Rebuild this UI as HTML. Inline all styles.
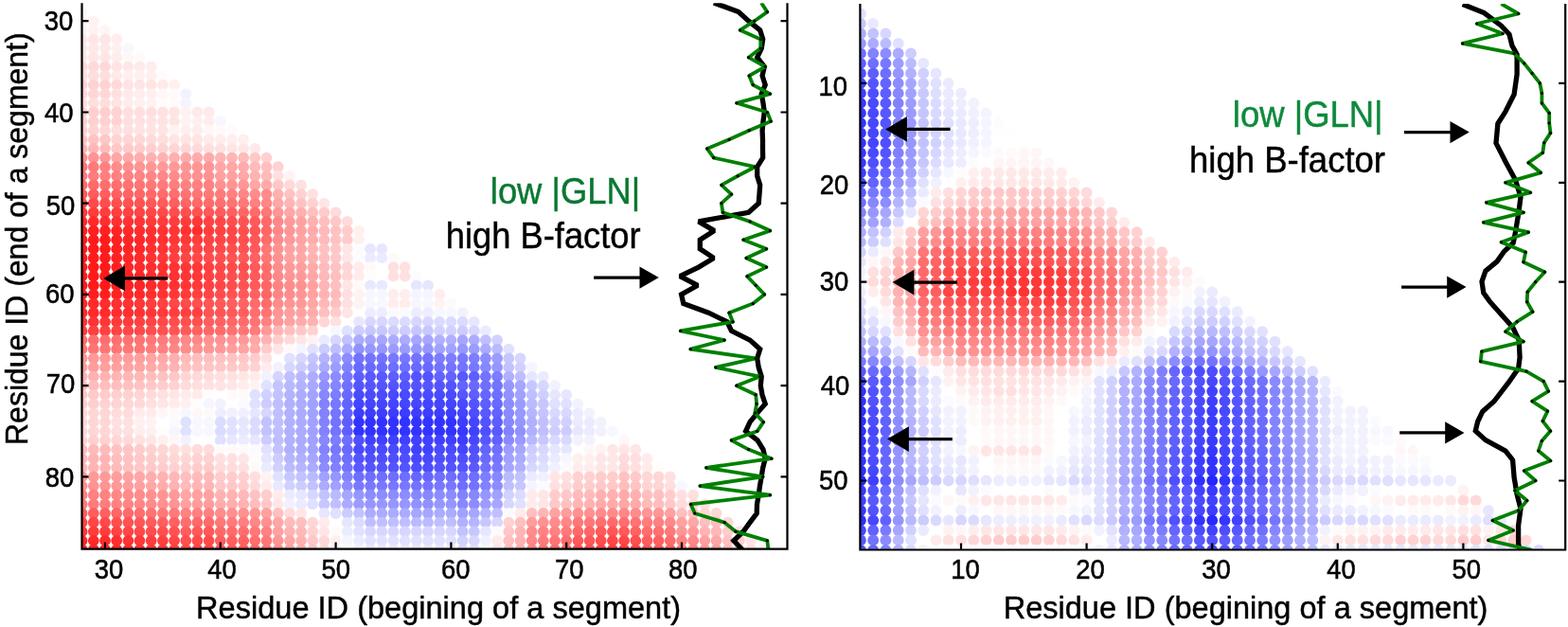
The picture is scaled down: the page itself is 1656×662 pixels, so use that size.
<!DOCTYPE html>
<html><head><meta charset="utf-8"><title>GLN vs B-factor</title>
<style>
html,body{margin:0;padding:0;background:#fff;overflow:hidden;}
svg{display:block;}
.tk{font-family:"Liberation Sans",Arial,sans-serif;font-size:29px;fill:#000;stroke:#000;stroke-width:0.55px;}
.al{font-family:"Liberation Sans",Arial,sans-serif;font-size:33px;fill:#000;stroke:#000;stroke-width:0.45px;}
.an{font-family:"Liberation Sans",Arial,sans-serif;font-size:38px;stroke-width:0.45px;}
</style></head><body>
<svg width="1656" height="662" viewBox="0 0 1656 662">
<defs><clipPath id="c1"><rect x="86.5" y="3.3" width="745.0" height="576.3"/></clipPath>
<clipPath id="c2"><rect x="908.4" y="4.1" width="744.8" height="576.4"/></clipPath></defs>
<rect width="1656" height="662" fill="#fff"/>
<g clip-path="url(#c1)"><circle cx="86.6" cy="12.6" r="5.90" fill="#f7f7ff"/>
<circle cx="86.6" cy="22.2" r="5.90" fill="#fff7f7"/>
<circle cx="98.8" cy="22.2" r="5.90" fill="#fff2f2"/>
<circle cx="86.6" cy="31.8" r="5.90" fill="#fff2f2"/>
<circle cx="98.8" cy="31.8" r="5.90" fill="#fff2f2"/>
<circle cx="111.0" cy="31.8" r="5.90" fill="#fff5f5"/>
<circle cx="86.6" cy="41.5" r="5.90" fill="#ffe6e6"/>
<circle cx="98.8" cy="41.5" r="5.90" fill="#ffe6e6"/>
<circle cx="111.0" cy="41.5" r="5.90" fill="#ffe6e6"/>
<circle cx="123.2" cy="41.5" r="5.90" fill="#ffeded"/>
<circle cx="86.6" cy="51.1" r="5.90" fill="#ffe8e8"/>
<circle cx="98.8" cy="51.1" r="5.90" fill="#ffe8e8"/>
<circle cx="111.0" cy="51.1" r="5.90" fill="#ffe8e8"/>
<circle cx="123.2" cy="51.1" r="5.90" fill="#fff0f0"/>
<circle cx="135.4" cy="51.1" r="5.90" fill="#f7f7ff"/>
<circle cx="86.6" cy="60.7" r="5.90" fill="#ffe6e6"/>
<circle cx="98.8" cy="60.7" r="5.90" fill="#ffe6e6"/>
<circle cx="111.0" cy="60.7" r="5.90" fill="#ffe6e6"/>
<circle cx="123.2" cy="60.7" r="5.90" fill="#ffeded"/>
<circle cx="135.4" cy="60.7" r="5.90" fill="#fff7f7"/>
<circle cx="147.5" cy="60.7" r="5.90" fill="#fffafa"/>
<circle cx="86.6" cy="70.3" r="5.90" fill="#ffd9d9"/>
<circle cx="98.8" cy="70.3" r="5.90" fill="#ffd9d9"/>
<circle cx="111.0" cy="70.3" r="5.90" fill="#ffd9d9"/>
<circle cx="123.2" cy="70.3" r="5.90" fill="#ffe4e4"/>
<circle cx="135.4" cy="70.3" r="5.90" fill="#ffe7e7"/>
<circle cx="147.5" cy="70.3" r="5.90" fill="#ffe9e9"/>
<circle cx="159.7" cy="70.3" r="5.90" fill="#ffeded"/>
<circle cx="86.6" cy="80.0" r="5.90" fill="#ffdede"/>
<circle cx="98.8" cy="80.0" r="5.90" fill="#ffdede"/>
<circle cx="111.0" cy="80.0" r="5.90" fill="#ffdede"/>
<circle cx="123.2" cy="80.0" r="5.90" fill="#ffe9e9"/>
<circle cx="135.4" cy="80.0" r="5.90" fill="#ffefef"/>
<circle cx="147.5" cy="80.0" r="5.90" fill="#ffefef"/>
<circle cx="159.7" cy="80.0" r="5.90" fill="#ffefef"/>
<circle cx="171.9" cy="80.0" r="5.90" fill="#fffbfb"/>
<circle cx="86.6" cy="89.6" r="5.90" fill="#ffd3d3"/>
<circle cx="98.8" cy="89.6" r="5.90" fill="#ffd3d3"/>
<circle cx="111.0" cy="89.6" r="5.90" fill="#ffd3d3"/>
<circle cx="123.2" cy="89.6" r="5.90" fill="#ffd9d9"/>
<circle cx="135.4" cy="89.6" r="5.90" fill="#ffe4e4"/>
<circle cx="147.5" cy="89.6" r="5.90" fill="#ffe4e4"/>
<circle cx="159.7" cy="89.6" r="5.90" fill="#ffe4e4"/>
<circle cx="171.9" cy="89.6" r="5.90" fill="#ffe9e9"/>
<circle cx="184.1" cy="89.6" r="5.90" fill="#ffefef"/>
<circle cx="86.6" cy="99.2" r="5.90" fill="#ffd7d7"/>
<circle cx="98.8" cy="99.2" r="5.90" fill="#ffd7d7"/>
<circle cx="111.0" cy="99.2" r="5.90" fill="#ffd7d7"/>
<circle cx="123.2" cy="99.2" r="5.90" fill="#ffe0e0"/>
<circle cx="135.4" cy="99.2" r="5.90" fill="#ffe9e9"/>
<circle cx="147.5" cy="99.2" r="5.90" fill="#ffecec"/>
<circle cx="159.7" cy="99.2" r="5.90" fill="#ffefef"/>
<circle cx="171.9" cy="99.2" r="5.90" fill="#fff8f8"/>
<circle cx="184.1" cy="99.2" r="5.90" fill="#fffbfb"/>
<circle cx="196.3" cy="99.2" r="5.90" fill="#f2f2ff"/>
<circle cx="86.6" cy="108.8" r="5.90" fill="#ffdede"/>
<circle cx="98.8" cy="108.8" r="5.90" fill="#ffdede"/>
<circle cx="111.0" cy="108.8" r="5.90" fill="#ffdede"/>
<circle cx="123.2" cy="108.8" r="5.90" fill="#ffe4e4"/>
<circle cx="135.4" cy="108.8" r="5.90" fill="#ffeded"/>
<circle cx="147.5" cy="108.8" r="5.90" fill="#ffefef"/>
<circle cx="159.7" cy="108.8" r="5.90" fill="#fff2f2"/>
<circle cx="171.9" cy="108.8" r="5.90" fill="#fffbfb"/>
<circle cx="184.1" cy="108.8" r="5.90" fill="#fffbfb"/>
<circle cx="196.3" cy="108.8" r="5.90" fill="#f5f5ff"/>
<circle cx="86.6" cy="118.5" r="5.90" fill="#ffcece"/>
<circle cx="98.8" cy="118.5" r="5.90" fill="#ffcece"/>
<circle cx="111.0" cy="118.5" r="5.90" fill="#ffcece"/>
<circle cx="123.2" cy="118.5" r="5.90" fill="#ffd3d3"/>
<circle cx="135.4" cy="118.5" r="5.90" fill="#ffdede"/>
<circle cx="147.5" cy="118.5" r="5.90" fill="#ffdede"/>
<circle cx="159.7" cy="118.5" r="5.90" fill="#ffdede"/>
<circle cx="171.9" cy="118.5" r="5.90" fill="#ffe1e1"/>
<circle cx="184.1" cy="118.5" r="5.90" fill="#ffe4e4"/>
<circle cx="196.3" cy="118.5" r="5.90" fill="#fff2f2"/>
<circle cx="208.4" cy="118.5" r="5.90" fill="#ffe9e9"/>
<circle cx="220.6" cy="118.5" r="5.90" fill="#ffe9e9"/>
<circle cx="86.6" cy="128.1" r="5.90" fill="#ffcece"/>
<circle cx="98.8" cy="128.1" r="5.90" fill="#ffd0d0"/>
<circle cx="111.0" cy="128.1" r="5.90" fill="#ffd1d1"/>
<circle cx="123.2" cy="128.1" r="5.90" fill="#ffd3d3"/>
<circle cx="135.4" cy="128.1" r="5.90" fill="#ffdede"/>
<circle cx="147.5" cy="128.1" r="5.90" fill="#ffe0e0"/>
<circle cx="159.7" cy="128.1" r="5.90" fill="#ffe2e2"/>
<circle cx="171.9" cy="128.1" r="5.90" fill="#ffe3e3"/>
<circle cx="184.1" cy="128.1" r="5.90" fill="#ffe4e4"/>
<circle cx="196.3" cy="128.1" r="5.90" fill="#fff2f2"/>
<circle cx="208.4" cy="128.1" r="5.90" fill="#ffefef"/>
<circle cx="220.6" cy="128.1" r="5.90" fill="#ffeded"/>
<circle cx="232.8" cy="128.1" r="5.90" fill="#f7f7ff"/>
<circle cx="86.6" cy="137.7" r="5.90" fill="#ffcece"/>
<circle cx="98.8" cy="137.7" r="5.90" fill="#ffd3d3"/>
<circle cx="111.0" cy="137.7" r="5.90" fill="#ffd7d7"/>
<circle cx="123.2" cy="137.7" r="5.90" fill="#ffdede"/>
<circle cx="135.4" cy="137.7" r="5.90" fill="#ffe0e0"/>
<circle cx="147.5" cy="137.7" r="5.90" fill="#ffe2e2"/>
<circle cx="159.7" cy="137.7" r="5.90" fill="#ffe3e3"/>
<circle cx="171.9" cy="137.7" r="5.90" fill="#ffe4e4"/>
<circle cx="184.1" cy="137.7" r="5.90" fill="#fff2f2"/>
<circle cx="196.3" cy="137.7" r="5.90" fill="#ffefef"/>
<circle cx="208.4" cy="137.7" r="5.90" fill="#ffeded"/>
<circle cx="220.6" cy="137.7" r="5.90" fill="#fff8f8"/>
<circle cx="232.8" cy="137.7" r="5.90" fill="#fff9f9"/>
<circle cx="245.0" cy="137.7" r="5.90" fill="#fffbfb"/>
<circle cx="86.6" cy="147.3" r="5.90" fill="#ffc1c1"/>
<circle cx="98.8" cy="147.3" r="5.90" fill="#ffc4c4"/>
<circle cx="111.0" cy="147.3" r="5.90" fill="#ffc8c8"/>
<circle cx="123.2" cy="147.3" r="5.90" fill="#ffd3d3"/>
<circle cx="135.4" cy="147.3" r="5.90" fill="#ffd5d5"/>
<circle cx="147.5" cy="147.3" r="5.90" fill="#ffd7d7"/>
<circle cx="159.7" cy="147.3" r="5.90" fill="#ffdada"/>
<circle cx="171.9" cy="147.3" r="5.90" fill="#ffdede"/>
<circle cx="184.1" cy="147.3" r="5.90" fill="#ffe4e4"/>
<circle cx="196.3" cy="147.3" r="5.90" fill="#ffe4e4"/>
<circle cx="208.4" cy="147.3" r="5.90" fill="#ffe4e4"/>
<circle cx="220.6" cy="147.3" r="5.90" fill="#ffe9e9"/>
<circle cx="232.8" cy="147.3" r="5.90" fill="#ffeded"/>
<circle cx="245.0" cy="147.3" r="5.90" fill="#ffeeee"/>
<circle cx="257.2" cy="147.3" r="5.90" fill="#ffefef"/>
<circle cx="86.6" cy="156.9" r="5.90" fill="#ffb1b1"/>
<circle cx="98.8" cy="156.9" r="5.90" fill="#ffb6b6"/>
<circle cx="111.0" cy="156.9" r="5.90" fill="#ffbcbc"/>
<circle cx="123.2" cy="156.9" r="5.90" fill="#ffc8c8"/>
<circle cx="135.4" cy="156.9" r="5.90" fill="#ffcaca"/>
<circle cx="147.5" cy="156.9" r="5.90" fill="#ffcccc"/>
<circle cx="159.7" cy="156.9" r="5.90" fill="#ffcfcf"/>
<circle cx="171.9" cy="156.9" r="5.90" fill="#ffd3d3"/>
<circle cx="184.1" cy="156.9" r="5.90" fill="#ffd5d5"/>
<circle cx="196.3" cy="156.9" r="5.90" fill="#ffd7d7"/>
<circle cx="208.4" cy="156.9" r="5.90" fill="#ffdada"/>
<circle cx="220.6" cy="156.9" r="5.90" fill="#ffdede"/>
<circle cx="232.8" cy="156.9" r="5.90" fill="#ffe1e1"/>
<circle cx="245.0" cy="156.9" r="5.90" fill="#ffe4e4"/>
<circle cx="257.2" cy="156.9" r="5.90" fill="#ffe7e7"/>
<circle cx="269.3" cy="156.9" r="5.90" fill="#ffe9e9"/>
<circle cx="86.6" cy="166.6" r="5.90" fill="#ff8c8c"/>
<circle cx="98.8" cy="166.6" r="5.90" fill="#ff9393"/>
<circle cx="111.0" cy="166.6" r="5.90" fill="#ff9999"/>
<circle cx="123.2" cy="166.6" r="5.90" fill="#ffa6a6"/>
<circle cx="135.4" cy="166.6" r="5.90" fill="#ffaaaa"/>
<circle cx="147.5" cy="166.6" r="5.90" fill="#ffadad"/>
<circle cx="159.7" cy="166.6" r="5.90" fill="#ffb0b0"/>
<circle cx="171.9" cy="166.6" r="5.90" fill="#ffb2b2"/>
<circle cx="184.1" cy="166.6" r="5.90" fill="#ffafaf"/>
<circle cx="196.3" cy="166.6" r="5.90" fill="#ffabab"/>
<circle cx="208.4" cy="166.6" r="5.90" fill="#ffabab"/>
<circle cx="220.6" cy="166.6" r="5.90" fill="#ffabab"/>
<circle cx="232.8" cy="166.6" r="5.90" fill="#ffb5b5"/>
<circle cx="245.0" cy="166.6" r="5.90" fill="#ffb5b5"/>
<circle cx="257.2" cy="166.6" r="5.90" fill="#ffbaba"/>
<circle cx="269.3" cy="166.6" r="5.90" fill="#ffc7c7"/>
<circle cx="281.5" cy="166.6" r="5.90" fill="#ffd1d1"/>
<circle cx="86.6" cy="176.2" r="5.90" fill="#ff7373"/>
<circle cx="98.8" cy="176.2" r="5.90" fill="#ff7979"/>
<circle cx="111.0" cy="176.2" r="5.90" fill="#ff8080"/>
<circle cx="123.2" cy="176.2" r="5.90" fill="#ff8c8c"/>
<circle cx="135.4" cy="176.2" r="5.90" fill="#ff9090"/>
<circle cx="147.5" cy="176.2" r="5.90" fill="#ff9494"/>
<circle cx="159.7" cy="176.2" r="5.90" fill="#ff9696"/>
<circle cx="171.9" cy="176.2" r="5.90" fill="#ff9999"/>
<circle cx="184.1" cy="176.2" r="5.90" fill="#ff9898"/>
<circle cx="196.3" cy="176.2" r="5.90" fill="#ff9696"/>
<circle cx="208.4" cy="176.2" r="5.90" fill="#ff9696"/>
<circle cx="220.6" cy="176.2" r="5.90" fill="#ff9696"/>
<circle cx="232.8" cy="176.2" r="5.90" fill="#ffa6a6"/>
<circle cx="245.0" cy="176.2" r="5.90" fill="#ffa6a6"/>
<circle cx="257.2" cy="176.2" r="5.90" fill="#ffabab"/>
<circle cx="269.3" cy="176.2" r="5.90" fill="#ffbaba"/>
<circle cx="281.5" cy="176.2" r="5.90" fill="#ffbfbf"/>
<circle cx="293.7" cy="176.2" r="5.90" fill="#ffd1d1"/>
<circle cx="86.6" cy="185.8" r="5.90" fill="#ff7a7a"/>
<circle cx="98.8" cy="185.8" r="5.90" fill="#ff7d7d"/>
<circle cx="111.0" cy="185.8" r="5.90" fill="#ff8080"/>
<circle cx="123.2" cy="185.8" r="5.90" fill="#ff8181"/>
<circle cx="135.4" cy="185.8" r="5.90" fill="#ff8383"/>
<circle cx="147.5" cy="185.8" r="5.90" fill="#ff8585"/>
<circle cx="159.7" cy="185.8" r="5.90" fill="#ff8686"/>
<circle cx="171.9" cy="185.8" r="5.90" fill="#ff8888"/>
<circle cx="184.1" cy="185.8" r="5.90" fill="#ff8a8a"/>
<circle cx="196.3" cy="185.8" r="5.90" fill="#ff9191"/>
<circle cx="208.4" cy="185.8" r="5.90" fill="#ff9191"/>
<circle cx="220.6" cy="185.8" r="5.90" fill="#ff9191"/>
<circle cx="232.8" cy="185.8" r="5.90" fill="#ffa1a1"/>
<circle cx="245.0" cy="185.8" r="5.90" fill="#ffa1a1"/>
<circle cx="257.2" cy="185.8" r="5.90" fill="#ffa6a6"/>
<circle cx="269.3" cy="185.8" r="5.90" fill="#ffb2b2"/>
<circle cx="281.5" cy="185.8" r="5.90" fill="#ffbaba"/>
<circle cx="293.7" cy="185.8" r="5.90" fill="#ffe0e0"/>
<circle cx="305.9" cy="185.8" r="5.90" fill="#fff2f2"/>
<circle cx="86.6" cy="195.4" r="5.90" fill="#ff6969"/>
<circle cx="98.8" cy="195.4" r="5.90" fill="#ff6b6b"/>
<circle cx="111.0" cy="195.4" r="5.90" fill="#ff6e6e"/>
<circle cx="123.2" cy="195.4" r="5.90" fill="#ff7070"/>
<circle cx="135.4" cy="195.4" r="5.90" fill="#ff7373"/>
<circle cx="147.5" cy="195.4" r="5.90" fill="#ff7575"/>
<circle cx="159.7" cy="195.4" r="5.90" fill="#ff7878"/>
<circle cx="171.9" cy="195.4" r="5.90" fill="#ff7a7a"/>
<circle cx="184.1" cy="195.4" r="5.90" fill="#ff7d7d"/>
<circle cx="196.3" cy="195.4" r="5.90" fill="#ff8282"/>
<circle cx="208.4" cy="195.4" r="5.90" fill="#ff8080"/>
<circle cx="220.6" cy="195.4" r="5.90" fill="#ff8080"/>
<circle cx="232.8" cy="195.4" r="5.90" fill="#ff9191"/>
<circle cx="245.0" cy="195.4" r="5.90" fill="#ff9494"/>
<circle cx="257.2" cy="195.4" r="5.90" fill="#ff9696"/>
<circle cx="269.3" cy="195.4" r="5.90" fill="#ffa6a6"/>
<circle cx="281.5" cy="195.4" r="5.90" fill="#ffabab"/>
<circle cx="293.7" cy="195.4" r="5.90" fill="#ffc7c7"/>
<circle cx="305.9" cy="195.4" r="5.90" fill="#ffd9d9"/>
<circle cx="318.1" cy="195.4" r="5.90" fill="#ffe0e0"/>
<circle cx="86.6" cy="205.1" r="5.90" fill="#ff5959"/>
<circle cx="98.8" cy="205.1" r="5.90" fill="#ff5c5c"/>
<circle cx="111.0" cy="205.1" r="5.90" fill="#ff5e5e"/>
<circle cx="123.2" cy="205.1" r="5.90" fill="#ff6161"/>
<circle cx="135.4" cy="205.1" r="5.90" fill="#ff6363"/>
<circle cx="147.5" cy="205.1" r="5.90" fill="#ff6666"/>
<circle cx="159.7" cy="205.1" r="5.90" fill="#ff6969"/>
<circle cx="171.9" cy="205.1" r="5.90" fill="#ff6b6b"/>
<circle cx="184.1" cy="205.1" r="5.90" fill="#ff6e6e"/>
<circle cx="196.3" cy="205.1" r="5.90" fill="#ff7373"/>
<circle cx="208.4" cy="205.1" r="5.90" fill="#ff7575"/>
<circle cx="220.6" cy="205.1" r="5.90" fill="#ff7878"/>
<circle cx="232.8" cy="205.1" r="5.90" fill="#ff7c7c"/>
<circle cx="245.0" cy="205.1" r="5.90" fill="#ff8080"/>
<circle cx="257.2" cy="205.1" r="5.90" fill="#ff8686"/>
<circle cx="269.3" cy="205.1" r="5.90" fill="#ff8c8c"/>
<circle cx="281.5" cy="205.1" r="5.90" fill="#ff8c8c"/>
<circle cx="293.7" cy="205.1" r="5.90" fill="#ffb0b0"/>
<circle cx="305.9" cy="205.1" r="5.90" fill="#ffc2c2"/>
<circle cx="318.1" cy="205.1" r="5.90" fill="#ffd1d1"/>
<circle cx="330.2" cy="205.1" r="5.90" fill="#ffe0e0"/>
<circle cx="86.6" cy="214.7" r="5.90" fill="#ff4747"/>
<circle cx="98.8" cy="214.7" r="5.90" fill="#ff4a4a"/>
<circle cx="111.0" cy="214.7" r="5.90" fill="#ff4d4d"/>
<circle cx="123.2" cy="214.7" r="5.90" fill="#ff4f4f"/>
<circle cx="135.4" cy="214.7" r="5.90" fill="#ff5252"/>
<circle cx="147.5" cy="214.7" r="5.90" fill="#ff5454"/>
<circle cx="159.7" cy="214.7" r="5.90" fill="#ff5858"/>
<circle cx="171.9" cy="214.7" r="5.90" fill="#ff5b5b"/>
<circle cx="184.1" cy="214.7" r="5.90" fill="#ff5e5e"/>
<circle cx="196.3" cy="214.7" r="5.90" fill="#ff6666"/>
<circle cx="208.4" cy="214.7" r="5.90" fill="#ff6969"/>
<circle cx="220.6" cy="214.7" r="5.90" fill="#ff6b6b"/>
<circle cx="232.8" cy="214.7" r="5.90" fill="#ff6f6f"/>
<circle cx="245.0" cy="214.7" r="5.90" fill="#ff7373"/>
<circle cx="257.2" cy="214.7" r="5.90" fill="#ff7979"/>
<circle cx="269.3" cy="214.7" r="5.90" fill="#ff8080"/>
<circle cx="281.5" cy="214.7" r="5.90" fill="#ff8787"/>
<circle cx="293.7" cy="214.7" r="5.90" fill="#ffa6a6"/>
<circle cx="305.9" cy="214.7" r="5.90" fill="#ffb5b5"/>
<circle cx="318.1" cy="214.7" r="5.90" fill="#ffc2c2"/>
<circle cx="330.2" cy="214.7" r="5.90" fill="#ffd1d1"/>
<circle cx="342.4" cy="214.7" r="5.90" fill="#ffe6e6"/>
<circle cx="86.6" cy="224.3" r="5.90" fill="#ff3838"/>
<circle cx="98.8" cy="224.3" r="5.90" fill="#ff3b3b"/>
<circle cx="111.0" cy="224.3" r="5.90" fill="#ff3d3d"/>
<circle cx="123.2" cy="224.3" r="5.90" fill="#ff4040"/>
<circle cx="135.4" cy="224.3" r="5.90" fill="#ff4242"/>
<circle cx="147.5" cy="224.3" r="5.90" fill="#ff4545"/>
<circle cx="159.7" cy="224.3" r="5.90" fill="#ff4747"/>
<circle cx="171.9" cy="224.3" r="5.90" fill="#ff4a4a"/>
<circle cx="184.1" cy="224.3" r="5.90" fill="#ff4d4d"/>
<circle cx="196.3" cy="224.3" r="5.90" fill="#ff4f4f"/>
<circle cx="208.4" cy="224.3" r="5.90" fill="#ff5353"/>
<circle cx="220.6" cy="224.3" r="5.90" fill="#ff5757"/>
<circle cx="232.8" cy="224.3" r="5.90" fill="#ff5c5c"/>
<circle cx="245.0" cy="224.3" r="5.90" fill="#ff6161"/>
<circle cx="257.2" cy="224.3" r="5.90" fill="#ff6666"/>
<circle cx="269.3" cy="224.3" r="5.90" fill="#ff6b6b"/>
<circle cx="281.5" cy="224.3" r="5.90" fill="#ff7878"/>
<circle cx="293.7" cy="224.3" r="5.90" fill="#ff9696"/>
<circle cx="305.9" cy="224.3" r="5.90" fill="#ffa6a6"/>
<circle cx="318.1" cy="224.3" r="5.90" fill="#ffb0b0"/>
<circle cx="330.2" cy="224.3" r="5.90" fill="#ffbfbf"/>
<circle cx="342.4" cy="224.3" r="5.90" fill="#ffcccc"/>
<circle cx="354.6" cy="224.3" r="5.90" fill="#ffdbdb"/>
<circle cx="86.6" cy="233.9" r="5.90" fill="#ff2929"/>
<circle cx="98.8" cy="233.9" r="5.90" fill="#ff2b2b"/>
<circle cx="111.0" cy="233.9" r="5.90" fill="#ff2e2e"/>
<circle cx="123.2" cy="233.9" r="5.90" fill="#ff3030"/>
<circle cx="135.4" cy="233.9" r="5.90" fill="#ff3333"/>
<circle cx="147.5" cy="233.9" r="5.90" fill="#ff3636"/>
<circle cx="159.7" cy="233.9" r="5.90" fill="#ff3838"/>
<circle cx="171.9" cy="233.9" r="5.90" fill="#ff3b3b"/>
<circle cx="184.1" cy="233.9" r="5.90" fill="#ff3d3d"/>
<circle cx="196.3" cy="233.9" r="5.90" fill="#ff3d3d"/>
<circle cx="208.4" cy="233.9" r="5.90" fill="#ff3838"/>
<circle cx="220.6" cy="233.9" r="5.90" fill="#ff4242"/>
<circle cx="232.8" cy="233.9" r="5.90" fill="#ff4747"/>
<circle cx="245.0" cy="233.9" r="5.90" fill="#ff4d4d"/>
<circle cx="257.2" cy="233.9" r="5.90" fill="#ff5353"/>
<circle cx="269.3" cy="233.9" r="5.90" fill="#ff5959"/>
<circle cx="281.5" cy="233.9" r="5.90" fill="#ff6969"/>
<circle cx="293.7" cy="233.9" r="5.90" fill="#ff8787"/>
<circle cx="305.9" cy="233.9" r="5.90" fill="#ff9999"/>
<circle cx="318.1" cy="233.9" r="5.90" fill="#ffa1a1"/>
<circle cx="330.2" cy="233.9" r="5.90" fill="#ffb0b0"/>
<circle cx="342.4" cy="233.9" r="5.90" fill="#ffbfbf"/>
<circle cx="354.6" cy="233.9" r="5.90" fill="#ffc7c7"/>
<circle cx="366.8" cy="233.9" r="5.90" fill="#ffdbdb"/>
<circle cx="86.6" cy="243.6" r="5.90" fill="#ff1f1f"/>
<circle cx="98.8" cy="243.6" r="5.90" fill="#ff2020"/>
<circle cx="111.0" cy="243.6" r="5.90" fill="#ff2121"/>
<circle cx="123.2" cy="243.6" r="5.90" fill="#ff2525"/>
<circle cx="135.4" cy="243.6" r="5.90" fill="#ff2a2a"/>
<circle cx="147.5" cy="243.6" r="5.90" fill="#ff2e2e"/>
<circle cx="159.7" cy="243.6" r="5.90" fill="#ff3030"/>
<circle cx="171.9" cy="243.6" r="5.90" fill="#ff3333"/>
<circle cx="184.1" cy="243.6" r="5.90" fill="#ff3636"/>
<circle cx="196.3" cy="243.6" r="5.90" fill="#ff3333"/>
<circle cx="208.4" cy="243.6" r="5.90" fill="#ff2e2e"/>
<circle cx="220.6" cy="243.6" r="5.90" fill="#ff3d3d"/>
<circle cx="232.8" cy="243.6" r="5.90" fill="#ff4242"/>
<circle cx="245.0" cy="243.6" r="5.90" fill="#ff4747"/>
<circle cx="257.2" cy="243.6" r="5.90" fill="#ff4e4e"/>
<circle cx="269.3" cy="243.6" r="5.90" fill="#ff5454"/>
<circle cx="281.5" cy="243.6" r="5.90" fill="#ff6666"/>
<circle cx="293.7" cy="243.6" r="5.90" fill="#ff8787"/>
<circle cx="305.9" cy="243.6" r="5.90" fill="#ff9696"/>
<circle cx="318.1" cy="243.6" r="5.90" fill="#ffa1a1"/>
<circle cx="330.2" cy="243.6" r="5.90" fill="#ffabab"/>
<circle cx="342.4" cy="243.6" r="5.90" fill="#ffbaba"/>
<circle cx="354.6" cy="243.6" r="5.90" fill="#ffc2c2"/>
<circle cx="366.8" cy="243.6" r="5.90" fill="#ffcccc"/>
<circle cx="379.0" cy="243.6" r="5.90" fill="#fff0f0"/>
<circle cx="86.6" cy="253.2" r="5.90" fill="#ff1919"/>
<circle cx="98.8" cy="253.2" r="5.90" fill="#ff1b1b"/>
<circle cx="111.0" cy="253.2" r="5.90" fill="#ff1c1c"/>
<circle cx="123.2" cy="253.2" r="5.90" fill="#ff2020"/>
<circle cx="135.4" cy="253.2" r="5.90" fill="#ff2525"/>
<circle cx="147.5" cy="253.2" r="5.90" fill="#ff2929"/>
<circle cx="159.7" cy="253.2" r="5.90" fill="#ff2d2d"/>
<circle cx="171.9" cy="253.2" r="5.90" fill="#ff3131"/>
<circle cx="184.1" cy="253.2" r="5.90" fill="#ff3636"/>
<circle cx="196.3" cy="253.2" r="5.90" fill="#ff3838"/>
<circle cx="208.4" cy="253.2" r="5.90" fill="#ff3d3d"/>
<circle cx="220.6" cy="253.2" r="5.90" fill="#ff4242"/>
<circle cx="232.8" cy="253.2" r="5.90" fill="#ff4545"/>
<circle cx="245.0" cy="253.2" r="5.90" fill="#ff4747"/>
<circle cx="257.2" cy="253.2" r="5.90" fill="#ff4f4f"/>
<circle cx="269.3" cy="253.2" r="5.90" fill="#ff5757"/>
<circle cx="281.5" cy="253.2" r="5.90" fill="#ff6b6b"/>
<circle cx="293.7" cy="253.2" r="5.90" fill="#ff8c8c"/>
<circle cx="305.9" cy="253.2" r="5.90" fill="#ff9999"/>
<circle cx="318.1" cy="253.2" r="5.90" fill="#ffa3a3"/>
<circle cx="330.2" cy="253.2" r="5.90" fill="#ffadad"/>
<circle cx="342.4" cy="253.2" r="5.90" fill="#ffbaba"/>
<circle cx="354.6" cy="253.2" r="5.90" fill="#ffc2c2"/>
<circle cx="366.8" cy="253.2" r="5.90" fill="#ffcccc"/>
<circle cx="379.0" cy="253.2" r="5.90" fill="#fff0f0"/>
<circle cx="86.6" cy="262.8" r="5.90" fill="#ff1919"/>
<circle cx="98.8" cy="262.8" r="5.90" fill="#ff1b1b"/>
<circle cx="111.0" cy="262.8" r="5.90" fill="#ff1c1c"/>
<circle cx="123.2" cy="262.8" r="5.90" fill="#ff2020"/>
<circle cx="135.4" cy="262.8" r="5.90" fill="#ff2525"/>
<circle cx="147.5" cy="262.8" r="5.90" fill="#ff2929"/>
<circle cx="159.7" cy="262.8" r="5.90" fill="#ff2f2f"/>
<circle cx="171.9" cy="262.8" r="5.90" fill="#ff3535"/>
<circle cx="184.1" cy="262.8" r="5.90" fill="#ff3b3b"/>
<circle cx="196.3" cy="262.8" r="5.90" fill="#ff4040"/>
<circle cx="208.4" cy="262.8" r="5.90" fill="#ff4444"/>
<circle cx="220.6" cy="262.8" r="5.90" fill="#ff4747"/>
<circle cx="232.8" cy="262.8" r="5.90" fill="#ff4a4a"/>
<circle cx="245.0" cy="262.8" r="5.90" fill="#ff4d4d"/>
<circle cx="257.2" cy="262.8" r="5.90" fill="#ff5353"/>
<circle cx="269.3" cy="262.8" r="5.90" fill="#ff5959"/>
<circle cx="281.5" cy="262.8" r="5.90" fill="#ff7878"/>
<circle cx="293.7" cy="262.8" r="5.90" fill="#ff9191"/>
<circle cx="305.9" cy="262.8" r="5.90" fill="#ffa1a1"/>
<circle cx="318.1" cy="262.8" r="5.90" fill="#ffa6a6"/>
<circle cx="330.2" cy="262.8" r="5.90" fill="#ffb5b5"/>
<circle cx="342.4" cy="262.8" r="5.90" fill="#ffc2c2"/>
<circle cx="354.6" cy="262.8" r="5.90" fill="#ffc7c7"/>
<circle cx="366.8" cy="262.8" r="5.90" fill="#ffe6e6"/>
<circle cx="379.0" cy="262.8" r="5.90" fill="#fcfcff"/>
<circle cx="391.1" cy="262.8" r="5.90" fill="#e6e6ff"/>
<circle cx="403.3" cy="262.8" r="5.90" fill="#e6e6ff"/>
<circle cx="86.6" cy="272.4" r="5.90" fill="#ff1919"/>
<circle cx="98.8" cy="272.4" r="5.90" fill="#ff1b1b"/>
<circle cx="111.0" cy="272.4" r="5.90" fill="#ff1c1c"/>
<circle cx="123.2" cy="272.4" r="5.90" fill="#ff2121"/>
<circle cx="135.4" cy="272.4" r="5.90" fill="#ff2626"/>
<circle cx="147.5" cy="272.4" r="5.90" fill="#ff2b2b"/>
<circle cx="159.7" cy="272.4" r="5.90" fill="#ff3232"/>
<circle cx="171.9" cy="272.4" r="5.90" fill="#ff3939"/>
<circle cx="184.1" cy="272.4" r="5.90" fill="#ff4040"/>
<circle cx="196.3" cy="272.4" r="5.90" fill="#ff4545"/>
<circle cx="208.4" cy="272.4" r="5.90" fill="#ff4949"/>
<circle cx="220.6" cy="272.4" r="5.90" fill="#ff4d4d"/>
<circle cx="232.8" cy="272.4" r="5.90" fill="#ff4f4f"/>
<circle cx="245.0" cy="272.4" r="5.90" fill="#ff5252"/>
<circle cx="257.2" cy="272.4" r="5.90" fill="#ff5959"/>
<circle cx="269.3" cy="272.4" r="5.90" fill="#ff6161"/>
<circle cx="281.5" cy="272.4" r="5.90" fill="#ff7878"/>
<circle cx="293.7" cy="272.4" r="5.90" fill="#ff9191"/>
<circle cx="305.9" cy="272.4" r="5.90" fill="#ffa1a1"/>
<circle cx="318.1" cy="272.4" r="5.90" fill="#ffa6a6"/>
<circle cx="330.2" cy="272.4" r="5.90" fill="#ffb2b2"/>
<circle cx="342.4" cy="272.4" r="5.90" fill="#ffbfbf"/>
<circle cx="354.6" cy="272.4" r="5.90" fill="#ffc7c7"/>
<circle cx="366.8" cy="272.4" r="5.90" fill="#ffe6e6"/>
<circle cx="379.0" cy="272.4" r="5.90" fill="#fcfcff"/>
<circle cx="391.1" cy="272.4" r="5.90" fill="#ebebff"/>
<circle cx="403.3" cy="272.4" r="5.90" fill="#ebebff"/>
<circle cx="415.5" cy="272.4" r="5.90" fill="#fffafa"/>
<circle cx="86.6" cy="282.1" r="5.90" fill="#ff1919"/>
<circle cx="98.8" cy="282.1" r="5.90" fill="#ff1919"/>
<circle cx="111.0" cy="282.1" r="5.90" fill="#ff1919"/>
<circle cx="123.2" cy="282.1" r="5.90" fill="#ff2020"/>
<circle cx="135.4" cy="282.1" r="5.90" fill="#ff2626"/>
<circle cx="147.5" cy="282.1" r="5.90" fill="#ff2a2a"/>
<circle cx="159.7" cy="282.1" r="5.90" fill="#ff2e2e"/>
<circle cx="171.9" cy="282.1" r="5.90" fill="#ff3030"/>
<circle cx="184.1" cy="282.1" r="5.90" fill="#ff3333"/>
<circle cx="196.3" cy="282.1" r="5.90" fill="#ff3636"/>
<circle cx="208.4" cy="282.1" r="5.90" fill="#ff3838"/>
<circle cx="220.6" cy="282.1" r="5.90" fill="#ff4040"/>
<circle cx="232.8" cy="282.1" r="5.90" fill="#ff4747"/>
<circle cx="245.0" cy="282.1" r="5.90" fill="#ff4a4a"/>
<circle cx="257.2" cy="282.1" r="5.90" fill="#ff4d4d"/>
<circle cx="269.3" cy="282.1" r="5.90" fill="#ff5959"/>
<circle cx="281.5" cy="282.1" r="5.90" fill="#ff6e6e"/>
<circle cx="293.7" cy="282.1" r="5.90" fill="#ff8c8c"/>
<circle cx="305.9" cy="282.1" r="5.90" fill="#ff9999"/>
<circle cx="318.1" cy="282.1" r="5.90" fill="#ff9e9e"/>
<circle cx="330.2" cy="282.1" r="5.90" fill="#ffabab"/>
<circle cx="342.4" cy="282.1" r="5.90" fill="#ffbaba"/>
<circle cx="354.6" cy="282.1" r="5.90" fill="#ffc2c2"/>
<circle cx="366.8" cy="282.1" r="5.90" fill="#ffd6d6"/>
<circle cx="379.0" cy="282.1" r="5.90" fill="#ffebeb"/>
<circle cx="391.1" cy="282.1" r="5.90" fill="#fffafa"/>
<circle cx="415.5" cy="282.1" r="5.90" fill="#ffe0e0"/>
<circle cx="427.7" cy="282.1" r="5.90" fill="#ffe0e0"/>
<circle cx="86.6" cy="291.7" r="5.90" fill="#ff1919"/>
<circle cx="98.8" cy="291.7" r="5.90" fill="#ff1919"/>
<circle cx="111.0" cy="291.7" r="5.90" fill="#ff1919"/>
<circle cx="123.2" cy="291.7" r="5.90" fill="#ff1d1d"/>
<circle cx="135.4" cy="291.7" r="5.90" fill="#ff2121"/>
<circle cx="147.5" cy="291.7" r="5.90" fill="#ff2525"/>
<circle cx="159.7" cy="291.7" r="5.90" fill="#ff2a2a"/>
<circle cx="171.9" cy="291.7" r="5.90" fill="#ff2e2e"/>
<circle cx="184.1" cy="291.7" r="5.90" fill="#ff3131"/>
<circle cx="196.3" cy="291.7" r="5.90" fill="#ff3535"/>
<circle cx="208.4" cy="291.7" r="5.90" fill="#ff3838"/>
<circle cx="220.6" cy="291.7" r="5.90" fill="#ff4040"/>
<circle cx="232.8" cy="291.7" r="5.90" fill="#ff4747"/>
<circle cx="245.0" cy="291.7" r="5.90" fill="#ff4d4d"/>
<circle cx="257.2" cy="291.7" r="5.90" fill="#ff5353"/>
<circle cx="269.3" cy="291.7" r="5.90" fill="#ff5959"/>
<circle cx="281.5" cy="291.7" r="5.90" fill="#ff6b6b"/>
<circle cx="293.7" cy="291.7" r="5.90" fill="#ff8787"/>
<circle cx="305.9" cy="291.7" r="5.90" fill="#ff9494"/>
<circle cx="318.1" cy="291.7" r="5.90" fill="#ff9999"/>
<circle cx="330.2" cy="291.7" r="5.90" fill="#ffa6a6"/>
<circle cx="342.4" cy="291.7" r="5.90" fill="#ffb8b8"/>
<circle cx="354.6" cy="291.7" r="5.90" fill="#ffbfbf"/>
<circle cx="366.8" cy="291.7" r="5.90" fill="#ffd6d6"/>
<circle cx="379.0" cy="291.7" r="5.90" fill="#ffebeb"/>
<circle cx="391.1" cy="291.7" r="5.90" fill="#fffcfc"/>
<circle cx="415.5" cy="291.7" r="5.90" fill="#ffe0e0"/>
<circle cx="427.7" cy="291.7" r="5.90" fill="#ffe0e0"/>
<circle cx="439.9" cy="291.7" r="5.90" fill="#fcfcff"/>
<circle cx="86.6" cy="301.3" r="5.90" fill="#ff1919"/>
<circle cx="98.8" cy="301.3" r="5.90" fill="#ff1919"/>
<circle cx="111.0" cy="301.3" r="5.90" fill="#ff1919"/>
<circle cx="123.2" cy="301.3" r="5.90" fill="#ff1d1d"/>
<circle cx="135.4" cy="301.3" r="5.90" fill="#ff2121"/>
<circle cx="147.5" cy="301.3" r="5.90" fill="#ff2525"/>
<circle cx="159.7" cy="301.3" r="5.90" fill="#ff2a2a"/>
<circle cx="171.9" cy="301.3" r="5.90" fill="#ff2e2e"/>
<circle cx="184.1" cy="301.3" r="5.90" fill="#ff3131"/>
<circle cx="196.3" cy="301.3" r="5.90" fill="#ff3535"/>
<circle cx="208.4" cy="301.3" r="5.90" fill="#ff3838"/>
<circle cx="220.6" cy="301.3" r="5.90" fill="#ff4040"/>
<circle cx="232.8" cy="301.3" r="5.90" fill="#ff4747"/>
<circle cx="245.0" cy="301.3" r="5.90" fill="#ff4d4d"/>
<circle cx="257.2" cy="301.3" r="5.90" fill="#ff5353"/>
<circle cx="269.3" cy="301.3" r="5.90" fill="#ff5959"/>
<circle cx="281.5" cy="301.3" r="5.90" fill="#ff6666"/>
<circle cx="293.7" cy="301.3" r="5.90" fill="#ff8282"/>
<circle cx="305.9" cy="301.3" r="5.90" fill="#ff8c8c"/>
<circle cx="318.1" cy="301.3" r="5.90" fill="#ff9191"/>
<circle cx="330.2" cy="301.3" r="5.90" fill="#ffa1a1"/>
<circle cx="342.4" cy="301.3" r="5.90" fill="#ffb5b5"/>
<circle cx="354.6" cy="301.3" r="5.90" fill="#ffbfbf"/>
<circle cx="366.8" cy="301.3" r="5.90" fill="#ffe6e6"/>
<circle cx="379.0" cy="301.3" r="5.90" fill="#fffafa"/>
<circle cx="391.1" cy="301.3" r="5.90" fill="#e8e8ff"/>
<circle cx="403.3" cy="301.3" r="5.90" fill="#e8e8ff"/>
<circle cx="439.9" cy="301.3" r="5.90" fill="#e6e6ff"/>
<circle cx="452.0" cy="301.3" r="5.90" fill="#e6e6ff"/>
<circle cx="86.6" cy="310.9" r="5.90" fill="#ff1f1f"/>
<circle cx="98.8" cy="310.9" r="5.90" fill="#ff1f1f"/>
<circle cx="111.0" cy="310.9" r="5.90" fill="#ff1f1f"/>
<circle cx="123.2" cy="310.9" r="5.90" fill="#ff2222"/>
<circle cx="135.4" cy="310.9" r="5.90" fill="#ff2626"/>
<circle cx="147.5" cy="310.9" r="5.90" fill="#ff2a2a"/>
<circle cx="159.7" cy="310.9" r="5.90" fill="#ff2f2f"/>
<circle cx="171.9" cy="310.9" r="5.90" fill="#ff3333"/>
<circle cx="184.1" cy="310.9" r="5.90" fill="#ff3737"/>
<circle cx="196.3" cy="310.9" r="5.90" fill="#ff3b3b"/>
<circle cx="208.4" cy="310.9" r="5.90" fill="#ff4040"/>
<circle cx="220.6" cy="310.9" r="5.90" fill="#ff4646"/>
<circle cx="232.8" cy="310.9" r="5.90" fill="#ff4d4d"/>
<circle cx="245.0" cy="310.9" r="5.90" fill="#ff5353"/>
<circle cx="257.2" cy="310.9" r="5.90" fill="#ff5a5a"/>
<circle cx="269.3" cy="310.9" r="5.90" fill="#ff6161"/>
<circle cx="281.5" cy="310.9" r="5.90" fill="#ff6666"/>
<circle cx="293.7" cy="310.9" r="5.90" fill="#ff8585"/>
<circle cx="305.9" cy="310.9" r="5.90" fill="#ff8c8c"/>
<circle cx="318.1" cy="310.9" r="5.90" fill="#ff9494"/>
<circle cx="330.2" cy="310.9" r="5.90" fill="#ffa1a1"/>
<circle cx="342.4" cy="310.9" r="5.90" fill="#ffb2b2"/>
<circle cx="354.6" cy="310.9" r="5.90" fill="#ffbaba"/>
<circle cx="366.8" cy="310.9" r="5.90" fill="#ffe0e0"/>
<circle cx="379.0" cy="310.9" r="5.90" fill="#fff2f2"/>
<circle cx="391.1" cy="310.9" r="5.90" fill="#f7f7ff"/>
<circle cx="403.3" cy="310.9" r="5.90" fill="#f7f7ff"/>
<circle cx="415.5" cy="310.9" r="5.90" fill="#ffeded"/>
<circle cx="427.7" cy="310.9" r="5.90" fill="#ffeded"/>
<circle cx="439.9" cy="310.9" r="5.90" fill="#f5f5ff"/>
<circle cx="452.0" cy="310.9" r="5.90" fill="#f5f5ff"/>
<circle cx="464.2" cy="310.9" r="5.90" fill="#ffeded"/>
<circle cx="86.6" cy="320.6" r="5.90" fill="#ff2626"/>
<circle cx="98.8" cy="320.6" r="5.90" fill="#ff2929"/>
<circle cx="111.0" cy="320.6" r="5.90" fill="#ff2d2d"/>
<circle cx="123.2" cy="320.6" r="5.90" fill="#ff3030"/>
<circle cx="135.4" cy="320.6" r="5.90" fill="#ff3333"/>
<circle cx="147.5" cy="320.6" r="5.90" fill="#ff3838"/>
<circle cx="159.7" cy="320.6" r="5.90" fill="#ff3d3d"/>
<circle cx="171.9" cy="320.6" r="5.90" fill="#ff4242"/>
<circle cx="184.1" cy="320.6" r="5.90" fill="#ff4747"/>
<circle cx="196.3" cy="320.6" r="5.90" fill="#ff4c4c"/>
<circle cx="208.4" cy="320.6" r="5.90" fill="#ff5050"/>
<circle cx="220.6" cy="320.6" r="5.90" fill="#ff5555"/>
<circle cx="232.8" cy="320.6" r="5.90" fill="#ff5959"/>
<circle cx="245.0" cy="320.6" r="5.90" fill="#ff5f5f"/>
<circle cx="257.2" cy="320.6" r="5.90" fill="#ff6565"/>
<circle cx="269.3" cy="320.6" r="5.90" fill="#ff6b6b"/>
<circle cx="281.5" cy="320.6" r="5.90" fill="#ff6b6b"/>
<circle cx="293.7" cy="320.6" r="5.90" fill="#ff8c8c"/>
<circle cx="305.9" cy="320.6" r="5.90" fill="#ff9494"/>
<circle cx="318.1" cy="320.6" r="5.90" fill="#ff9999"/>
<circle cx="330.2" cy="320.6" r="5.90" fill="#ffa6a6"/>
<circle cx="342.4" cy="320.6" r="5.90" fill="#ffb8b8"/>
<circle cx="354.6" cy="320.6" r="5.90" fill="#ffbfbf"/>
<circle cx="366.8" cy="320.6" r="5.90" fill="#ffe0e0"/>
<circle cx="379.0" cy="320.6" r="5.90" fill="#fff2f2"/>
<circle cx="391.1" cy="320.6" r="5.90" fill="#f7f7ff"/>
<circle cx="403.3" cy="320.6" r="5.90" fill="#f7f7ff"/>
<circle cx="415.5" cy="320.6" r="5.90" fill="#ffeded"/>
<circle cx="427.7" cy="320.6" r="5.90" fill="#ffeded"/>
<circle cx="439.9" cy="320.6" r="5.90" fill="#f7f7ff"/>
<circle cx="452.0" cy="320.6" r="5.90" fill="#f7f7ff"/>
<circle cx="464.2" cy="320.6" r="5.90" fill="#fff2f2"/>
<circle cx="476.4" cy="320.6" r="5.90" fill="#fffafa"/>
<circle cx="86.6" cy="330.2" r="5.90" fill="#ff2929"/>
<circle cx="98.8" cy="330.2" r="5.90" fill="#ff2a2a"/>
<circle cx="111.0" cy="330.2" r="5.90" fill="#ff2b2b"/>
<circle cx="123.2" cy="330.2" r="5.90" fill="#ff2e2e"/>
<circle cx="135.4" cy="330.2" r="5.90" fill="#ff3030"/>
<circle cx="147.5" cy="330.2" r="5.90" fill="#ff3333"/>
<circle cx="159.7" cy="330.2" r="5.90" fill="#ff3636"/>
<circle cx="171.9" cy="330.2" r="5.90" fill="#ff3a3a"/>
<circle cx="184.1" cy="330.2" r="5.90" fill="#ff3d3d"/>
<circle cx="196.3" cy="330.2" r="5.90" fill="#ff4040"/>
<circle cx="208.4" cy="330.2" r="5.90" fill="#ff4040"/>
<circle cx="220.6" cy="330.2" r="5.90" fill="#ff5454"/>
<circle cx="232.8" cy="330.2" r="5.90" fill="#ff5454"/>
<circle cx="245.0" cy="330.2" r="5.90" fill="#ff5959"/>
<circle cx="257.2" cy="330.2" r="5.90" fill="#ff5e5e"/>
<circle cx="269.3" cy="330.2" r="5.90" fill="#ff6e6e"/>
<circle cx="281.5" cy="330.2" r="5.90" fill="#ff7373"/>
<circle cx="293.7" cy="330.2" r="5.90" fill="#ff9494"/>
<circle cx="305.9" cy="330.2" r="5.90" fill="#ff9e9e"/>
<circle cx="318.1" cy="330.2" r="5.90" fill="#ffa1a1"/>
<circle cx="330.2" cy="330.2" r="5.90" fill="#ffabab"/>
<circle cx="342.4" cy="330.2" r="5.90" fill="#ffbfbf"/>
<circle cx="354.6" cy="330.2" r="5.90" fill="#ffcccc"/>
<circle cx="366.8" cy="330.2" r="5.90" fill="#ffe6e6"/>
<circle cx="391.1" cy="330.2" r="5.90" fill="#ededff"/>
<circle cx="403.3" cy="330.2" r="5.90" fill="#ededff"/>
<circle cx="415.5" cy="330.2" r="5.90" fill="#fafaff"/>
<circle cx="427.7" cy="330.2" r="5.90" fill="#fafaff"/>
<circle cx="439.9" cy="330.2" r="5.90" fill="#ededff"/>
<circle cx="452.0" cy="330.2" r="5.90" fill="#ededff"/>
<circle cx="464.2" cy="330.2" r="5.90" fill="#f7f7ff"/>
<circle cx="476.4" cy="330.2" r="5.90" fill="#f7f7ff"/>
<circle cx="488.6" cy="330.2" r="5.90" fill="#f2f2ff"/>
<circle cx="86.6" cy="339.8" r="5.90" fill="#ff3333"/>
<circle cx="98.8" cy="339.8" r="5.90" fill="#ff3434"/>
<circle cx="111.0" cy="339.8" r="5.90" fill="#ff3636"/>
<circle cx="123.2" cy="339.8" r="5.90" fill="#ff3939"/>
<circle cx="135.4" cy="339.8" r="5.90" fill="#ff3c3c"/>
<circle cx="147.5" cy="339.8" r="5.90" fill="#ff4040"/>
<circle cx="159.7" cy="339.8" r="5.90" fill="#ff4444"/>
<circle cx="171.9" cy="339.8" r="5.90" fill="#ff4848"/>
<circle cx="184.1" cy="339.8" r="5.90" fill="#ff4d4d"/>
<circle cx="196.3" cy="339.8" r="5.90" fill="#ff4f4f"/>
<circle cx="208.4" cy="339.8" r="5.90" fill="#ff4f4f"/>
<circle cx="220.6" cy="339.8" r="5.90" fill="#ff5e5e"/>
<circle cx="232.8" cy="339.8" r="5.90" fill="#ff6161"/>
<circle cx="245.0" cy="339.8" r="5.90" fill="#ff6666"/>
<circle cx="257.2" cy="339.8" r="5.90" fill="#ff6b6b"/>
<circle cx="269.3" cy="339.8" r="5.90" fill="#ff7373"/>
<circle cx="281.5" cy="339.8" r="5.90" fill="#ff8080"/>
<circle cx="293.7" cy="339.8" r="5.90" fill="#ff9696"/>
<circle cx="305.9" cy="339.8" r="5.90" fill="#ffa1a1"/>
<circle cx="318.1" cy="339.8" r="5.90" fill="#ffabab"/>
<circle cx="330.2" cy="339.8" r="5.90" fill="#ffb2b2"/>
<circle cx="342.4" cy="339.8" r="5.90" fill="#ffd6d6"/>
<circle cx="354.6" cy="339.8" r="5.90" fill="#ffe0e0"/>
<circle cx="379.0" cy="339.8" r="5.90" fill="#e6e6ff"/>
<circle cx="391.1" cy="339.8" r="5.90" fill="#d6d6ff"/>
<circle cx="403.3" cy="339.8" r="5.90" fill="#d6d6ff"/>
<circle cx="415.5" cy="339.8" r="5.90" fill="#dbdbff"/>
<circle cx="427.7" cy="339.8" r="5.90" fill="#dbdbff"/>
<circle cx="439.9" cy="339.8" r="5.90" fill="#d6d6ff"/>
<circle cx="452.0" cy="339.8" r="5.90" fill="#d6d6ff"/>
<circle cx="464.2" cy="339.8" r="5.90" fill="#dbdbff"/>
<circle cx="476.4" cy="339.8" r="5.90" fill="#dbdbff"/>
<circle cx="488.6" cy="339.8" r="5.90" fill="#dbdbff"/>
<circle cx="500.8" cy="339.8" r="5.90" fill="#e6e6ff"/>
<circle cx="86.6" cy="349.4" r="5.90" fill="#ff3d3d"/>
<circle cx="98.8" cy="349.4" r="5.90" fill="#ff3e3e"/>
<circle cx="111.0" cy="349.4" r="5.90" fill="#ff4040"/>
<circle cx="123.2" cy="349.4" r="5.90" fill="#ff4343"/>
<circle cx="135.4" cy="349.4" r="5.90" fill="#ff4747"/>
<circle cx="147.5" cy="349.4" r="5.90" fill="#ff4a4a"/>
<circle cx="159.7" cy="349.4" r="5.90" fill="#ff4d4d"/>
<circle cx="171.9" cy="349.4" r="5.90" fill="#ff5151"/>
<circle cx="184.1" cy="349.4" r="5.90" fill="#ff5454"/>
<circle cx="196.3" cy="349.4" r="5.90" fill="#ff5959"/>
<circle cx="208.4" cy="349.4" r="5.90" fill="#ff6060"/>
<circle cx="220.6" cy="349.4" r="5.90" fill="#ff6666"/>
<circle cx="232.8" cy="349.4" r="5.90" fill="#ff6b6b"/>
<circle cx="245.0" cy="349.4" r="5.90" fill="#ff7070"/>
<circle cx="257.2" cy="349.4" r="5.90" fill="#ff7575"/>
<circle cx="269.3" cy="349.4" r="5.90" fill="#ff7a7a"/>
<circle cx="281.5" cy="349.4" r="5.90" fill="#ff9999"/>
<circle cx="293.7" cy="349.4" r="5.90" fill="#ffb5b5"/>
<circle cx="305.9" cy="349.4" r="5.90" fill="#ffbfbf"/>
<circle cx="318.1" cy="349.4" r="5.90" fill="#ffc7c7"/>
<circle cx="330.2" cy="349.4" r="5.90" fill="#ffd1d1"/>
<circle cx="354.6" cy="349.4" r="5.90" fill="#f7f7ff"/>
<circle cx="366.8" cy="349.4" r="5.90" fill="#e0e0ff"/>
<circle cx="379.0" cy="349.4" r="5.90" fill="#ccccff"/>
<circle cx="391.1" cy="349.4" r="5.90" fill="#c7c7ff"/>
<circle cx="403.3" cy="349.4" r="5.90" fill="#c7c7ff"/>
<circle cx="415.5" cy="349.4" r="5.90" fill="#ccccff"/>
<circle cx="427.7" cy="349.4" r="5.90" fill="#ccccff"/>
<circle cx="439.9" cy="349.4" r="5.90" fill="#c7c7ff"/>
<circle cx="452.0" cy="349.4" r="5.90" fill="#c7c7ff"/>
<circle cx="464.2" cy="349.4" r="5.90" fill="#d1d1ff"/>
<circle cx="476.4" cy="349.4" r="5.90" fill="#d1d1ff"/>
<circle cx="488.6" cy="349.4" r="5.90" fill="#ccccff"/>
<circle cx="500.8" cy="349.4" r="5.90" fill="#d6d6ff"/>
<circle cx="512.9" cy="349.4" r="5.90" fill="#ebebff"/>
<circle cx="86.6" cy="359.1" r="5.90" fill="#ff6e6e"/>
<circle cx="98.8" cy="359.1" r="5.90" fill="#ff6e6e"/>
<circle cx="111.0" cy="359.1" r="5.90" fill="#ff6e6e"/>
<circle cx="123.2" cy="359.1" r="5.90" fill="#ff6f6f"/>
<circle cx="135.4" cy="359.1" r="5.90" fill="#ff7171"/>
<circle cx="147.5" cy="359.1" r="5.90" fill="#ff7373"/>
<circle cx="159.7" cy="359.1" r="5.90" fill="#ff7777"/>
<circle cx="171.9" cy="359.1" r="5.90" fill="#ff7b7b"/>
<circle cx="184.1" cy="359.1" r="5.90" fill="#ff8080"/>
<circle cx="196.3" cy="359.1" r="5.90" fill="#ff8787"/>
<circle cx="208.4" cy="359.1" r="5.90" fill="#ff8787"/>
<circle cx="220.6" cy="359.1" r="5.90" fill="#ff9191"/>
<circle cx="232.8" cy="359.1" r="5.90" fill="#ff9191"/>
<circle cx="245.0" cy="359.1" r="5.90" fill="#ff9696"/>
<circle cx="257.2" cy="359.1" r="5.90" fill="#ff9999"/>
<circle cx="269.3" cy="359.1" r="5.90" fill="#ffa6a6"/>
<circle cx="281.5" cy="359.1" r="5.90" fill="#ffb2b2"/>
<circle cx="293.7" cy="359.1" r="5.90" fill="#ffcccc"/>
<circle cx="305.9" cy="359.1" r="5.90" fill="#ffd9d9"/>
<circle cx="318.1" cy="359.1" r="5.90" fill="#ffe6e6"/>
<circle cx="330.2" cy="359.1" r="5.90" fill="#fff2f2"/>
<circle cx="342.4" cy="359.1" r="5.90" fill="#ebebff"/>
<circle cx="354.6" cy="359.1" r="5.90" fill="#d6d6ff"/>
<circle cx="366.8" cy="359.1" r="5.90" fill="#c2c2ff"/>
<circle cx="379.0" cy="359.1" r="5.90" fill="#ababff"/>
<circle cx="391.1" cy="359.1" r="5.90" fill="#a6a6ff"/>
<circle cx="403.3" cy="359.1" r="5.90" fill="#a6a6ff"/>
<circle cx="415.5" cy="359.1" r="5.90" fill="#ababff"/>
<circle cx="427.7" cy="359.1" r="5.90" fill="#ababff"/>
<circle cx="439.9" cy="359.1" r="5.90" fill="#a6a6ff"/>
<circle cx="452.0" cy="359.1" r="5.90" fill="#a6a6ff"/>
<circle cx="464.2" cy="359.1" r="5.90" fill="#b0b0ff"/>
<circle cx="476.4" cy="359.1" r="5.90" fill="#b0b0ff"/>
<circle cx="488.6" cy="359.1" r="5.90" fill="#a6a6ff"/>
<circle cx="500.8" cy="359.1" r="5.90" fill="#ababff"/>
<circle cx="512.9" cy="359.1" r="5.90" fill="#bfbfff"/>
<circle cx="525.1" cy="359.1" r="5.90" fill="#d1d1ff"/>
<circle cx="86.6" cy="368.7" r="5.90" fill="#ff7373"/>
<circle cx="98.8" cy="368.7" r="5.90" fill="#ff7474"/>
<circle cx="111.0" cy="368.7" r="5.90" fill="#ff7575"/>
<circle cx="123.2" cy="368.7" r="5.90" fill="#ff7676"/>
<circle cx="135.4" cy="368.7" r="5.90" fill="#ff7777"/>
<circle cx="147.5" cy="368.7" r="5.90" fill="#ff7878"/>
<circle cx="159.7" cy="368.7" r="5.90" fill="#ff7c7c"/>
<circle cx="171.9" cy="368.7" r="5.90" fill="#ff8080"/>
<circle cx="184.1" cy="368.7" r="5.90" fill="#ff8585"/>
<circle cx="196.3" cy="368.7" r="5.90" fill="#ff8c8c"/>
<circle cx="208.4" cy="368.7" r="5.90" fill="#ff9191"/>
<circle cx="220.6" cy="368.7" r="5.90" fill="#ff9696"/>
<circle cx="232.8" cy="368.7" r="5.90" fill="#ff9999"/>
<circle cx="245.0" cy="368.7" r="5.90" fill="#ff9c9c"/>
<circle cx="257.2" cy="368.7" r="5.90" fill="#ffa3a3"/>
<circle cx="269.3" cy="368.7" r="5.90" fill="#ffabab"/>
<circle cx="281.5" cy="368.7" r="5.90" fill="#ffcccc"/>
<circle cx="293.7" cy="368.7" r="5.90" fill="#ffe6e6"/>
<circle cx="305.9" cy="368.7" r="5.90" fill="#fffafa"/>
<circle cx="318.1" cy="368.7" r="5.90" fill="#f5f5ff"/>
<circle cx="330.2" cy="368.7" r="5.90" fill="#e0e0ff"/>
<circle cx="342.4" cy="368.7" r="5.90" fill="#ccccff"/>
<circle cx="354.6" cy="368.7" r="5.90" fill="#bfbfff"/>
<circle cx="366.8" cy="368.7" r="5.90" fill="#ababff"/>
<circle cx="379.0" cy="368.7" r="5.90" fill="#9191ff"/>
<circle cx="391.1" cy="368.7" r="5.90" fill="#9696ff"/>
<circle cx="403.3" cy="368.7" r="5.90" fill="#9696ff"/>
<circle cx="415.5" cy="368.7" r="5.90" fill="#9c9cff"/>
<circle cx="427.7" cy="368.7" r="5.90" fill="#9c9cff"/>
<circle cx="439.9" cy="368.7" r="5.90" fill="#9696ff"/>
<circle cx="452.0" cy="368.7" r="5.90" fill="#9696ff"/>
<circle cx="464.2" cy="368.7" r="5.90" fill="#a1a1ff"/>
<circle cx="476.4" cy="368.7" r="5.90" fill="#a1a1ff"/>
<circle cx="488.6" cy="368.7" r="5.90" fill="#9696ff"/>
<circle cx="500.8" cy="368.7" r="5.90" fill="#9c9cff"/>
<circle cx="512.9" cy="368.7" r="5.90" fill="#ababff"/>
<circle cx="525.1" cy="368.7" r="5.90" fill="#babaff"/>
<circle cx="537.3" cy="368.7" r="5.90" fill="#e0e0ff"/>
<circle cx="86.6" cy="378.3" r="5.90" fill="#ff9696"/>
<circle cx="98.8" cy="378.3" r="5.90" fill="#ff9898"/>
<circle cx="111.0" cy="378.3" r="5.90" fill="#ff9a9a"/>
<circle cx="123.2" cy="378.3" r="5.90" fill="#ff9b9b"/>
<circle cx="135.4" cy="378.3" r="5.90" fill="#ff9d9d"/>
<circle cx="147.5" cy="378.3" r="5.90" fill="#ff9e9e"/>
<circle cx="159.7" cy="378.3" r="5.90" fill="#ffa3a3"/>
<circle cx="171.9" cy="378.3" r="5.90" fill="#ffa8a8"/>
<circle cx="184.1" cy="378.3" r="5.90" fill="#ffadad"/>
<circle cx="196.3" cy="378.3" r="5.90" fill="#ffbaba"/>
<circle cx="208.4" cy="378.3" r="5.90" fill="#ffbdbd"/>
<circle cx="220.6" cy="378.3" r="5.90" fill="#ffbfbf"/>
<circle cx="232.8" cy="378.3" r="5.90" fill="#ffc1c1"/>
<circle cx="245.0" cy="378.3" r="5.90" fill="#ffc2c2"/>
<circle cx="257.2" cy="378.3" r="5.90" fill="#ffc7c7"/>
<circle cx="269.3" cy="378.3" r="5.90" fill="#ffcccc"/>
<circle cx="281.5" cy="378.3" r="5.90" fill="#ffe0e0"/>
<circle cx="305.9" cy="378.3" r="5.90" fill="#e0e0ff"/>
<circle cx="318.1" cy="378.3" r="5.90" fill="#d6d6ff"/>
<circle cx="330.2" cy="378.3" r="5.90" fill="#c7c7ff"/>
<circle cx="342.4" cy="378.3" r="5.90" fill="#b5b5ff"/>
<circle cx="354.6" cy="378.3" r="5.90" fill="#a6a6ff"/>
<circle cx="366.8" cy="378.3" r="5.90" fill="#8c8cff"/>
<circle cx="379.0" cy="378.3" r="5.90" fill="#7373ff"/>
<circle cx="391.1" cy="378.3" r="5.90" fill="#7373ff"/>
<circle cx="403.3" cy="378.3" r="5.90" fill="#7373ff"/>
<circle cx="415.5" cy="378.3" r="5.90" fill="#7878ff"/>
<circle cx="427.7" cy="378.3" r="5.90" fill="#7878ff"/>
<circle cx="439.9" cy="378.3" r="5.90" fill="#7373ff"/>
<circle cx="452.0" cy="378.3" r="5.90" fill="#7373ff"/>
<circle cx="464.2" cy="378.3" r="5.90" fill="#7d7dff"/>
<circle cx="476.4" cy="378.3" r="5.90" fill="#7d7dff"/>
<circle cx="488.6" cy="378.3" r="5.90" fill="#7878ff"/>
<circle cx="500.8" cy="378.3" r="5.90" fill="#7d7dff"/>
<circle cx="512.9" cy="378.3" r="5.90" fill="#8c8cff"/>
<circle cx="525.1" cy="378.3" r="5.90" fill="#9c9cff"/>
<circle cx="537.3" cy="378.3" r="5.90" fill="#c7c7ff"/>
<circle cx="549.5" cy="378.3" r="5.90" fill="#d6d6ff"/>
<circle cx="86.6" cy="387.9" r="5.90" fill="#ff9c9c"/>
<circle cx="98.8" cy="387.9" r="5.90" fill="#ff9d9d"/>
<circle cx="111.0" cy="387.9" r="5.90" fill="#ff9f9f"/>
<circle cx="123.2" cy="387.9" r="5.90" fill="#ffa0a0"/>
<circle cx="135.4" cy="387.9" r="5.90" fill="#ffa2a2"/>
<circle cx="147.5" cy="387.9" r="5.90" fill="#ffa3a3"/>
<circle cx="159.7" cy="387.9" r="5.90" fill="#ffa8a8"/>
<circle cx="171.9" cy="387.9" r="5.90" fill="#ffadad"/>
<circle cx="184.1" cy="387.9" r="5.90" fill="#ffb2b2"/>
<circle cx="196.3" cy="387.9" r="5.90" fill="#ffbfbf"/>
<circle cx="208.4" cy="387.9" r="5.90" fill="#ffc2c2"/>
<circle cx="220.6" cy="387.9" r="5.90" fill="#ffc4c4"/>
<circle cx="232.8" cy="387.9" r="5.90" fill="#ffc6c6"/>
<circle cx="245.0" cy="387.9" r="5.90" fill="#ffc7c7"/>
<circle cx="257.2" cy="387.9" r="5.90" fill="#ffcccc"/>
<circle cx="269.3" cy="387.9" r="5.90" fill="#ffd1d1"/>
<circle cx="281.5" cy="387.9" r="5.90" fill="#ffebeb"/>
<circle cx="293.7" cy="387.9" r="5.90" fill="#f2f2ff"/>
<circle cx="305.9" cy="387.9" r="5.90" fill="#d6d6ff"/>
<circle cx="318.1" cy="387.9" r="5.90" fill="#ccccff"/>
<circle cx="330.2" cy="387.9" r="5.90" fill="#bfbfff"/>
<circle cx="342.4" cy="387.9" r="5.90" fill="#ababff"/>
<circle cx="354.6" cy="387.9" r="5.90" fill="#9c9cff"/>
<circle cx="366.8" cy="387.9" r="5.90" fill="#8282ff"/>
<circle cx="379.0" cy="387.9" r="5.90" fill="#6969ff"/>
<circle cx="391.1" cy="387.9" r="5.90" fill="#6969ff"/>
<circle cx="403.3" cy="387.9" r="5.90" fill="#6969ff"/>
<circle cx="415.5" cy="387.9" r="5.90" fill="#6e6eff"/>
<circle cx="427.7" cy="387.9" r="5.90" fill="#6e6eff"/>
<circle cx="439.9" cy="387.9" r="5.90" fill="#6969ff"/>
<circle cx="452.0" cy="387.9" r="5.90" fill="#6969ff"/>
<circle cx="464.2" cy="387.9" r="5.90" fill="#7373ff"/>
<circle cx="476.4" cy="387.9" r="5.90" fill="#7373ff"/>
<circle cx="488.6" cy="387.9" r="5.90" fill="#7373ff"/>
<circle cx="500.8" cy="387.9" r="5.90" fill="#7878ff"/>
<circle cx="512.9" cy="387.9" r="5.90" fill="#8787ff"/>
<circle cx="525.1" cy="387.9" r="5.90" fill="#9696ff"/>
<circle cx="537.3" cy="387.9" r="5.90" fill="#c2c2ff"/>
<circle cx="549.5" cy="387.9" r="5.90" fill="#d1d1ff"/>
<circle cx="561.7" cy="387.9" r="5.90" fill="#f5f5ff"/>
<circle cx="86.6" cy="397.6" r="5.90" fill="#ffb0b0"/>
<circle cx="98.8" cy="397.6" r="5.90" fill="#ffb1b1"/>
<circle cx="111.0" cy="397.6" r="5.90" fill="#ffb3b3"/>
<circle cx="123.2" cy="397.6" r="5.90" fill="#ffb5b5"/>
<circle cx="135.4" cy="397.6" r="5.90" fill="#ffb6b6"/>
<circle cx="147.5" cy="397.6" r="5.90" fill="#ffb8b8"/>
<circle cx="159.7" cy="397.6" r="5.90" fill="#ffbdbd"/>
<circle cx="171.9" cy="397.6" r="5.90" fill="#ffc2c2"/>
<circle cx="184.1" cy="397.6" r="5.90" fill="#ffc7c7"/>
<circle cx="196.3" cy="397.6" r="5.90" fill="#ffd6d6"/>
<circle cx="208.4" cy="397.6" r="5.90" fill="#ffd9d9"/>
<circle cx="220.6" cy="397.6" r="5.90" fill="#ffdbdb"/>
<circle cx="232.8" cy="397.6" r="5.90" fill="#ffdede"/>
<circle cx="245.0" cy="397.6" r="5.90" fill="#ffe0e0"/>
<circle cx="257.2" cy="397.6" r="5.90" fill="#ffe6e6"/>
<circle cx="269.3" cy="397.6" r="5.90" fill="#ffebeb"/>
<circle cx="281.5" cy="397.6" r="5.90" fill="#f2f2ff"/>
<circle cx="293.7" cy="397.6" r="5.90" fill="#d4d4ff"/>
<circle cx="305.9" cy="397.6" r="5.90" fill="#bfbfff"/>
<circle cx="318.1" cy="397.6" r="5.90" fill="#b8b8ff"/>
<circle cx="330.2" cy="397.6" r="5.90" fill="#adadff"/>
<circle cx="342.4" cy="397.6" r="5.90" fill="#9999ff"/>
<circle cx="354.6" cy="397.6" r="5.90" fill="#8c8cff"/>
<circle cx="366.8" cy="397.6" r="5.90" fill="#7878ff"/>
<circle cx="379.0" cy="397.6" r="5.90" fill="#5e5eff"/>
<circle cx="391.1" cy="397.6" r="5.90" fill="#5959ff"/>
<circle cx="403.3" cy="397.6" r="5.90" fill="#5959ff"/>
<circle cx="415.5" cy="397.6" r="5.90" fill="#5e5eff"/>
<circle cx="427.7" cy="397.6" r="5.90" fill="#5e5eff"/>
<circle cx="439.9" cy="397.6" r="5.90" fill="#5454ff"/>
<circle cx="452.0" cy="397.6" r="5.90" fill="#5454ff"/>
<circle cx="464.2" cy="397.6" r="5.90" fill="#6363ff"/>
<circle cx="476.4" cy="397.6" r="5.90" fill="#6363ff"/>
<circle cx="488.6" cy="397.6" r="5.90" fill="#5959ff"/>
<circle cx="500.8" cy="397.6" r="5.90" fill="#5e5eff"/>
<circle cx="512.9" cy="397.6" r="5.90" fill="#7373ff"/>
<circle cx="525.1" cy="397.6" r="5.90" fill="#7d7dff"/>
<circle cx="537.3" cy="397.6" r="5.90" fill="#b0b0ff"/>
<circle cx="549.5" cy="397.6" r="5.90" fill="#bfbfff"/>
<circle cx="561.7" cy="397.6" r="5.90" fill="#e6e6ff"/>
<circle cx="573.8" cy="397.6" r="5.90" fill="#ebebff"/>
<circle cx="86.6" cy="407.2" r="5.90" fill="#ffbaba"/>
<circle cx="98.8" cy="407.2" r="5.90" fill="#ffbcbc"/>
<circle cx="111.0" cy="407.2" r="5.90" fill="#ffbdbd"/>
<circle cx="123.2" cy="407.2" r="5.90" fill="#ffbfbf"/>
<circle cx="135.4" cy="407.2" r="5.90" fill="#ffc0c0"/>
<circle cx="147.5" cy="407.2" r="5.90" fill="#ffc2c2"/>
<circle cx="159.7" cy="407.2" r="5.90" fill="#ffc7c7"/>
<circle cx="171.9" cy="407.2" r="5.90" fill="#ffcccc"/>
<circle cx="184.1" cy="407.2" r="5.90" fill="#ffd1d1"/>
<circle cx="196.3" cy="407.2" r="5.90" fill="#ffdbdb"/>
<circle cx="208.4" cy="407.2" r="5.90" fill="#ffdede"/>
<circle cx="220.6" cy="407.2" r="5.90" fill="#ffe0e0"/>
<circle cx="232.8" cy="407.2" r="5.90" fill="#ffe3e3"/>
<circle cx="245.0" cy="407.2" r="5.90" fill="#ffe6e6"/>
<circle cx="257.2" cy="407.2" r="5.90" fill="#ffecec"/>
<circle cx="269.3" cy="407.2" r="5.90" fill="#fff2f2"/>
<circle cx="281.5" cy="407.2" r="5.90" fill="#e0e0ff"/>
<circle cx="293.7" cy="407.2" r="5.90" fill="#c4c4ff"/>
<circle cx="305.9" cy="407.2" r="5.90" fill="#b8b8ff"/>
<circle cx="318.1" cy="407.2" r="5.90" fill="#b2b2ff"/>
<circle cx="330.2" cy="407.2" r="5.90" fill="#a8a8ff"/>
<circle cx="342.4" cy="407.2" r="5.90" fill="#8f8fff"/>
<circle cx="354.6" cy="407.2" r="5.90" fill="#8585ff"/>
<circle cx="366.8" cy="407.2" r="5.90" fill="#7070ff"/>
<circle cx="379.0" cy="407.2" r="5.90" fill="#5454ff"/>
<circle cx="391.1" cy="407.2" r="5.90" fill="#5454ff"/>
<circle cx="403.3" cy="407.2" r="5.90" fill="#5454ff"/>
<circle cx="415.5" cy="407.2" r="5.90" fill="#5454ff"/>
<circle cx="427.7" cy="407.2" r="5.90" fill="#5454ff"/>
<circle cx="439.9" cy="407.2" r="5.90" fill="#5454ff"/>
<circle cx="452.0" cy="407.2" r="5.90" fill="#5454ff"/>
<circle cx="464.2" cy="407.2" r="5.90" fill="#5454ff"/>
<circle cx="476.4" cy="407.2" r="5.90" fill="#5454ff"/>
<circle cx="488.6" cy="407.2" r="5.90" fill="#6363ff"/>
<circle cx="500.8" cy="407.2" r="5.90" fill="#6969ff"/>
<circle cx="512.9" cy="407.2" r="5.90" fill="#6e6eff"/>
<circle cx="525.1" cy="407.2" r="5.90" fill="#7373ff"/>
<circle cx="537.3" cy="407.2" r="5.90" fill="#9696ff"/>
<circle cx="549.5" cy="407.2" r="5.90" fill="#a6a6ff"/>
<circle cx="561.7" cy="407.2" r="5.90" fill="#c7c7ff"/>
<circle cx="573.8" cy="407.2" r="5.90" fill="#d6d6ff"/>
<circle cx="586.0" cy="407.2" r="5.90" fill="#f2f2ff"/>
<circle cx="86.6" cy="416.8" r="5.90" fill="#ffc7c7"/>
<circle cx="98.8" cy="416.8" r="5.90" fill="#ffc9c9"/>
<circle cx="111.0" cy="416.8" r="5.90" fill="#ffcccc"/>
<circle cx="123.2" cy="416.8" r="5.90" fill="#ffcfcf"/>
<circle cx="135.4" cy="416.8" r="5.90" fill="#ffd1d1"/>
<circle cx="147.5" cy="416.8" r="5.90" fill="#ffd4d4"/>
<circle cx="159.7" cy="416.8" r="5.90" fill="#ffdada"/>
<circle cx="171.9" cy="416.8" r="5.90" fill="#ffe0e0"/>
<circle cx="184.1" cy="416.8" r="5.90" fill="#ffe6e6"/>
<circle cx="196.3" cy="416.8" r="5.90" fill="#ffebeb"/>
<circle cx="208.4" cy="416.8" r="5.90" fill="#ffebeb"/>
<circle cx="220.6" cy="416.8" r="5.90" fill="#fffcfc"/>
<circle cx="245.0" cy="416.8" r="5.90" fill="#fffafa"/>
<circle cx="257.2" cy="416.8" r="5.90" fill="#fffafa"/>
<circle cx="269.3" cy="416.8" r="5.90" fill="#e0e0ff"/>
<circle cx="281.5" cy="416.8" r="5.90" fill="#d1d1ff"/>
<circle cx="293.7" cy="416.8" r="5.90" fill="#c2c2ff"/>
<circle cx="305.9" cy="416.8" r="5.90" fill="#b2b2ff"/>
<circle cx="318.1" cy="416.8" r="5.90" fill="#adadff"/>
<circle cx="330.2" cy="416.8" r="5.90" fill="#a3a3ff"/>
<circle cx="342.4" cy="416.8" r="5.90" fill="#8787ff"/>
<circle cx="354.6" cy="416.8" r="5.90" fill="#7d7dff"/>
<circle cx="366.8" cy="416.8" r="5.90" fill="#6969ff"/>
<circle cx="379.0" cy="416.8" r="5.90" fill="#4a4aff"/>
<circle cx="391.1" cy="416.8" r="5.90" fill="#4a4aff"/>
<circle cx="403.3" cy="416.8" r="5.90" fill="#4a4aff"/>
<circle cx="415.5" cy="416.8" r="5.90" fill="#4a4aff"/>
<circle cx="427.7" cy="416.8" r="5.90" fill="#4a4aff"/>
<circle cx="439.9" cy="416.8" r="5.90" fill="#4a4aff"/>
<circle cx="452.0" cy="416.8" r="5.90" fill="#4a4aff"/>
<circle cx="464.2" cy="416.8" r="5.90" fill="#4a4aff"/>
<circle cx="476.4" cy="416.8" r="5.90" fill="#4a4aff"/>
<circle cx="488.6" cy="416.8" r="5.90" fill="#5757ff"/>
<circle cx="500.8" cy="416.8" r="5.90" fill="#5e5eff"/>
<circle cx="512.9" cy="416.8" r="5.90" fill="#6666ff"/>
<circle cx="525.1" cy="416.8" r="5.90" fill="#6e6eff"/>
<circle cx="537.3" cy="416.8" r="5.90" fill="#9191ff"/>
<circle cx="549.5" cy="416.8" r="5.90" fill="#a1a1ff"/>
<circle cx="561.7" cy="416.8" r="5.90" fill="#bfbfff"/>
<circle cx="573.8" cy="416.8" r="5.90" fill="#cfcfff"/>
<circle cx="586.0" cy="416.8" r="5.90" fill="#e6e6ff"/>
<circle cx="598.2" cy="416.8" r="5.90" fill="#e6e6ff"/>
<circle cx="86.6" cy="426.4" r="5.90" fill="#ffcccc"/>
<circle cx="98.8" cy="426.4" r="5.90" fill="#ffcfcf"/>
<circle cx="111.0" cy="426.4" r="5.90" fill="#ffd1d1"/>
<circle cx="123.2" cy="426.4" r="5.90" fill="#ffd4d4"/>
<circle cx="135.4" cy="426.4" r="5.90" fill="#ffd6d6"/>
<circle cx="147.5" cy="426.4" r="5.90" fill="#ffd9d9"/>
<circle cx="159.7" cy="426.4" r="5.90" fill="#ffdfdf"/>
<circle cx="171.9" cy="426.4" r="5.90" fill="#ffe5e5"/>
<circle cx="184.1" cy="426.4" r="5.90" fill="#ffebeb"/>
<circle cx="196.3" cy="426.4" r="5.90" fill="#fff0f0"/>
<circle cx="208.4" cy="426.4" r="5.90" fill="#fffcfc"/>
<circle cx="220.6" cy="426.4" r="5.90" fill="#f5f5ff"/>
<circle cx="232.8" cy="426.4" r="5.90" fill="#f2f2ff"/>
<circle cx="257.2" cy="426.4" r="5.90" fill="#fafaff"/>
<circle cx="269.3" cy="426.4" r="5.90" fill="#e0e0ff"/>
<circle cx="281.5" cy="426.4" r="5.90" fill="#ccccff"/>
<circle cx="293.7" cy="426.4" r="5.90" fill="#bfbfff"/>
<circle cx="305.9" cy="426.4" r="5.90" fill="#b0b0ff"/>
<circle cx="318.1" cy="426.4" r="5.90" fill="#ababff"/>
<circle cx="330.2" cy="426.4" r="5.90" fill="#a1a1ff"/>
<circle cx="342.4" cy="426.4" r="5.90" fill="#8282ff"/>
<circle cx="354.6" cy="426.4" r="5.90" fill="#7878ff"/>
<circle cx="366.8" cy="426.4" r="5.90" fill="#6363ff"/>
<circle cx="379.0" cy="426.4" r="5.90" fill="#4545ff"/>
<circle cx="391.1" cy="426.4" r="5.90" fill="#4545ff"/>
<circle cx="403.3" cy="426.4" r="5.90" fill="#4545ff"/>
<circle cx="415.5" cy="426.4" r="5.90" fill="#4545ff"/>
<circle cx="427.7" cy="426.4" r="5.90" fill="#4545ff"/>
<circle cx="439.9" cy="426.4" r="5.90" fill="#4545ff"/>
<circle cx="452.0" cy="426.4" r="5.90" fill="#4545ff"/>
<circle cx="464.2" cy="426.4" r="5.90" fill="#4545ff"/>
<circle cx="476.4" cy="426.4" r="5.90" fill="#4545ff"/>
<circle cx="488.6" cy="426.4" r="5.90" fill="#4a4aff"/>
<circle cx="500.8" cy="426.4" r="5.90" fill="#5454ff"/>
<circle cx="512.9" cy="426.4" r="5.90" fill="#5e5eff"/>
<circle cx="525.1" cy="426.4" r="5.90" fill="#6969ff"/>
<circle cx="537.3" cy="426.4" r="5.90" fill="#8c8cff"/>
<circle cx="549.5" cy="426.4" r="5.90" fill="#9c9cff"/>
<circle cx="561.7" cy="426.4" r="5.90" fill="#babaff"/>
<circle cx="573.8" cy="426.4" r="5.90" fill="#c7c7ff"/>
<circle cx="586.0" cy="426.4" r="5.90" fill="#e0e0ff"/>
<circle cx="598.2" cy="426.4" r="5.90" fill="#e0e0ff"/>
<circle cx="610.4" cy="426.4" r="5.90" fill="#f2f2ff"/>
<circle cx="86.6" cy="436.1" r="5.90" fill="#ffd6d6"/>
<circle cx="98.8" cy="436.1" r="5.90" fill="#ffd6d6"/>
<circle cx="111.0" cy="436.1" r="5.90" fill="#ffd6d6"/>
<circle cx="123.2" cy="436.1" r="5.90" fill="#ffdbdb"/>
<circle cx="135.4" cy="436.1" r="5.90" fill="#ffdbdb"/>
<circle cx="147.5" cy="436.1" r="5.90" fill="#ffebeb"/>
<circle cx="159.7" cy="436.1" r="5.90" fill="#ffebeb"/>
<circle cx="171.9" cy="436.1" r="5.90" fill="#fff7f7"/>
<circle cx="184.1" cy="436.1" r="5.90" fill="#fffafa"/>
<circle cx="196.3" cy="436.1" r="5.90" fill="#f7f7ff"/>
<circle cx="208.4" cy="436.1" r="5.90" fill="#fff7f7"/>
<circle cx="220.6" cy="436.1" r="5.90" fill="#fffafa"/>
<circle cx="232.8" cy="436.1" r="5.90" fill="#ededff"/>
<circle cx="245.0" cy="436.1" r="5.90" fill="#f0f0ff"/>
<circle cx="257.2" cy="436.1" r="5.90" fill="#f0f0ff"/>
<circle cx="269.3" cy="436.1" r="5.90" fill="#e6e6ff"/>
<circle cx="281.5" cy="436.1" r="5.90" fill="#d6d6ff"/>
<circle cx="293.7" cy="436.1" r="5.90" fill="#bfbfff"/>
<circle cx="305.9" cy="436.1" r="5.90" fill="#b0b0ff"/>
<circle cx="318.1" cy="436.1" r="5.90" fill="#ababff"/>
<circle cx="330.2" cy="436.1" r="5.90" fill="#a1a1ff"/>
<circle cx="342.4" cy="436.1" r="5.90" fill="#8282ff"/>
<circle cx="354.6" cy="436.1" r="5.90" fill="#7575ff"/>
<circle cx="366.8" cy="436.1" r="5.90" fill="#6161ff"/>
<circle cx="379.0" cy="436.1" r="5.90" fill="#3d3dff"/>
<circle cx="391.1" cy="436.1" r="5.90" fill="#3d3dff"/>
<circle cx="403.3" cy="436.1" r="5.90" fill="#3d3dff"/>
<circle cx="415.5" cy="436.1" r="5.90" fill="#3d3dff"/>
<circle cx="427.7" cy="436.1" r="5.90" fill="#3d3dff"/>
<circle cx="439.9" cy="436.1" r="5.90" fill="#3d3dff"/>
<circle cx="452.0" cy="436.1" r="5.90" fill="#3d3dff"/>
<circle cx="464.2" cy="436.1" r="5.90" fill="#3d3dff"/>
<circle cx="476.4" cy="436.1" r="5.90" fill="#3d3dff"/>
<circle cx="488.6" cy="436.1" r="5.90" fill="#4545ff"/>
<circle cx="500.8" cy="436.1" r="5.90" fill="#4d4dff"/>
<circle cx="512.9" cy="436.1" r="5.90" fill="#5959ff"/>
<circle cx="525.1" cy="436.1" r="5.90" fill="#6363ff"/>
<circle cx="537.3" cy="436.1" r="5.90" fill="#8a8aff"/>
<circle cx="549.5" cy="436.1" r="5.90" fill="#9999ff"/>
<circle cx="561.7" cy="436.1" r="5.90" fill="#b5b5ff"/>
<circle cx="573.8" cy="436.1" r="5.90" fill="#c4c4ff"/>
<circle cx="586.0" cy="436.1" r="5.90" fill="#d9d9ff"/>
<circle cx="598.2" cy="436.1" r="5.90" fill="#d9d9ff"/>
<circle cx="610.4" cy="436.1" r="5.90" fill="#ebebff"/>
<circle cx="622.6" cy="436.1" r="5.90" fill="#f2f2ff"/>
<circle cx="86.6" cy="445.7" r="5.90" fill="#ffd6d6"/>
<circle cx="98.8" cy="445.7" r="5.90" fill="#ffd6d6"/>
<circle cx="111.0" cy="445.7" r="5.90" fill="#ffd6d6"/>
<circle cx="123.2" cy="445.7" r="5.90" fill="#ffe0e0"/>
<circle cx="135.4" cy="445.7" r="5.90" fill="#ffe0e0"/>
<circle cx="147.5" cy="445.7" r="5.90" fill="#fff0f0"/>
<circle cx="159.7" cy="445.7" r="5.90" fill="#fff2f2"/>
<circle cx="184.1" cy="445.7" r="5.90" fill="#fafaff"/>
<circle cx="196.3" cy="445.7" r="5.90" fill="#e0e0ff"/>
<circle cx="208.4" cy="445.7" r="5.90" fill="#f7f7ff"/>
<circle cx="220.6" cy="445.7" r="5.90" fill="#f7f7ff"/>
<circle cx="232.8" cy="445.7" r="5.90" fill="#dbdbff"/>
<circle cx="245.0" cy="445.7" r="5.90" fill="#e0e0ff"/>
<circle cx="257.2" cy="445.7" r="5.90" fill="#e6e6ff"/>
<circle cx="269.3" cy="445.7" r="5.90" fill="#dbdbff"/>
<circle cx="281.5" cy="445.7" r="5.90" fill="#c2c2ff"/>
<circle cx="293.7" cy="445.7" r="5.90" fill="#bfbfff"/>
<circle cx="305.9" cy="445.7" r="5.90" fill="#b0b0ff"/>
<circle cx="318.1" cy="445.7" r="5.90" fill="#ababff"/>
<circle cx="330.2" cy="445.7" r="5.90" fill="#a1a1ff"/>
<circle cx="342.4" cy="445.7" r="5.90" fill="#8282ff"/>
<circle cx="354.6" cy="445.7" r="5.90" fill="#7373ff"/>
<circle cx="366.8" cy="445.7" r="5.90" fill="#5e5eff"/>
<circle cx="379.0" cy="445.7" r="5.90" fill="#3333ff"/>
<circle cx="391.1" cy="445.7" r="5.90" fill="#3333ff"/>
<circle cx="403.3" cy="445.7" r="5.90" fill="#3333ff"/>
<circle cx="415.5" cy="445.7" r="5.90" fill="#3333ff"/>
<circle cx="427.7" cy="445.7" r="5.90" fill="#3333ff"/>
<circle cx="439.9" cy="445.7" r="5.90" fill="#3333ff"/>
<circle cx="452.0" cy="445.7" r="5.90" fill="#3333ff"/>
<circle cx="464.2" cy="445.7" r="5.90" fill="#3333ff"/>
<circle cx="476.4" cy="445.7" r="5.90" fill="#3333ff"/>
<circle cx="488.6" cy="445.7" r="5.90" fill="#3d3dff"/>
<circle cx="500.8" cy="445.7" r="5.90" fill="#4545ff"/>
<circle cx="512.9" cy="445.7" r="5.90" fill="#5454ff"/>
<circle cx="525.1" cy="445.7" r="5.90" fill="#5e5eff"/>
<circle cx="537.3" cy="445.7" r="5.90" fill="#8787ff"/>
<circle cx="549.5" cy="445.7" r="5.90" fill="#9696ff"/>
<circle cx="561.7" cy="445.7" r="5.90" fill="#b0b0ff"/>
<circle cx="573.8" cy="445.7" r="5.90" fill="#bfbfff"/>
<circle cx="586.0" cy="445.7" r="5.90" fill="#d1d1ff"/>
<circle cx="598.2" cy="445.7" r="5.90" fill="#d1d1ff"/>
<circle cx="610.4" cy="445.7" r="5.90" fill="#ebebff"/>
<circle cx="622.6" cy="445.7" r="5.90" fill="#ebebff"/>
<circle cx="634.7" cy="445.7" r="5.90" fill="#f2f2ff"/>
<circle cx="86.6" cy="455.3" r="5.90" fill="#ffd6d6"/>
<circle cx="98.8" cy="455.3" r="5.90" fill="#ffd6d6"/>
<circle cx="111.0" cy="455.3" r="5.90" fill="#ffd6d6"/>
<circle cx="123.2" cy="455.3" r="5.90" fill="#ffdede"/>
<circle cx="135.4" cy="455.3" r="5.90" fill="#ffe0e0"/>
<circle cx="147.5" cy="455.3" r="5.90" fill="#ffeded"/>
<circle cx="159.7" cy="455.3" r="5.90" fill="#fff0f0"/>
<circle cx="171.9" cy="455.3" r="5.90" fill="#fffcfc"/>
<circle cx="184.1" cy="455.3" r="5.90" fill="#f5f5ff"/>
<circle cx="196.3" cy="455.3" r="5.90" fill="#e0e0ff"/>
<circle cx="208.4" cy="455.3" r="5.90" fill="#f7f7ff"/>
<circle cx="220.6" cy="455.3" r="5.90" fill="#f7f7ff"/>
<circle cx="232.8" cy="455.3" r="5.90" fill="#dbdbff"/>
<circle cx="245.0" cy="455.3" r="5.90" fill="#e0e0ff"/>
<circle cx="257.2" cy="455.3" r="5.90" fill="#e6e6ff"/>
<circle cx="269.3" cy="455.3" r="5.90" fill="#dbdbff"/>
<circle cx="281.5" cy="455.3" r="5.90" fill="#c2c2ff"/>
<circle cx="293.7" cy="455.3" r="5.90" fill="#bfbfff"/>
<circle cx="305.9" cy="455.3" r="5.90" fill="#b0b0ff"/>
<circle cx="318.1" cy="455.3" r="5.90" fill="#ababff"/>
<circle cx="330.2" cy="455.3" r="5.90" fill="#a1a1ff"/>
<circle cx="342.4" cy="455.3" r="5.90" fill="#8282ff"/>
<circle cx="354.6" cy="455.3" r="5.90" fill="#7373ff"/>
<circle cx="366.8" cy="455.3" r="5.90" fill="#5e5eff"/>
<circle cx="379.0" cy="455.3" r="5.90" fill="#3333ff"/>
<circle cx="391.1" cy="455.3" r="5.90" fill="#3333ff"/>
<circle cx="403.3" cy="455.3" r="5.90" fill="#3333ff"/>
<circle cx="415.5" cy="455.3" r="5.90" fill="#3333ff"/>
<circle cx="427.7" cy="455.3" r="5.90" fill="#3333ff"/>
<circle cx="439.9" cy="455.3" r="5.90" fill="#3333ff"/>
<circle cx="452.0" cy="455.3" r="5.90" fill="#3333ff"/>
<circle cx="464.2" cy="455.3" r="5.90" fill="#3333ff"/>
<circle cx="476.4" cy="455.3" r="5.90" fill="#3333ff"/>
<circle cx="488.6" cy="455.3" r="5.90" fill="#3838ff"/>
<circle cx="500.8" cy="455.3" r="5.90" fill="#4040ff"/>
<circle cx="512.9" cy="455.3" r="5.90" fill="#4f4fff"/>
<circle cx="525.1" cy="455.3" r="5.90" fill="#5959ff"/>
<circle cx="537.3" cy="455.3" r="5.90" fill="#8282ff"/>
<circle cx="549.5" cy="455.3" r="5.90" fill="#9191ff"/>
<circle cx="561.7" cy="455.3" r="5.90" fill="#b0b0ff"/>
<circle cx="573.8" cy="455.3" r="5.90" fill="#bfbfff"/>
<circle cx="586.0" cy="455.3" r="5.90" fill="#ccccff"/>
<circle cx="598.2" cy="455.3" r="5.90" fill="#ccccff"/>
<circle cx="610.4" cy="455.3" r="5.90" fill="#e6e6ff"/>
<circle cx="622.6" cy="455.3" r="5.90" fill="#ebebff"/>
<circle cx="634.7" cy="455.3" r="5.90" fill="#f2f2ff"/>
<circle cx="646.9" cy="455.3" r="5.90" fill="#f7f7ff"/>
<circle cx="86.6" cy="464.9" r="5.90" fill="#ffd1d1"/>
<circle cx="98.8" cy="464.9" r="5.90" fill="#ffd1d1"/>
<circle cx="111.0" cy="464.9" r="5.90" fill="#ffd1d1"/>
<circle cx="123.2" cy="464.9" r="5.90" fill="#ffd6d6"/>
<circle cx="135.4" cy="464.9" r="5.90" fill="#ffd9d9"/>
<circle cx="147.5" cy="464.9" r="5.90" fill="#ffe0e0"/>
<circle cx="159.7" cy="464.9" r="5.90" fill="#ffe6e6"/>
<circle cx="171.9" cy="464.9" r="5.90" fill="#fff0f0"/>
<circle cx="184.1" cy="464.9" r="5.90" fill="#fff7f7"/>
<circle cx="196.3" cy="464.9" r="5.90" fill="#f2f2ff"/>
<circle cx="232.8" cy="464.9" r="5.90" fill="#e0e0ff"/>
<circle cx="245.0" cy="464.9" r="5.90" fill="#e6e6ff"/>
<circle cx="257.2" cy="464.9" r="5.90" fill="#ebebff"/>
<circle cx="269.3" cy="464.9" r="5.90" fill="#e6e6ff"/>
<circle cx="281.5" cy="464.9" r="5.90" fill="#ccccff"/>
<circle cx="293.7" cy="464.9" r="5.90" fill="#bfbfff"/>
<circle cx="305.9" cy="464.9" r="5.90" fill="#b0b0ff"/>
<circle cx="318.1" cy="464.9" r="5.90" fill="#ababff"/>
<circle cx="330.2" cy="464.9" r="5.90" fill="#a1a1ff"/>
<circle cx="342.4" cy="464.9" r="5.90" fill="#8787ff"/>
<circle cx="354.6" cy="464.9" r="5.90" fill="#7d7dff"/>
<circle cx="366.8" cy="464.9" r="5.90" fill="#6e6eff"/>
<circle cx="379.0" cy="464.9" r="5.90" fill="#4f4fff"/>
<circle cx="391.1" cy="464.9" r="5.90" fill="#4040ff"/>
<circle cx="403.3" cy="464.9" r="5.90" fill="#4040ff"/>
<circle cx="415.5" cy="464.9" r="5.90" fill="#4040ff"/>
<circle cx="427.7" cy="464.9" r="5.90" fill="#4040ff"/>
<circle cx="439.9" cy="464.9" r="5.90" fill="#4040ff"/>
<circle cx="452.0" cy="464.9" r="5.90" fill="#4040ff"/>
<circle cx="464.2" cy="464.9" r="5.90" fill="#4040ff"/>
<circle cx="476.4" cy="464.9" r="5.90" fill="#4040ff"/>
<circle cx="488.6" cy="464.9" r="5.90" fill="#3d3dff"/>
<circle cx="500.8" cy="464.9" r="5.90" fill="#4747ff"/>
<circle cx="512.9" cy="464.9" r="5.90" fill="#5757ff"/>
<circle cx="525.1" cy="464.9" r="5.90" fill="#6161ff"/>
<circle cx="537.3" cy="464.9" r="5.90" fill="#8a8aff"/>
<circle cx="549.5" cy="464.9" r="5.90" fill="#9999ff"/>
<circle cx="561.7" cy="464.9" r="5.90" fill="#b8b8ff"/>
<circle cx="573.8" cy="464.9" r="5.90" fill="#c7c7ff"/>
<circle cx="586.0" cy="464.9" r="5.90" fill="#d9d9ff"/>
<circle cx="598.2" cy="464.9" r="5.90" fill="#d9d9ff"/>
<circle cx="610.4" cy="464.9" r="5.90" fill="#f2f2ff"/>
<circle cx="622.6" cy="464.9" r="5.90" fill="#f2f2ff"/>
<circle cx="659.1" cy="464.9" r="5.90" fill="#fff7f7"/>
<circle cx="86.6" cy="474.6" r="5.90" fill="#ffbaba"/>
<circle cx="98.8" cy="474.6" r="5.90" fill="#ffbaba"/>
<circle cx="111.0" cy="474.6" r="5.90" fill="#ffbaba"/>
<circle cx="123.2" cy="474.6" r="5.90" fill="#ffc2c2"/>
<circle cx="135.4" cy="474.6" r="5.90" fill="#ffc4c4"/>
<circle cx="147.5" cy="474.6" r="5.90" fill="#ffcccc"/>
<circle cx="159.7" cy="474.6" r="5.90" fill="#ffd1d1"/>
<circle cx="171.9" cy="474.6" r="5.90" fill="#ffd6d6"/>
<circle cx="184.1" cy="474.6" r="5.90" fill="#ffdbdb"/>
<circle cx="196.3" cy="474.6" r="5.90" fill="#ffe0e0"/>
<circle cx="208.4" cy="474.6" r="5.90" fill="#ffdbdb"/>
<circle cx="220.6" cy="474.6" r="5.90" fill="#ffdbdb"/>
<circle cx="232.8" cy="474.6" r="5.90" fill="#fffafa"/>
<circle cx="245.0" cy="474.6" r="5.90" fill="#fffafa"/>
<circle cx="257.2" cy="474.6" r="5.90" fill="#fffafa"/>
<circle cx="269.3" cy="474.6" r="5.90" fill="#fafaff"/>
<circle cx="281.5" cy="474.6" r="5.90" fill="#e0e0ff"/>
<circle cx="293.7" cy="474.6" r="5.90" fill="#c2c2ff"/>
<circle cx="305.9" cy="474.6" r="5.90" fill="#b0b0ff"/>
<circle cx="318.1" cy="474.6" r="5.90" fill="#ababff"/>
<circle cx="330.2" cy="474.6" r="5.90" fill="#a1a1ff"/>
<circle cx="342.4" cy="474.6" r="5.90" fill="#8282ff"/>
<circle cx="354.6" cy="474.6" r="5.90" fill="#7878ff"/>
<circle cx="366.8" cy="474.6" r="5.90" fill="#6969ff"/>
<circle cx="379.0" cy="474.6" r="5.90" fill="#4a4aff"/>
<circle cx="391.1" cy="474.6" r="5.90" fill="#4a4aff"/>
<circle cx="403.3" cy="474.6" r="5.90" fill="#4a4aff"/>
<circle cx="415.5" cy="474.6" r="5.90" fill="#4a4aff"/>
<circle cx="427.7" cy="474.6" r="5.90" fill="#4a4aff"/>
<circle cx="439.9" cy="474.6" r="5.90" fill="#4040ff"/>
<circle cx="452.0" cy="474.6" r="5.90" fill="#4040ff"/>
<circle cx="464.2" cy="474.6" r="5.90" fill="#4a4aff"/>
<circle cx="476.4" cy="474.6" r="5.90" fill="#4a4aff"/>
<circle cx="488.6" cy="474.6" r="5.90" fill="#4545ff"/>
<circle cx="500.8" cy="474.6" r="5.90" fill="#4f4fff"/>
<circle cx="512.9" cy="474.6" r="5.90" fill="#6363ff"/>
<circle cx="525.1" cy="474.6" r="5.90" fill="#6e6eff"/>
<circle cx="537.3" cy="474.6" r="5.90" fill="#9c9cff"/>
<circle cx="549.5" cy="474.6" r="5.90" fill="#a6a6ff"/>
<circle cx="561.7" cy="474.6" r="5.90" fill="#ccccff"/>
<circle cx="573.8" cy="474.6" r="5.90" fill="#d6d6ff"/>
<circle cx="586.0" cy="474.6" r="5.90" fill="#e6e6ff"/>
<circle cx="598.2" cy="474.6" r="5.90" fill="#e6e6ff"/>
<circle cx="622.6" cy="474.6" r="5.90" fill="#fff7f7"/>
<circle cx="634.7" cy="474.6" r="5.90" fill="#fff2f2"/>
<circle cx="646.9" cy="474.6" r="5.90" fill="#ffe6e6"/>
<circle cx="659.1" cy="474.6" r="5.90" fill="#ffe6e6"/>
<circle cx="671.3" cy="474.6" r="5.90" fill="#ffe6e6"/>
<circle cx="86.6" cy="484.2" r="5.90" fill="#ffb5b5"/>
<circle cx="98.8" cy="484.2" r="5.90" fill="#ffb5b5"/>
<circle cx="111.0" cy="484.2" r="5.90" fill="#ffb5b5"/>
<circle cx="123.2" cy="484.2" r="5.90" fill="#ffbdbd"/>
<circle cx="135.4" cy="484.2" r="5.90" fill="#ffc2c2"/>
<circle cx="147.5" cy="484.2" r="5.90" fill="#ffc7c7"/>
<circle cx="159.7" cy="484.2" r="5.90" fill="#ffcccc"/>
<circle cx="171.9" cy="484.2" r="5.90" fill="#ffd1d1"/>
<circle cx="184.1" cy="484.2" r="5.90" fill="#ffd6d6"/>
<circle cx="196.3" cy="484.2" r="5.90" fill="#ffd6d6"/>
<circle cx="208.4" cy="484.2" r="5.90" fill="#ffd1d1"/>
<circle cx="220.6" cy="484.2" r="5.90" fill="#ffd1d1"/>
<circle cx="232.8" cy="484.2" r="5.90" fill="#ffe0e0"/>
<circle cx="245.0" cy="484.2" r="5.90" fill="#ffe0e0"/>
<circle cx="257.2" cy="484.2" r="5.90" fill="#ffe6e6"/>
<circle cx="269.3" cy="484.2" r="5.90" fill="#fffcfc"/>
<circle cx="281.5" cy="484.2" r="5.90" fill="#e6e6ff"/>
<circle cx="293.7" cy="484.2" r="5.90" fill="#ccccff"/>
<circle cx="305.9" cy="484.2" r="5.90" fill="#b5b5ff"/>
<circle cx="318.1" cy="484.2" r="5.90" fill="#b0b0ff"/>
<circle cx="330.2" cy="484.2" r="5.90" fill="#a6a6ff"/>
<circle cx="342.4" cy="484.2" r="5.90" fill="#8787ff"/>
<circle cx="354.6" cy="484.2" r="5.90" fill="#7d7dff"/>
<circle cx="366.8" cy="484.2" r="5.90" fill="#6e6eff"/>
<circle cx="379.0" cy="484.2" r="5.90" fill="#5454ff"/>
<circle cx="391.1" cy="484.2" r="5.90" fill="#4f4fff"/>
<circle cx="403.3" cy="484.2" r="5.90" fill="#4f4fff"/>
<circle cx="415.5" cy="484.2" r="5.90" fill="#4f4fff"/>
<circle cx="427.7" cy="484.2" r="5.90" fill="#4f4fff"/>
<circle cx="439.9" cy="484.2" r="5.90" fill="#4747ff"/>
<circle cx="452.0" cy="484.2" r="5.90" fill="#4747ff"/>
<circle cx="464.2" cy="484.2" r="5.90" fill="#4f4fff"/>
<circle cx="476.4" cy="484.2" r="5.90" fill="#4f4fff"/>
<circle cx="488.6" cy="484.2" r="5.90" fill="#4f4fff"/>
<circle cx="500.8" cy="484.2" r="5.90" fill="#5454ff"/>
<circle cx="512.9" cy="484.2" r="5.90" fill="#6969ff"/>
<circle cx="525.1" cy="484.2" r="5.90" fill="#7373ff"/>
<circle cx="537.3" cy="484.2" r="5.90" fill="#a1a1ff"/>
<circle cx="549.5" cy="484.2" r="5.90" fill="#ababff"/>
<circle cx="561.7" cy="484.2" r="5.90" fill="#d1d1ff"/>
<circle cx="573.8" cy="484.2" r="5.90" fill="#dbdbff"/>
<circle cx="586.0" cy="484.2" r="5.90" fill="#ebebff"/>
<circle cx="598.2" cy="484.2" r="5.90" fill="#f7f7ff"/>
<circle cx="610.4" cy="484.2" r="5.90" fill="#fff0f0"/>
<circle cx="622.6" cy="484.2" r="5.90" fill="#fff0f0"/>
<circle cx="634.7" cy="484.2" r="5.90" fill="#ffe6e6"/>
<circle cx="646.9" cy="484.2" r="5.90" fill="#ffe6e6"/>
<circle cx="659.1" cy="484.2" r="5.90" fill="#ffdbdb"/>
<circle cx="671.3" cy="484.2" r="5.90" fill="#ffdede"/>
<circle cx="683.5" cy="484.2" r="5.90" fill="#ffebeb"/>
<circle cx="86.6" cy="493.8" r="5.90" fill="#ffb5b5"/>
<circle cx="98.8" cy="493.8" r="5.90" fill="#ffb5b5"/>
<circle cx="111.0" cy="493.8" r="5.90" fill="#ffb5b5"/>
<circle cx="123.2" cy="493.8" r="5.90" fill="#ffbaba"/>
<circle cx="135.4" cy="493.8" r="5.90" fill="#ffc1c1"/>
<circle cx="147.5" cy="493.8" r="5.90" fill="#ffc7c7"/>
<circle cx="159.7" cy="493.8" r="5.90" fill="#ffc9c9"/>
<circle cx="171.9" cy="493.8" r="5.90" fill="#ffcccc"/>
<circle cx="184.1" cy="493.8" r="5.90" fill="#ffd1d1"/>
<circle cx="196.3" cy="493.8" r="5.90" fill="#ffd1d1"/>
<circle cx="208.4" cy="493.8" r="5.90" fill="#ffcccc"/>
<circle cx="220.6" cy="493.8" r="5.90" fill="#ffcccc"/>
<circle cx="232.8" cy="493.8" r="5.90" fill="#ffdbdb"/>
<circle cx="245.0" cy="493.8" r="5.90" fill="#ffdbdb"/>
<circle cx="257.2" cy="493.8" r="5.90" fill="#ffe0e0"/>
<circle cx="269.3" cy="493.8" r="5.90" fill="#fffafa"/>
<circle cx="281.5" cy="493.8" r="5.90" fill="#ebebff"/>
<circle cx="293.7" cy="493.8" r="5.90" fill="#d1d1ff"/>
<circle cx="305.9" cy="493.8" r="5.90" fill="#babaff"/>
<circle cx="318.1" cy="493.8" r="5.90" fill="#b5b5ff"/>
<circle cx="330.2" cy="493.8" r="5.90" fill="#ababff"/>
<circle cx="342.4" cy="493.8" r="5.90" fill="#8c8cff"/>
<circle cx="354.6" cy="493.8" r="5.90" fill="#8282ff"/>
<circle cx="366.8" cy="493.8" r="5.90" fill="#7373ff"/>
<circle cx="379.0" cy="493.8" r="5.90" fill="#5959ff"/>
<circle cx="391.1" cy="493.8" r="5.90" fill="#5454ff"/>
<circle cx="403.3" cy="493.8" r="5.90" fill="#5454ff"/>
<circle cx="415.5" cy="493.8" r="5.90" fill="#5454ff"/>
<circle cx="427.7" cy="493.8" r="5.90" fill="#5454ff"/>
<circle cx="439.9" cy="493.8" r="5.90" fill="#4d4dff"/>
<circle cx="452.0" cy="493.8" r="5.90" fill="#4d4dff"/>
<circle cx="464.2" cy="493.8" r="5.90" fill="#5454ff"/>
<circle cx="476.4" cy="493.8" r="5.90" fill="#5454ff"/>
<circle cx="488.6" cy="493.8" r="5.90" fill="#5454ff"/>
<circle cx="500.8" cy="493.8" r="5.90" fill="#5959ff"/>
<circle cx="512.9" cy="493.8" r="5.90" fill="#6e6eff"/>
<circle cx="525.1" cy="493.8" r="5.90" fill="#7878ff"/>
<circle cx="537.3" cy="493.8" r="5.90" fill="#a6a6ff"/>
<circle cx="549.5" cy="493.8" r="5.90" fill="#b0b0ff"/>
<circle cx="561.7" cy="493.8" r="5.90" fill="#d6d6ff"/>
<circle cx="573.8" cy="493.8" r="5.90" fill="#e0e0ff"/>
<circle cx="586.0" cy="493.8" r="5.90" fill="#f0f0ff"/>
<circle cx="598.2" cy="493.8" r="5.90" fill="#fafaff"/>
<circle cx="610.4" cy="493.8" r="5.90" fill="#ffeded"/>
<circle cx="622.6" cy="493.8" r="5.90" fill="#ffeded"/>
<circle cx="634.7" cy="493.8" r="5.90" fill="#ffe6e6"/>
<circle cx="646.9" cy="493.8" r="5.90" fill="#ffe6e6"/>
<circle cx="659.1" cy="493.8" r="5.90" fill="#ffd9d9"/>
<circle cx="671.3" cy="493.8" r="5.90" fill="#ffdede"/>
<circle cx="683.5" cy="493.8" r="5.90" fill="#ffebeb"/>
<circle cx="695.6" cy="493.8" r="5.90" fill="#fffcfc"/>
<circle cx="86.6" cy="503.4" r="5.90" fill="#ff9696"/>
<circle cx="98.8" cy="503.4" r="5.90" fill="#ff9898"/>
<circle cx="111.0" cy="503.4" r="5.90" fill="#ff9999"/>
<circle cx="123.2" cy="503.4" r="5.90" fill="#ff9e9e"/>
<circle cx="135.4" cy="503.4" r="5.90" fill="#ffa2a2"/>
<circle cx="147.5" cy="503.4" r="5.90" fill="#ffa6a6"/>
<circle cx="159.7" cy="503.4" r="5.90" fill="#ffacac"/>
<circle cx="171.9" cy="503.4" r="5.90" fill="#ffb2b2"/>
<circle cx="184.1" cy="503.4" r="5.90" fill="#ffb8b8"/>
<circle cx="196.3" cy="503.4" r="5.90" fill="#ffbfbf"/>
<circle cx="208.4" cy="503.4" r="5.90" fill="#ffbaba"/>
<circle cx="220.6" cy="503.4" r="5.90" fill="#ffbaba"/>
<circle cx="232.8" cy="503.4" r="5.90" fill="#ffcccc"/>
<circle cx="245.0" cy="503.4" r="5.90" fill="#ffcccc"/>
<circle cx="257.2" cy="503.4" r="5.90" fill="#ffd1d1"/>
<circle cx="269.3" cy="503.4" r="5.90" fill="#ffdede"/>
<circle cx="281.5" cy="503.4" r="5.90" fill="#fff2f2"/>
<circle cx="293.7" cy="503.4" r="5.90" fill="#e0e0ff"/>
<circle cx="305.9" cy="503.4" r="5.90" fill="#c7c7ff"/>
<circle cx="318.1" cy="503.4" r="5.90" fill="#c2c2ff"/>
<circle cx="330.2" cy="503.4" r="5.90" fill="#babaff"/>
<circle cx="342.4" cy="503.4" r="5.90" fill="#a1a1ff"/>
<circle cx="354.6" cy="503.4" r="5.90" fill="#9696ff"/>
<circle cx="366.8" cy="503.4" r="5.90" fill="#8282ff"/>
<circle cx="379.0" cy="503.4" r="5.90" fill="#6e6eff"/>
<circle cx="391.1" cy="503.4" r="5.90" fill="#6e6eff"/>
<circle cx="403.3" cy="503.4" r="5.90" fill="#6e6eff"/>
<circle cx="415.5" cy="503.4" r="5.90" fill="#6e6eff"/>
<circle cx="427.7" cy="503.4" r="5.90" fill="#6e6eff"/>
<circle cx="439.9" cy="503.4" r="5.90" fill="#6666ff"/>
<circle cx="452.0" cy="503.4" r="5.90" fill="#6666ff"/>
<circle cx="464.2" cy="503.4" r="5.90" fill="#6e6eff"/>
<circle cx="476.4" cy="503.4" r="5.90" fill="#6e6eff"/>
<circle cx="488.6" cy="503.4" r="5.90" fill="#6969ff"/>
<circle cx="500.8" cy="503.4" r="5.90" fill="#6e6eff"/>
<circle cx="512.9" cy="503.4" r="5.90" fill="#7d7dff"/>
<circle cx="525.1" cy="503.4" r="5.90" fill="#8787ff"/>
<circle cx="537.3" cy="503.4" r="5.90" fill="#babaff"/>
<circle cx="549.5" cy="503.4" r="5.90" fill="#c2c2ff"/>
<circle cx="561.7" cy="503.4" r="5.90" fill="#ebebff"/>
<circle cx="573.8" cy="503.4" r="5.90" fill="#f0f0ff"/>
<circle cx="586.0" cy="503.4" r="5.90" fill="#ffe6e6"/>
<circle cx="598.2" cy="503.4" r="5.90" fill="#ffe0e0"/>
<circle cx="610.4" cy="503.4" r="5.90" fill="#ffd1d1"/>
<circle cx="622.6" cy="503.4" r="5.90" fill="#ffd1d1"/>
<circle cx="634.7" cy="503.4" r="5.90" fill="#ffcccc"/>
<circle cx="646.9" cy="503.4" r="5.90" fill="#ffcccc"/>
<circle cx="659.1" cy="503.4" r="5.90" fill="#ffc2c2"/>
<circle cx="671.3" cy="503.4" r="5.90" fill="#ffc9c9"/>
<circle cx="683.5" cy="503.4" r="5.90" fill="#ffd6d6"/>
<circle cx="695.6" cy="503.4" r="5.90" fill="#ffd6d6"/>
<circle cx="707.8" cy="503.4" r="5.90" fill="#ffe0e0"/>
<circle cx="86.6" cy="513.1" r="5.90" fill="#ff9191"/>
<circle cx="98.8" cy="513.1" r="5.90" fill="#ff9393"/>
<circle cx="111.0" cy="513.1" r="5.90" fill="#ff9494"/>
<circle cx="123.2" cy="513.1" r="5.90" fill="#ff9999"/>
<circle cx="135.4" cy="513.1" r="5.90" fill="#ff9d9d"/>
<circle cx="147.5" cy="513.1" r="5.90" fill="#ffa1a1"/>
<circle cx="159.7" cy="513.1" r="5.90" fill="#ffa7a7"/>
<circle cx="171.9" cy="513.1" r="5.90" fill="#ffadad"/>
<circle cx="184.1" cy="513.1" r="5.90" fill="#ffb2b2"/>
<circle cx="196.3" cy="513.1" r="5.90" fill="#ffbaba"/>
<circle cx="208.4" cy="513.1" r="5.90" fill="#ffb5b5"/>
<circle cx="220.6" cy="513.1" r="5.90" fill="#ffb5b5"/>
<circle cx="232.8" cy="513.1" r="5.90" fill="#ffc7c7"/>
<circle cx="245.0" cy="513.1" r="5.90" fill="#ffc7c7"/>
<circle cx="257.2" cy="513.1" r="5.90" fill="#ffcccc"/>
<circle cx="269.3" cy="513.1" r="5.90" fill="#ffd9d9"/>
<circle cx="281.5" cy="513.1" r="5.90" fill="#ffebeb"/>
<circle cx="293.7" cy="513.1" r="5.90" fill="#e8e8ff"/>
<circle cx="305.9" cy="513.1" r="5.90" fill="#d1d1ff"/>
<circle cx="318.1" cy="513.1" r="5.90" fill="#ccccff"/>
<circle cx="330.2" cy="513.1" r="5.90" fill="#c2c2ff"/>
<circle cx="342.4" cy="513.1" r="5.90" fill="#ababff"/>
<circle cx="354.6" cy="513.1" r="5.90" fill="#a1a1ff"/>
<circle cx="366.8" cy="513.1" r="5.90" fill="#8c8cff"/>
<circle cx="379.0" cy="513.1" r="5.90" fill="#7878ff"/>
<circle cx="391.1" cy="513.1" r="5.90" fill="#7878ff"/>
<circle cx="403.3" cy="513.1" r="5.90" fill="#7878ff"/>
<circle cx="415.5" cy="513.1" r="5.90" fill="#7878ff"/>
<circle cx="427.7" cy="513.1" r="5.90" fill="#7878ff"/>
<circle cx="439.9" cy="513.1" r="5.90" fill="#7373ff"/>
<circle cx="452.0" cy="513.1" r="5.90" fill="#7373ff"/>
<circle cx="464.2" cy="513.1" r="5.90" fill="#7878ff"/>
<circle cx="476.4" cy="513.1" r="5.90" fill="#7878ff"/>
<circle cx="488.6" cy="513.1" r="5.90" fill="#6e6eff"/>
<circle cx="500.8" cy="513.1" r="5.90" fill="#7373ff"/>
<circle cx="512.9" cy="513.1" r="5.90" fill="#8282ff"/>
<circle cx="525.1" cy="513.1" r="5.90" fill="#8c8cff"/>
<circle cx="537.3" cy="513.1" r="5.90" fill="#bfbfff"/>
<circle cx="549.5" cy="513.1" r="5.90" fill="#c7c7ff"/>
<circle cx="561.7" cy="513.1" r="5.90" fill="#f5f5ff"/>
<circle cx="573.8" cy="513.1" r="5.90" fill="#fafaff"/>
<circle cx="586.0" cy="513.1" r="5.90" fill="#ffe0e0"/>
<circle cx="598.2" cy="513.1" r="5.90" fill="#ffdbdb"/>
<circle cx="610.4" cy="513.1" r="5.90" fill="#ffcccc"/>
<circle cx="622.6" cy="513.1" r="5.90" fill="#ffcccc"/>
<circle cx="634.7" cy="513.1" r="5.90" fill="#ffc7c7"/>
<circle cx="646.9" cy="513.1" r="5.90" fill="#ffc7c7"/>
<circle cx="659.1" cy="513.1" r="5.90" fill="#ffbdbd"/>
<circle cx="671.3" cy="513.1" r="5.90" fill="#ffc4c4"/>
<circle cx="683.5" cy="513.1" r="5.90" fill="#ffd4d4"/>
<circle cx="695.6" cy="513.1" r="5.90" fill="#ffd4d4"/>
<circle cx="707.8" cy="513.1" r="5.90" fill="#ffdede"/>
<circle cx="720.0" cy="513.1" r="5.90" fill="#f7f7ff"/>
<circle cx="86.6" cy="522.7" r="5.90" fill="#ff8080"/>
<circle cx="98.8" cy="522.7" r="5.90" fill="#ff8181"/>
<circle cx="111.0" cy="522.7" r="5.90" fill="#ff8282"/>
<circle cx="123.2" cy="522.7" r="5.90" fill="#ff8787"/>
<circle cx="135.4" cy="522.7" r="5.90" fill="#ff8a8a"/>
<circle cx="147.5" cy="522.7" r="5.90" fill="#ff8c8c"/>
<circle cx="159.7" cy="522.7" r="5.90" fill="#ff9090"/>
<circle cx="171.9" cy="522.7" r="5.90" fill="#ff9494"/>
<circle cx="184.1" cy="522.7" r="5.90" fill="#ff9999"/>
<circle cx="196.3" cy="522.7" r="5.90" fill="#ffa6a6"/>
<circle cx="208.4" cy="522.7" r="5.90" fill="#ffa1a1"/>
<circle cx="220.6" cy="522.7" r="5.90" fill="#ffa1a1"/>
<circle cx="232.8" cy="522.7" r="5.90" fill="#ffb2b2"/>
<circle cx="245.0" cy="522.7" r="5.90" fill="#ffb2b2"/>
<circle cx="257.2" cy="522.7" r="5.90" fill="#ffb8b8"/>
<circle cx="269.3" cy="522.7" r="5.90" fill="#ffc2c2"/>
<circle cx="281.5" cy="522.7" r="5.90" fill="#ffcccc"/>
<circle cx="293.7" cy="522.7" r="5.90" fill="#ffebeb"/>
<circle cx="305.9" cy="522.7" r="5.90" fill="#ebebff"/>
<circle cx="318.1" cy="522.7" r="5.90" fill="#e6e6ff"/>
<circle cx="330.2" cy="522.7" r="5.90" fill="#d6d6ff"/>
<circle cx="342.4" cy="522.7" r="5.90" fill="#c2c2ff"/>
<circle cx="354.6" cy="522.7" r="5.90" fill="#babaff"/>
<circle cx="366.8" cy="522.7" r="5.90" fill="#a6a6ff"/>
<circle cx="379.0" cy="522.7" r="5.90" fill="#9696ff"/>
<circle cx="391.1" cy="522.7" r="5.90" fill="#8c8cff"/>
<circle cx="403.3" cy="522.7" r="5.90" fill="#8c8cff"/>
<circle cx="415.5" cy="522.7" r="5.90" fill="#8c8cff"/>
<circle cx="427.7" cy="522.7" r="5.90" fill="#8c8cff"/>
<circle cx="439.9" cy="522.7" r="5.90" fill="#8787ff"/>
<circle cx="452.0" cy="522.7" r="5.90" fill="#8787ff"/>
<circle cx="464.2" cy="522.7" r="5.90" fill="#8c8cff"/>
<circle cx="476.4" cy="522.7" r="5.90" fill="#8c8cff"/>
<circle cx="488.6" cy="522.7" r="5.90" fill="#8282ff"/>
<circle cx="500.8" cy="522.7" r="5.90" fill="#8787ff"/>
<circle cx="512.9" cy="522.7" r="5.90" fill="#9696ff"/>
<circle cx="525.1" cy="522.7" r="5.90" fill="#a1a1ff"/>
<circle cx="537.3" cy="522.7" r="5.90" fill="#d1d1ff"/>
<circle cx="549.5" cy="522.7" r="5.90" fill="#dbdbff"/>
<circle cx="561.7" cy="522.7" r="5.90" fill="#ffebeb"/>
<circle cx="573.8" cy="522.7" r="5.90" fill="#ffe6e6"/>
<circle cx="586.0" cy="522.7" r="5.90" fill="#ffcccc"/>
<circle cx="598.2" cy="522.7" r="5.90" fill="#ffc7c7"/>
<circle cx="610.4" cy="522.7" r="5.90" fill="#ffbaba"/>
<circle cx="622.6" cy="522.7" r="5.90" fill="#ffbaba"/>
<circle cx="634.7" cy="522.7" r="5.90" fill="#ffb0b0"/>
<circle cx="646.9" cy="522.7" r="5.90" fill="#ffb0b0"/>
<circle cx="659.1" cy="522.7" r="5.90" fill="#ffabab"/>
<circle cx="671.3" cy="522.7" r="5.90" fill="#ffb0b0"/>
<circle cx="683.5" cy="522.7" r="5.90" fill="#ffbfbf"/>
<circle cx="695.6" cy="522.7" r="5.90" fill="#ffbfbf"/>
<circle cx="707.8" cy="522.7" r="5.90" fill="#ffcccc"/>
<circle cx="720.0" cy="522.7" r="5.90" fill="#ffe0e0"/>
<circle cx="732.2" cy="522.7" r="5.90" fill="#ffe0e0"/>
<circle cx="86.6" cy="532.3" r="5.90" fill="#ff7a7a"/>
<circle cx="98.8" cy="532.3" r="5.90" fill="#ff7c7c"/>
<circle cx="111.0" cy="532.3" r="5.90" fill="#ff7d7d"/>
<circle cx="123.2" cy="532.3" r="5.90" fill="#ff8282"/>
<circle cx="135.4" cy="532.3" r="5.90" fill="#ff8585"/>
<circle cx="147.5" cy="532.3" r="5.90" fill="#ff8787"/>
<circle cx="159.7" cy="532.3" r="5.90" fill="#ff8c8c"/>
<circle cx="171.9" cy="532.3" r="5.90" fill="#ff9191"/>
<circle cx="184.1" cy="532.3" r="5.90" fill="#ff9494"/>
<circle cx="196.3" cy="532.3" r="5.90" fill="#ffa1a1"/>
<circle cx="208.4" cy="532.3" r="5.90" fill="#ff9c9c"/>
<circle cx="220.6" cy="532.3" r="5.90" fill="#ff9c9c"/>
<circle cx="232.8" cy="532.3" r="5.90" fill="#ffadad"/>
<circle cx="245.0" cy="532.3" r="5.90" fill="#ffadad"/>
<circle cx="257.2" cy="532.3" r="5.90" fill="#ffb2b2"/>
<circle cx="269.3" cy="532.3" r="5.90" fill="#ffbdbd"/>
<circle cx="281.5" cy="532.3" r="5.90" fill="#ffc7c7"/>
<circle cx="293.7" cy="532.3" r="5.90" fill="#ffe6e6"/>
<circle cx="305.9" cy="532.3" r="5.90" fill="#f0f0ff"/>
<circle cx="318.1" cy="532.3" r="5.90" fill="#ebebff"/>
<circle cx="330.2" cy="532.3" r="5.90" fill="#e0e0ff"/>
<circle cx="342.4" cy="532.3" r="5.90" fill="#c7c7ff"/>
<circle cx="354.6" cy="532.3" r="5.90" fill="#bfbfff"/>
<circle cx="366.8" cy="532.3" r="5.90" fill="#ababff"/>
<circle cx="379.0" cy="532.3" r="5.90" fill="#9c9cff"/>
<circle cx="391.1" cy="532.3" r="5.90" fill="#9696ff"/>
<circle cx="403.3" cy="532.3" r="5.90" fill="#9696ff"/>
<circle cx="415.5" cy="532.3" r="5.90" fill="#9696ff"/>
<circle cx="427.7" cy="532.3" r="5.90" fill="#9696ff"/>
<circle cx="439.9" cy="532.3" r="5.90" fill="#9191ff"/>
<circle cx="452.0" cy="532.3" r="5.90" fill="#9191ff"/>
<circle cx="464.2" cy="532.3" r="5.90" fill="#9696ff"/>
<circle cx="476.4" cy="532.3" r="5.90" fill="#9696ff"/>
<circle cx="488.6" cy="532.3" r="5.90" fill="#8787ff"/>
<circle cx="500.8" cy="532.3" r="5.90" fill="#8c8cff"/>
<circle cx="512.9" cy="532.3" r="5.90" fill="#9c9cff"/>
<circle cx="525.1" cy="532.3" r="5.90" fill="#a6a6ff"/>
<circle cx="537.3" cy="532.3" r="5.90" fill="#d6d6ff"/>
<circle cx="549.5" cy="532.3" r="5.90" fill="#e0e0ff"/>
<circle cx="561.7" cy="532.3" r="5.90" fill="#ffebeb"/>
<circle cx="573.8" cy="532.3" r="5.90" fill="#ffe6e6"/>
<circle cx="586.0" cy="532.3" r="5.90" fill="#ffc7c7"/>
<circle cx="598.2" cy="532.3" r="5.90" fill="#ffc2c2"/>
<circle cx="610.4" cy="532.3" r="5.90" fill="#ffb5b5"/>
<circle cx="622.6" cy="532.3" r="5.90" fill="#ffb2b2"/>
<circle cx="634.7" cy="532.3" r="5.90" fill="#ffabab"/>
<circle cx="646.9" cy="532.3" r="5.90" fill="#ffabab"/>
<circle cx="659.1" cy="532.3" r="5.90" fill="#ffa6a6"/>
<circle cx="671.3" cy="532.3" r="5.90" fill="#ffabab"/>
<circle cx="683.5" cy="532.3" r="5.90" fill="#ffbaba"/>
<circle cx="695.6" cy="532.3" r="5.90" fill="#ffbdbd"/>
<circle cx="707.8" cy="532.3" r="5.90" fill="#ffc7c7"/>
<circle cx="720.0" cy="532.3" r="5.90" fill="#ffdbdb"/>
<circle cx="732.2" cy="532.3" r="5.90" fill="#ffdbdb"/>
<circle cx="744.4" cy="532.3" r="5.90" fill="#ffe0e0"/>
<circle cx="86.6" cy="542.0" r="5.90" fill="#ff5c5c"/>
<circle cx="98.8" cy="542.0" r="5.90" fill="#ff5e5e"/>
<circle cx="111.0" cy="542.0" r="5.90" fill="#ff6161"/>
<circle cx="123.2" cy="542.0" r="5.90" fill="#ff6666"/>
<circle cx="135.4" cy="542.0" r="5.90" fill="#ff6a6a"/>
<circle cx="147.5" cy="542.0" r="5.90" fill="#ff6e6e"/>
<circle cx="159.7" cy="542.0" r="5.90" fill="#ff7373"/>
<circle cx="171.9" cy="542.0" r="5.90" fill="#ff7878"/>
<circle cx="184.1" cy="542.0" r="5.90" fill="#ff7a7a"/>
<circle cx="196.3" cy="542.0" r="5.90" fill="#ff8282"/>
<circle cx="208.4" cy="542.0" r="5.90" fill="#ff8080"/>
<circle cx="220.6" cy="542.0" r="5.90" fill="#ff8080"/>
<circle cx="232.8" cy="542.0" r="5.90" fill="#ff8c8c"/>
<circle cx="245.0" cy="542.0" r="5.90" fill="#ff8f8f"/>
<circle cx="257.2" cy="542.0" r="5.90" fill="#ff9191"/>
<circle cx="269.3" cy="542.0" r="5.90" fill="#ff9696"/>
<circle cx="281.5" cy="542.0" r="5.90" fill="#ffa1a1"/>
<circle cx="293.7" cy="542.0" r="5.90" fill="#ffbfbf"/>
<circle cx="305.9" cy="542.0" r="5.90" fill="#ffdbdb"/>
<circle cx="318.1" cy="542.0" r="5.90" fill="#ffe6e6"/>
<circle cx="342.4" cy="542.0" r="5.90" fill="#e6e6ff"/>
<circle cx="354.6" cy="542.0" r="5.90" fill="#e0e0ff"/>
<circle cx="366.8" cy="542.0" r="5.90" fill="#ccccff"/>
<circle cx="379.0" cy="542.0" r="5.90" fill="#c2c2ff"/>
<circle cx="391.1" cy="542.0" r="5.90" fill="#ababff"/>
<circle cx="403.3" cy="542.0" r="5.90" fill="#ababff"/>
<circle cx="415.5" cy="542.0" r="5.90" fill="#ababff"/>
<circle cx="427.7" cy="542.0" r="5.90" fill="#ababff"/>
<circle cx="439.9" cy="542.0" r="5.90" fill="#a6a6ff"/>
<circle cx="452.0" cy="542.0" r="5.90" fill="#a6a6ff"/>
<circle cx="464.2" cy="542.0" r="5.90" fill="#ababff"/>
<circle cx="476.4" cy="542.0" r="5.90" fill="#ababff"/>
<circle cx="488.6" cy="542.0" r="5.90" fill="#a1a1ff"/>
<circle cx="500.8" cy="542.0" r="5.90" fill="#a6a6ff"/>
<circle cx="512.9" cy="542.0" r="5.90" fill="#b5b5ff"/>
<circle cx="525.1" cy="542.0" r="5.90" fill="#bfbfff"/>
<circle cx="537.3" cy="542.0" r="5.90" fill="#fafaff"/>
<circle cx="549.5" cy="542.0" r="5.90" fill="#ffebeb"/>
<circle cx="561.7" cy="542.0" r="5.90" fill="#ffbfbf"/>
<circle cx="573.8" cy="542.0" r="5.90" fill="#ffb5b5"/>
<circle cx="586.0" cy="542.0" r="5.90" fill="#ffa1a1"/>
<circle cx="598.2" cy="542.0" r="5.90" fill="#ff9c9c"/>
<circle cx="610.4" cy="542.0" r="5.90" fill="#ff9191"/>
<circle cx="622.6" cy="542.0" r="5.90" fill="#ff9191"/>
<circle cx="634.7" cy="542.0" r="5.90" fill="#ff8c8c"/>
<circle cx="646.9" cy="542.0" r="5.90" fill="#ff8a8a"/>
<circle cx="659.1" cy="542.0" r="5.90" fill="#ff8787"/>
<circle cx="671.3" cy="542.0" r="5.90" fill="#ff8c8c"/>
<circle cx="683.5" cy="542.0" r="5.90" fill="#ff9696"/>
<circle cx="695.6" cy="542.0" r="5.90" fill="#ff9696"/>
<circle cx="707.8" cy="542.0" r="5.90" fill="#ffa1a1"/>
<circle cx="720.0" cy="542.0" r="5.90" fill="#ffbfbf"/>
<circle cx="732.2" cy="542.0" r="5.90" fill="#ffbfbf"/>
<circle cx="744.4" cy="542.0" r="5.90" fill="#ffd6d6"/>
<circle cx="756.5" cy="542.0" r="5.90" fill="#ffd6d6"/>
<circle cx="86.6" cy="551.6" r="5.90" fill="#ff4242"/>
<circle cx="98.8" cy="551.6" r="5.90" fill="#ff4646"/>
<circle cx="111.0" cy="551.6" r="5.90" fill="#ff4a4a"/>
<circle cx="123.2" cy="551.6" r="5.90" fill="#ff4f4f"/>
<circle cx="135.4" cy="551.6" r="5.90" fill="#ff5353"/>
<circle cx="147.5" cy="551.6" r="5.90" fill="#ff5757"/>
<circle cx="159.7" cy="551.6" r="5.90" fill="#ff5b5b"/>
<circle cx="171.9" cy="551.6" r="5.90" fill="#ff5e5e"/>
<circle cx="184.1" cy="551.6" r="5.90" fill="#ff6161"/>
<circle cx="196.3" cy="551.6" r="5.90" fill="#ff6e6e"/>
<circle cx="208.4" cy="551.6" r="5.90" fill="#ff6969"/>
<circle cx="220.6" cy="551.6" r="5.90" fill="#ff6969"/>
<circle cx="232.8" cy="551.6" r="5.90" fill="#ff7878"/>
<circle cx="245.0" cy="551.6" r="5.90" fill="#ff7a7a"/>
<circle cx="257.2" cy="551.6" r="5.90" fill="#ff8080"/>
<circle cx="269.3" cy="551.6" r="5.90" fill="#ff8787"/>
<circle cx="281.5" cy="551.6" r="5.90" fill="#ff9191"/>
<circle cx="293.7" cy="551.6" r="5.90" fill="#ffa6a6"/>
<circle cx="305.9" cy="551.6" r="5.90" fill="#ffbaba"/>
<circle cx="318.1" cy="551.6" r="5.90" fill="#ffbfbf"/>
<circle cx="330.2" cy="551.6" r="5.90" fill="#ffd6d6"/>
<circle cx="342.4" cy="551.6" r="5.90" fill="#ffebeb"/>
<circle cx="366.8" cy="551.6" r="5.90" fill="#e6e6ff"/>
<circle cx="379.0" cy="551.6" r="5.90" fill="#dbdbff"/>
<circle cx="391.1" cy="551.6" r="5.90" fill="#bfbfff"/>
<circle cx="403.3" cy="551.6" r="5.90" fill="#bfbfff"/>
<circle cx="415.5" cy="551.6" r="5.90" fill="#bfbfff"/>
<circle cx="427.7" cy="551.6" r="5.90" fill="#bfbfff"/>
<circle cx="439.9" cy="551.6" r="5.90" fill="#babaff"/>
<circle cx="452.0" cy="551.6" r="5.90" fill="#babaff"/>
<circle cx="464.2" cy="551.6" r="5.90" fill="#bfbfff"/>
<circle cx="476.4" cy="551.6" r="5.90" fill="#bfbfff"/>
<circle cx="488.6" cy="551.6" r="5.90" fill="#b0b0ff"/>
<circle cx="500.8" cy="551.6" r="5.90" fill="#b5b5ff"/>
<circle cx="512.9" cy="551.6" r="5.90" fill="#c7c7ff"/>
<circle cx="525.1" cy="551.6" r="5.90" fill="#d6d6ff"/>
<circle cx="537.3" cy="551.6" r="5.90" fill="#ffd1d1"/>
<circle cx="549.5" cy="551.6" r="5.90" fill="#ffbfbf"/>
<circle cx="561.7" cy="551.6" r="5.90" fill="#ff9c9c"/>
<circle cx="573.8" cy="551.6" r="5.90" fill="#ff9191"/>
<circle cx="586.0" cy="551.6" r="5.90" fill="#ff8c8c"/>
<circle cx="598.2" cy="551.6" r="5.90" fill="#ff8787"/>
<circle cx="610.4" cy="551.6" r="5.90" fill="#ff7878"/>
<circle cx="622.6" cy="551.6" r="5.90" fill="#ff7878"/>
<circle cx="634.7" cy="551.6" r="5.90" fill="#ff6e6e"/>
<circle cx="646.9" cy="551.6" r="5.90" fill="#ff6b6b"/>
<circle cx="659.1" cy="551.6" r="5.90" fill="#ff6e6e"/>
<circle cx="671.3" cy="551.6" r="5.90" fill="#ff7373"/>
<circle cx="683.5" cy="551.6" r="5.90" fill="#ff7d7d"/>
<circle cx="695.6" cy="551.6" r="5.90" fill="#ff8080"/>
<circle cx="707.8" cy="551.6" r="5.90" fill="#ff8787"/>
<circle cx="720.0" cy="551.6" r="5.90" fill="#ffa1a1"/>
<circle cx="732.2" cy="551.6" r="5.90" fill="#ffa6a6"/>
<circle cx="744.4" cy="551.6" r="5.90" fill="#ffbfbf"/>
<circle cx="756.5" cy="551.6" r="5.90" fill="#ffbfbf"/>
<circle cx="768.7" cy="551.6" r="5.90" fill="#ffd6d6"/>
<circle cx="86.6" cy="561.2" r="5.90" fill="#ff3838"/>
<circle cx="98.8" cy="561.2" r="5.90" fill="#ff3b3b"/>
<circle cx="111.0" cy="561.2" r="5.90" fill="#ff3d3d"/>
<circle cx="123.2" cy="561.2" r="5.90" fill="#ff4242"/>
<circle cx="135.4" cy="561.2" r="5.90" fill="#ff4646"/>
<circle cx="147.5" cy="561.2" r="5.90" fill="#ff4a4a"/>
<circle cx="159.7" cy="561.2" r="5.90" fill="#ff4d4d"/>
<circle cx="171.9" cy="561.2" r="5.90" fill="#ff4f4f"/>
<circle cx="184.1" cy="561.2" r="5.90" fill="#ff5252"/>
<circle cx="196.3" cy="561.2" r="5.90" fill="#ff5e5e"/>
<circle cx="208.4" cy="561.2" r="5.90" fill="#ff5959"/>
<circle cx="220.6" cy="561.2" r="5.90" fill="#ff5959"/>
<circle cx="232.8" cy="561.2" r="5.90" fill="#ff6969"/>
<circle cx="245.0" cy="561.2" r="5.90" fill="#ff6b6b"/>
<circle cx="257.2" cy="561.2" r="5.90" fill="#ff6e6e"/>
<circle cx="269.3" cy="561.2" r="5.90" fill="#ff7878"/>
<circle cx="281.5" cy="561.2" r="5.90" fill="#ff8282"/>
<circle cx="293.7" cy="561.2" r="5.90" fill="#ffa1a1"/>
<circle cx="305.9" cy="561.2" r="5.90" fill="#ffb2b2"/>
<circle cx="318.1" cy="561.2" r="5.90" fill="#ffb8b8"/>
<circle cx="330.2" cy="561.2" r="5.90" fill="#ffd1d1"/>
<circle cx="342.4" cy="561.2" r="5.90" fill="#ffe6e6"/>
<circle cx="354.6" cy="561.2" r="5.90" fill="#fffafa"/>
<circle cx="366.8" cy="561.2" r="5.90" fill="#ebebff"/>
<circle cx="379.0" cy="561.2" r="5.90" fill="#e0e0ff"/>
<circle cx="391.1" cy="561.2" r="5.90" fill="#d6d6ff"/>
<circle cx="403.3" cy="561.2" r="5.90" fill="#d6d6ff"/>
<circle cx="415.5" cy="561.2" r="5.90" fill="#d6d6ff"/>
<circle cx="427.7" cy="561.2" r="5.90" fill="#d6d6ff"/>
<circle cx="439.9" cy="561.2" r="5.90" fill="#d6d6ff"/>
<circle cx="452.0" cy="561.2" r="5.90" fill="#d6d6ff"/>
<circle cx="464.2" cy="561.2" r="5.90" fill="#d6d6ff"/>
<circle cx="476.4" cy="561.2" r="5.90" fill="#d6d6ff"/>
<circle cx="488.6" cy="561.2" r="5.90" fill="#c2c2ff"/>
<circle cx="500.8" cy="561.2" r="5.90" fill="#c7c7ff"/>
<circle cx="512.9" cy="561.2" r="5.90" fill="#e6e6ff"/>
<circle cx="525.1" cy="561.2" r="5.90" fill="#fffafa"/>
<circle cx="537.3" cy="561.2" r="5.90" fill="#ffc7c7"/>
<circle cx="549.5" cy="561.2" r="5.90" fill="#ffb5b5"/>
<circle cx="561.7" cy="561.2" r="5.90" fill="#ff8c8c"/>
<circle cx="573.8" cy="561.2" r="5.90" fill="#ff8282"/>
<circle cx="586.0" cy="561.2" r="5.90" fill="#ff8282"/>
<circle cx="598.2" cy="561.2" r="5.90" fill="#ff7a7a"/>
<circle cx="610.4" cy="561.2" r="5.90" fill="#ff6969"/>
<circle cx="622.6" cy="561.2" r="5.90" fill="#ff6666"/>
<circle cx="634.7" cy="561.2" r="5.90" fill="#ff5959"/>
<circle cx="646.9" cy="561.2" r="5.90" fill="#ff5757"/>
<circle cx="659.1" cy="561.2" r="5.90" fill="#ff5959"/>
<circle cx="671.3" cy="561.2" r="5.90" fill="#ff6363"/>
<circle cx="683.5" cy="561.2" r="5.90" fill="#ff6e6e"/>
<circle cx="695.6" cy="561.2" r="5.90" fill="#ff7070"/>
<circle cx="707.8" cy="561.2" r="5.90" fill="#ff7878"/>
<circle cx="720.0" cy="561.2" r="5.90" fill="#ff9696"/>
<circle cx="732.2" cy="561.2" r="5.90" fill="#ff9999"/>
<circle cx="744.4" cy="561.2" r="5.90" fill="#ffb5b5"/>
<circle cx="756.5" cy="561.2" r="5.90" fill="#ffb8b8"/>
<circle cx="768.7" cy="561.2" r="5.90" fill="#ffcccc"/>
<circle cx="780.9" cy="561.2" r="5.90" fill="#ffe0e0"/>
<circle cx="86.6" cy="570.8" r="5.90" fill="#ff2626"/>
<circle cx="98.8" cy="570.8" r="5.90" fill="#ff2929"/>
<circle cx="111.0" cy="570.8" r="5.90" fill="#ff2b2b"/>
<circle cx="123.2" cy="570.8" r="5.90" fill="#ff2e2e"/>
<circle cx="135.4" cy="570.8" r="5.90" fill="#ff3333"/>
<circle cx="147.5" cy="570.8" r="5.90" fill="#ff3838"/>
<circle cx="159.7" cy="570.8" r="5.90" fill="#ff3c3c"/>
<circle cx="171.9" cy="570.8" r="5.90" fill="#ff4040"/>
<circle cx="184.1" cy="570.8" r="5.90" fill="#ff4545"/>
<circle cx="196.3" cy="570.8" r="5.90" fill="#ff4f4f"/>
<circle cx="208.4" cy="570.8" r="5.90" fill="#ff4a4a"/>
<circle cx="220.6" cy="570.8" r="5.90" fill="#ff4a4a"/>
<circle cx="232.8" cy="570.8" r="5.90" fill="#ff5e5e"/>
<circle cx="245.0" cy="570.8" r="5.90" fill="#ff5e5e"/>
<circle cx="257.2" cy="570.8" r="5.90" fill="#ff6161"/>
<circle cx="269.3" cy="570.8" r="5.90" fill="#ff6e6e"/>
<circle cx="281.5" cy="570.8" r="5.90" fill="#ff7878"/>
<circle cx="293.7" cy="570.8" r="5.90" fill="#ff9494"/>
<circle cx="305.9" cy="570.8" r="5.90" fill="#ffa6a6"/>
<circle cx="318.1" cy="570.8" r="5.90" fill="#ffb2b2"/>
<circle cx="330.2" cy="570.8" r="5.90" fill="#ffc7c7"/>
<circle cx="342.4" cy="570.8" r="5.90" fill="#ffd9d9"/>
<circle cx="354.6" cy="570.8" r="5.90" fill="#fff0f0"/>
<circle cx="366.8" cy="570.8" r="5.90" fill="#f5f5ff"/>
<circle cx="379.0" cy="570.8" r="5.90" fill="#ebebff"/>
<circle cx="391.1" cy="570.8" r="5.90" fill="#e0e0ff"/>
<circle cx="403.3" cy="570.8" r="5.90" fill="#e0e0ff"/>
<circle cx="415.5" cy="570.8" r="5.90" fill="#e0e0ff"/>
<circle cx="427.7" cy="570.8" r="5.90" fill="#e0e0ff"/>
<circle cx="439.9" cy="570.8" r="5.90" fill="#e0e0ff"/>
<circle cx="452.0" cy="570.8" r="5.90" fill="#e0e0ff"/>
<circle cx="464.2" cy="570.8" r="5.90" fill="#e0e0ff"/>
<circle cx="476.4" cy="570.8" r="5.90" fill="#e0e0ff"/>
<circle cx="488.6" cy="570.8" r="5.90" fill="#d1d1ff"/>
<circle cx="500.8" cy="570.8" r="5.90" fill="#d6d6ff"/>
<circle cx="512.9" cy="570.8" r="5.90" fill="#f0f0ff"/>
<circle cx="525.1" cy="570.8" r="5.90" fill="#ffebeb"/>
<circle cx="537.3" cy="570.8" r="5.90" fill="#ffbfbf"/>
<circle cx="549.5" cy="570.8" r="5.90" fill="#ffb2b2"/>
<circle cx="561.7" cy="570.8" r="5.90" fill="#ff8787"/>
<circle cx="573.8" cy="570.8" r="5.90" fill="#ff7a7a"/>
<circle cx="586.0" cy="570.8" r="5.90" fill="#ff7373"/>
<circle cx="598.2" cy="570.8" r="5.90" fill="#ff6b6b"/>
<circle cx="610.4" cy="570.8" r="5.90" fill="#ff5959"/>
<circle cx="622.6" cy="570.8" r="5.90" fill="#ff5757"/>
<circle cx="634.7" cy="570.8" r="5.90" fill="#ff4d4d"/>
<circle cx="646.9" cy="570.8" r="5.90" fill="#ff4747"/>
<circle cx="659.1" cy="570.8" r="5.90" fill="#ff4747"/>
<circle cx="671.3" cy="570.8" r="5.90" fill="#ff4f4f"/>
<circle cx="683.5" cy="570.8" r="5.90" fill="#ff5e5e"/>
<circle cx="695.6" cy="570.8" r="5.90" fill="#ff6161"/>
<circle cx="707.8" cy="570.8" r="5.90" fill="#ff6b6b"/>
<circle cx="720.0" cy="570.8" r="5.90" fill="#ff8282"/>
<circle cx="732.2" cy="570.8" r="5.90" fill="#ff8787"/>
<circle cx="744.4" cy="570.8" r="5.90" fill="#ffa1a1"/>
<circle cx="756.5" cy="570.8" r="5.90" fill="#ffa6a6"/>
<circle cx="768.7" cy="570.8" r="5.90" fill="#ffc2c2"/>
<circle cx="780.9" cy="570.8" r="5.90" fill="#ffd1d1"/>
<circle cx="793.1" cy="570.8" r="5.90" fill="#ffe6e6"/>
<circle cx="86.6" cy="580.5" r="5.90" fill="#ff2121"/>
<circle cx="98.8" cy="580.5" r="5.90" fill="#ff2424"/>
<circle cx="111.0" cy="580.5" r="5.90" fill="#ff2626"/>
<circle cx="123.2" cy="580.5" r="5.90" fill="#ff2929"/>
<circle cx="135.4" cy="580.5" r="5.90" fill="#ff2e2e"/>
<circle cx="147.5" cy="580.5" r="5.90" fill="#ff3333"/>
<circle cx="159.7" cy="580.5" r="5.90" fill="#ff3737"/>
<circle cx="171.9" cy="580.5" r="5.90" fill="#ff3b3b"/>
<circle cx="184.1" cy="580.5" r="5.90" fill="#ff4040"/>
<circle cx="196.3" cy="580.5" r="5.90" fill="#ff4a4a"/>
<circle cx="208.4" cy="580.5" r="5.90" fill="#ff4545"/>
<circle cx="220.6" cy="580.5" r="5.90" fill="#ff4545"/>
<circle cx="232.8" cy="580.5" r="5.90" fill="#ff5959"/>
<circle cx="245.0" cy="580.5" r="5.90" fill="#ff5959"/>
<circle cx="257.2" cy="580.5" r="5.90" fill="#ff5c5c"/>
<circle cx="269.3" cy="580.5" r="5.90" fill="#ff6969"/>
<circle cx="281.5" cy="580.5" r="5.90" fill="#ff7373"/>
<circle cx="293.7" cy="580.5" r="5.90" fill="#ff8f8f"/>
<circle cx="305.9" cy="580.5" r="5.90" fill="#ffa1a1"/>
<circle cx="318.1" cy="580.5" r="5.90" fill="#ffadad"/>
<circle cx="330.2" cy="580.5" r="5.90" fill="#ffc2c2"/>
<circle cx="342.4" cy="580.5" r="5.90" fill="#ffd4d4"/>
<circle cx="354.6" cy="580.5" r="5.90" fill="#ffebeb"/>
<circle cx="366.8" cy="580.5" r="5.90" fill="#fafaff"/>
<circle cx="379.0" cy="580.5" r="5.90" fill="#f0f0ff"/>
<circle cx="391.1" cy="580.5" r="5.90" fill="#e6e6ff"/>
<circle cx="403.3" cy="580.5" r="5.90" fill="#e6e6ff"/>
<circle cx="415.5" cy="580.5" r="5.90" fill="#e6e6ff"/>
<circle cx="427.7" cy="580.5" r="5.90" fill="#e6e6ff"/>
<circle cx="439.9" cy="580.5" r="5.90" fill="#e6e6ff"/>
<circle cx="452.0" cy="580.5" r="5.90" fill="#e6e6ff"/>
<circle cx="464.2" cy="580.5" r="5.90" fill="#e6e6ff"/>
<circle cx="476.4" cy="580.5" r="5.90" fill="#e6e6ff"/>
<circle cx="488.6" cy="580.5" r="5.90" fill="#d6d6ff"/>
<circle cx="500.8" cy="580.5" r="5.90" fill="#dbdbff"/>
<circle cx="512.9" cy="580.5" r="5.90" fill="#f5f5ff"/>
<circle cx="525.1" cy="580.5" r="5.90" fill="#ffe6e6"/>
<circle cx="537.3" cy="580.5" r="5.90" fill="#ffbaba"/>
<circle cx="549.5" cy="580.5" r="5.90" fill="#ffadad"/>
<circle cx="561.7" cy="580.5" r="5.90" fill="#ff8282"/>
<circle cx="573.8" cy="580.5" r="5.90" fill="#ff7575"/>
<circle cx="586.0" cy="580.5" r="5.90" fill="#ff6b6b"/>
<circle cx="598.2" cy="580.5" r="5.90" fill="#ff6363"/>
<circle cx="610.4" cy="580.5" r="5.90" fill="#ff5252"/>
<circle cx="622.6" cy="580.5" r="5.90" fill="#ff4f4f"/>
<circle cx="634.7" cy="580.5" r="5.90" fill="#ff4545"/>
<circle cx="646.9" cy="580.5" r="5.90" fill="#ff4040"/>
<circle cx="659.1" cy="580.5" r="5.90" fill="#ff4040"/>
<circle cx="671.3" cy="580.5" r="5.90" fill="#ff4747"/>
<circle cx="683.5" cy="580.5" r="5.90" fill="#ff5757"/>
<circle cx="695.6" cy="580.5" r="5.90" fill="#ff5959"/>
<circle cx="707.8" cy="580.5" r="5.90" fill="#ff6363"/>
<circle cx="720.0" cy="580.5" r="5.90" fill="#ff7a7a"/>
<circle cx="732.2" cy="580.5" r="5.90" fill="#ff8080"/>
<circle cx="744.4" cy="580.5" r="5.90" fill="#ff9999"/>
<circle cx="756.5" cy="580.5" r="5.90" fill="#ff9e9e"/>
<circle cx="768.7" cy="580.5" r="5.90" fill="#ffbaba"/>
<circle cx="780.9" cy="580.5" r="5.90" fill="#ffcccc"/>
<circle cx="793.1" cy="580.5" r="5.90" fill="#ffe0e0"/>
<circle cx="805.3" cy="580.5" r="5.90" fill="#fff2f2"/></g>
<g clip-path="url(#c2)"><circle cx="908.9" cy="14.5" r="5.90" fill="#e0e0ff"/>
<circle cx="908.9" cy="25.0" r="5.90" fill="#c7c7ff"/>
<circle cx="922.2" cy="25.0" r="5.90" fill="#e8e8ff"/>
<circle cx="908.9" cy="35.5" r="5.90" fill="#ababff"/>
<circle cx="922.2" cy="35.5" r="5.90" fill="#c2c2ff"/>
<circle cx="935.4" cy="35.5" r="5.90" fill="#d6d6ff"/>
<circle cx="908.9" cy="45.9" r="5.90" fill="#9696ff"/>
<circle cx="922.2" cy="45.9" r="5.90" fill="#ababff"/>
<circle cx="935.4" cy="45.9" r="5.90" fill="#babaff"/>
<circle cx="948.7" cy="45.9" r="5.90" fill="#e0e0ff"/>
<circle cx="908.9" cy="56.4" r="5.90" fill="#6e6eff"/>
<circle cx="922.2" cy="56.4" r="5.90" fill="#8282ff"/>
<circle cx="935.4" cy="56.4" r="5.90" fill="#8c8cff"/>
<circle cx="948.7" cy="56.4" r="5.90" fill="#ababff"/>
<circle cx="962.0" cy="56.4" r="5.90" fill="#ccccff"/>
<circle cx="908.9" cy="66.9" r="5.90" fill="#5e5eff"/>
<circle cx="922.2" cy="66.9" r="5.90" fill="#6e6eff"/>
<circle cx="935.4" cy="66.9" r="5.90" fill="#7878ff"/>
<circle cx="948.7" cy="66.9" r="5.90" fill="#9c9cff"/>
<circle cx="962.0" cy="66.9" r="5.90" fill="#babaff"/>
<circle cx="975.2" cy="66.9" r="5.90" fill="#e6e6ff"/>
<circle cx="908.9" cy="77.4" r="5.90" fill="#4f4fff"/>
<circle cx="922.2" cy="77.4" r="5.90" fill="#5e5eff"/>
<circle cx="935.4" cy="77.4" r="5.90" fill="#6e6eff"/>
<circle cx="948.7" cy="77.4" r="5.90" fill="#9696ff"/>
<circle cx="962.0" cy="77.4" r="5.90" fill="#b0b0ff"/>
<circle cx="975.2" cy="77.4" r="5.90" fill="#d1d1ff"/>
<circle cx="988.5" cy="77.4" r="5.90" fill="#e6e6ff"/>
<circle cx="908.9" cy="87.9" r="5.90" fill="#4545ff"/>
<circle cx="922.2" cy="87.9" r="5.90" fill="#5454ff"/>
<circle cx="935.4" cy="87.9" r="5.90" fill="#6363ff"/>
<circle cx="948.7" cy="87.9" r="5.90" fill="#8c8cff"/>
<circle cx="962.0" cy="87.9" r="5.90" fill="#a6a6ff"/>
<circle cx="975.2" cy="87.9" r="5.90" fill="#ccccff"/>
<circle cx="988.5" cy="87.9" r="5.90" fill="#e0e0ff"/>
<circle cx="1001.7" cy="87.9" r="5.90" fill="#ebebff"/>
<circle cx="908.9" cy="98.4" r="5.90" fill="#3e3eff"/>
<circle cx="922.2" cy="98.4" r="5.90" fill="#4f4fff"/>
<circle cx="935.4" cy="98.4" r="5.90" fill="#5e5eff"/>
<circle cx="948.7" cy="98.4" r="5.90" fill="#8787ff"/>
<circle cx="962.0" cy="98.4" r="5.90" fill="#a1a1ff"/>
<circle cx="975.2" cy="98.4" r="5.90" fill="#c9c9ff"/>
<circle cx="988.5" cy="98.4" r="5.90" fill="#dedeff"/>
<circle cx="1001.7" cy="98.4" r="5.90" fill="#e9e9ff"/>
<circle cx="1015.0" cy="98.4" r="5.90" fill="#ececff"/>
<circle cx="908.9" cy="108.9" r="5.90" fill="#3838ff"/>
<circle cx="922.2" cy="108.9" r="5.90" fill="#4a4aff"/>
<circle cx="935.4" cy="108.9" r="5.90" fill="#5959ff"/>
<circle cx="948.7" cy="108.9" r="5.90" fill="#8282ff"/>
<circle cx="962.0" cy="108.9" r="5.90" fill="#9c9cff"/>
<circle cx="975.2" cy="108.9" r="5.90" fill="#c7c7ff"/>
<circle cx="988.5" cy="108.9" r="5.90" fill="#dbdbff"/>
<circle cx="1001.7" cy="108.9" r="5.90" fill="#e8e8ff"/>
<circle cx="1015.0" cy="108.9" r="5.90" fill="#ededff"/>
<circle cx="1028.3" cy="108.9" r="5.90" fill="#f2f2ff"/>
<circle cx="908.9" cy="119.4" r="5.90" fill="#3636ff"/>
<circle cx="922.2" cy="119.4" r="5.90" fill="#4949ff"/>
<circle cx="935.4" cy="119.4" r="5.90" fill="#5757ff"/>
<circle cx="948.7" cy="119.4" r="5.90" fill="#8282ff"/>
<circle cx="962.0" cy="119.4" r="5.90" fill="#9a9aff"/>
<circle cx="975.2" cy="119.4" r="5.90" fill="#c6c6ff"/>
<circle cx="988.5" cy="119.4" r="5.90" fill="#d9d9ff"/>
<circle cx="1001.7" cy="119.4" r="5.90" fill="#e4e4ff"/>
<circle cx="1015.0" cy="119.4" r="5.90" fill="#ebebff"/>
<circle cx="1028.3" cy="119.4" r="5.90" fill="#f0f0ff"/>
<circle cx="1041.5" cy="119.4" r="5.90" fill="#f4f4ff"/>
<circle cx="908.9" cy="129.9" r="5.90" fill="#3333ff"/>
<circle cx="922.2" cy="129.9" r="5.90" fill="#4747ff"/>
<circle cx="935.4" cy="129.9" r="5.90" fill="#5454ff"/>
<circle cx="948.7" cy="129.9" r="5.90" fill="#8282ff"/>
<circle cx="962.0" cy="129.9" r="5.90" fill="#9999ff"/>
<circle cx="975.2" cy="129.9" r="5.90" fill="#c4c4ff"/>
<circle cx="988.5" cy="129.9" r="5.90" fill="#d6d6ff"/>
<circle cx="1001.7" cy="129.9" r="5.90" fill="#e0e0ff"/>
<circle cx="1015.0" cy="129.9" r="5.90" fill="#e8e8ff"/>
<circle cx="1028.3" cy="129.9" r="5.90" fill="#ededff"/>
<circle cx="1041.5" cy="129.9" r="5.90" fill="#f5f5ff"/>
<circle cx="1054.8" cy="129.9" r="5.90" fill="#fcfcff"/>
<circle cx="908.9" cy="140.4" r="5.90" fill="#3333ff"/>
<circle cx="922.2" cy="140.4" r="5.90" fill="#4646ff"/>
<circle cx="935.4" cy="140.4" r="5.90" fill="#5252ff"/>
<circle cx="948.7" cy="140.4" r="5.90" fill="#8080ff"/>
<circle cx="962.0" cy="140.4" r="5.90" fill="#9898ff"/>
<circle cx="975.2" cy="140.4" r="5.90" fill="#c3c3ff"/>
<circle cx="988.5" cy="140.4" r="5.90" fill="#d4d4ff"/>
<circle cx="1001.7" cy="140.4" r="5.90" fill="#e0e0ff"/>
<circle cx="1015.0" cy="140.4" r="5.90" fill="#e8e8ff"/>
<circle cx="1028.3" cy="140.4" r="5.90" fill="#eeeeff"/>
<circle cx="1041.5" cy="140.4" r="5.90" fill="#f5f5ff"/>
<circle cx="1054.8" cy="140.4" r="5.90" fill="#fefeff"/>
<circle cx="1068.0" cy="140.4" r="5.90" fill="#fefeff"/>
<circle cx="908.9" cy="150.8" r="5.90" fill="#3333ff"/>
<circle cx="922.2" cy="150.8" r="5.90" fill="#4545ff"/>
<circle cx="935.4" cy="150.8" r="5.90" fill="#4f4fff"/>
<circle cx="948.7" cy="150.8" r="5.90" fill="#7d7dff"/>
<circle cx="962.0" cy="150.8" r="5.90" fill="#9696ff"/>
<circle cx="975.2" cy="150.8" r="5.90" fill="#c2c2ff"/>
<circle cx="988.5" cy="150.8" r="5.90" fill="#d1d1ff"/>
<circle cx="1001.7" cy="150.8" r="5.90" fill="#e0e0ff"/>
<circle cx="1015.0" cy="150.8" r="5.90" fill="#e8e8ff"/>
<circle cx="1028.3" cy="150.8" r="5.90" fill="#f0f0ff"/>
<circle cx="1041.5" cy="150.8" r="5.90" fill="#f5f5ff"/>
<circle cx="908.9" cy="161.3" r="5.90" fill="#3636ff"/>
<circle cx="922.2" cy="161.3" r="5.90" fill="#4a4aff"/>
<circle cx="935.4" cy="161.3" r="5.90" fill="#5454ff"/>
<circle cx="948.7" cy="161.3" r="5.90" fill="#8080ff"/>
<circle cx="962.0" cy="161.3" r="5.90" fill="#9999ff"/>
<circle cx="975.2" cy="161.3" r="5.90" fill="#c4c4ff"/>
<circle cx="988.5" cy="161.3" r="5.90" fill="#d6d6ff"/>
<circle cx="1001.7" cy="161.3" r="5.90" fill="#e6e6ff"/>
<circle cx="1015.0" cy="161.3" r="5.90" fill="#ededff"/>
<circle cx="1028.3" cy="161.3" r="5.90" fill="#f5f5ff"/>
<circle cx="1041.5" cy="161.3" r="5.90" fill="#fafaff"/>
<circle cx="1054.8" cy="161.3" r="5.90" fill="#fffafa"/>
<circle cx="1068.0" cy="161.3" r="5.90" fill="#fffafa"/>
<circle cx="1081.3" cy="161.3" r="5.90" fill="#fff7f7"/>
<circle cx="1094.6" cy="161.3" r="5.90" fill="#fff7f7"/>
<circle cx="908.9" cy="171.8" r="5.90" fill="#3838ff"/>
<circle cx="922.2" cy="171.8" r="5.90" fill="#4f4fff"/>
<circle cx="935.4" cy="171.8" r="5.90" fill="#5959ff"/>
<circle cx="948.7" cy="171.8" r="5.90" fill="#8282ff"/>
<circle cx="962.0" cy="171.8" r="5.90" fill="#9c9cff"/>
<circle cx="975.2" cy="171.8" r="5.90" fill="#c7c7ff"/>
<circle cx="988.5" cy="171.8" r="5.90" fill="#dbdbff"/>
<circle cx="1001.7" cy="171.8" r="5.90" fill="#e8e8ff"/>
<circle cx="1015.0" cy="171.8" r="5.90" fill="#ededff"/>
<circle cx="1028.3" cy="171.8" r="5.90" fill="#fcfcff"/>
<circle cx="1054.8" cy="171.8" r="5.90" fill="#fff5f5"/>
<circle cx="1068.0" cy="171.8" r="5.90" fill="#fff5f5"/>
<circle cx="1081.3" cy="171.8" r="5.90" fill="#fff5f5"/>
<circle cx="1094.6" cy="171.8" r="5.90" fill="#fff5f5"/>
<circle cx="1107.8" cy="171.8" r="5.90" fill="#fff7f7"/>
<circle cx="908.9" cy="182.3" r="5.90" fill="#3d3dff"/>
<circle cx="922.2" cy="182.3" r="5.90" fill="#5959ff"/>
<circle cx="935.4" cy="182.3" r="5.90" fill="#6363ff"/>
<circle cx="948.7" cy="182.3" r="5.90" fill="#8c8cff"/>
<circle cx="962.0" cy="182.3" r="5.90" fill="#a1a1ff"/>
<circle cx="975.2" cy="182.3" r="5.90" fill="#d1d1ff"/>
<circle cx="988.5" cy="182.3" r="5.90" fill="#e6e6ff"/>
<circle cx="1001.7" cy="182.3" r="5.90" fill="#f7f7ff"/>
<circle cx="1015.0" cy="182.3" r="5.90" fill="#fffcfc"/>
<circle cx="1028.3" cy="182.3" r="5.90" fill="#fff0f0"/>
<circle cx="1041.5" cy="182.3" r="5.90" fill="#ffe8e8"/>
<circle cx="1054.8" cy="182.3" r="5.90" fill="#ffe8e8"/>
<circle cx="1068.0" cy="182.3" r="5.90" fill="#ffe8e8"/>
<circle cx="1081.3" cy="182.3" r="5.90" fill="#ffe8e8"/>
<circle cx="1094.6" cy="182.3" r="5.90" fill="#ffe8e8"/>
<circle cx="1107.8" cy="182.3" r="5.90" fill="#ffebeb"/>
<circle cx="1121.1" cy="182.3" r="5.90" fill="#ffeded"/>
<circle cx="908.9" cy="192.8" r="5.90" fill="#4545ff"/>
<circle cx="922.2" cy="192.8" r="5.90" fill="#6363ff"/>
<circle cx="935.4" cy="192.8" r="5.90" fill="#6e6eff"/>
<circle cx="948.7" cy="192.8" r="5.90" fill="#9696ff"/>
<circle cx="962.0" cy="192.8" r="5.90" fill="#ababff"/>
<circle cx="975.2" cy="192.8" r="5.90" fill="#e0e0ff"/>
<circle cx="988.5" cy="192.8" r="5.90" fill="#f0f0ff"/>
<circle cx="1015.0" cy="192.8" r="5.90" fill="#fff0f0"/>
<circle cx="1028.3" cy="192.8" r="5.90" fill="#ffebeb"/>
<circle cx="1041.5" cy="192.8" r="5.90" fill="#ffe8e8"/>
<circle cx="1054.8" cy="192.8" r="5.90" fill="#ffe6e6"/>
<circle cx="1068.0" cy="192.8" r="5.90" fill="#ffe6e6"/>
<circle cx="1081.3" cy="192.8" r="5.90" fill="#ffe6e6"/>
<circle cx="1094.6" cy="192.8" r="5.90" fill="#ffe6e6"/>
<circle cx="1107.8" cy="192.8" r="5.90" fill="#ffe8e8"/>
<circle cx="1121.1" cy="192.8" r="5.90" fill="#ffebeb"/>
<circle cx="1134.3" cy="192.8" r="5.90" fill="#fff2f2"/>
<circle cx="908.9" cy="203.3" r="5.90" fill="#5959ff"/>
<circle cx="922.2" cy="203.3" r="5.90" fill="#7878ff"/>
<circle cx="935.4" cy="203.3" r="5.90" fill="#7d7dff"/>
<circle cx="948.7" cy="203.3" r="5.90" fill="#a6a6ff"/>
<circle cx="962.0" cy="203.3" r="5.90" fill="#bfbfff"/>
<circle cx="975.2" cy="203.3" r="5.90" fill="#ebebff"/>
<circle cx="988.5" cy="203.3" r="5.90" fill="#ffebeb"/>
<circle cx="1001.7" cy="203.3" r="5.90" fill="#ffe0e0"/>
<circle cx="1015.0" cy="203.3" r="5.90" fill="#ffd6d6"/>
<circle cx="1028.3" cy="203.3" r="5.90" fill="#ffcccc"/>
<circle cx="1041.5" cy="203.3" r="5.90" fill="#ffc7c7"/>
<circle cx="1054.8" cy="203.3" r="5.90" fill="#ffc7c7"/>
<circle cx="1068.0" cy="203.3" r="5.90" fill="#ffc7c7"/>
<circle cx="1081.3" cy="203.3" r="5.90" fill="#ffc7c7"/>
<circle cx="1094.6" cy="203.3" r="5.90" fill="#ffcccc"/>
<circle cx="1107.8" cy="203.3" r="5.90" fill="#ffcccc"/>
<circle cx="1121.1" cy="203.3" r="5.90" fill="#ffd1d1"/>
<circle cx="1134.3" cy="203.3" r="5.90" fill="#ffd6d6"/>
<circle cx="1147.6" cy="203.3" r="5.90" fill="#ffdbdb"/>
<circle cx="908.9" cy="213.8" r="5.90" fill="#6e6eff"/>
<circle cx="922.2" cy="213.8" r="5.90" fill="#8787ff"/>
<circle cx="935.4" cy="213.8" r="5.90" fill="#8c8cff"/>
<circle cx="948.7" cy="213.8" r="5.90" fill="#b5b5ff"/>
<circle cx="962.0" cy="213.8" r="5.90" fill="#ccccff"/>
<circle cx="975.2" cy="213.8" r="5.90" fill="#fafaff"/>
<circle cx="988.5" cy="213.8" r="5.90" fill="#ffe0e0"/>
<circle cx="1001.7" cy="213.8" r="5.90" fill="#ffd4d4"/>
<circle cx="1015.0" cy="213.8" r="5.90" fill="#ffcfcf"/>
<circle cx="1028.3" cy="213.8" r="5.90" fill="#ffc9c9"/>
<circle cx="1041.5" cy="213.8" r="5.90" fill="#ffc7c7"/>
<circle cx="1054.8" cy="213.8" r="5.90" fill="#ffc7c7"/>
<circle cx="1068.0" cy="213.8" r="5.90" fill="#ffc7c7"/>
<circle cx="1081.3" cy="213.8" r="5.90" fill="#ffc7c7"/>
<circle cx="1094.6" cy="213.8" r="5.90" fill="#ffc7c7"/>
<circle cx="1107.8" cy="213.8" r="5.90" fill="#ffc7c7"/>
<circle cx="1121.1" cy="213.8" r="5.90" fill="#ffc7c7"/>
<circle cx="1134.3" cy="213.8" r="5.90" fill="#ffcccc"/>
<circle cx="1147.6" cy="213.8" r="5.90" fill="#ffd6d6"/>
<circle cx="1160.9" cy="213.8" r="5.90" fill="#ffebeb"/>
<circle cx="908.9" cy="224.3" r="5.90" fill="#8282ff"/>
<circle cx="922.2" cy="224.3" r="5.90" fill="#9696ff"/>
<circle cx="935.4" cy="224.3" r="5.90" fill="#a6a6ff"/>
<circle cx="948.7" cy="224.3" r="5.90" fill="#c7c7ff"/>
<circle cx="962.0" cy="224.3" r="5.90" fill="#e6e6ff"/>
<circle cx="975.2" cy="224.3" r="5.90" fill="#ffd6d6"/>
<circle cx="988.5" cy="224.3" r="5.90" fill="#ffcccc"/>
<circle cx="1001.7" cy="224.3" r="5.90" fill="#ffbfbf"/>
<circle cx="1015.0" cy="224.3" r="5.90" fill="#ffadad"/>
<circle cx="1028.3" cy="224.3" r="5.90" fill="#ffabab"/>
<circle cx="1041.5" cy="224.3" r="5.90" fill="#ffa8a8"/>
<circle cx="1054.8" cy="224.3" r="5.90" fill="#ffa6a6"/>
<circle cx="1068.0" cy="224.3" r="5.90" fill="#ffa3a3"/>
<circle cx="1081.3" cy="224.3" r="5.90" fill="#ffa3a3"/>
<circle cx="1094.6" cy="224.3" r="5.90" fill="#ffa6a6"/>
<circle cx="1107.8" cy="224.3" r="5.90" fill="#ffa6a6"/>
<circle cx="1121.1" cy="224.3" r="5.90" fill="#ffa6a6"/>
<circle cx="1134.3" cy="224.3" r="5.90" fill="#ffabab"/>
<circle cx="1147.6" cy="224.3" r="5.90" fill="#ffb5b5"/>
<circle cx="1160.9" cy="224.3" r="5.90" fill="#ffc7c7"/>
<circle cx="1174.1" cy="224.3" r="5.90" fill="#ffd6d6"/>
<circle cx="908.9" cy="234.8" r="5.90" fill="#9696ff"/>
<circle cx="922.2" cy="234.8" r="5.90" fill="#a1a1ff"/>
<circle cx="935.4" cy="234.8" r="5.90" fill="#b0b0ff"/>
<circle cx="948.7" cy="234.8" r="5.90" fill="#dbdbff"/>
<circle cx="975.2" cy="234.8" r="5.90" fill="#ffcccc"/>
<circle cx="988.5" cy="234.8" r="5.90" fill="#ffbfbf"/>
<circle cx="1001.7" cy="234.8" r="5.90" fill="#ffabab"/>
<circle cx="1015.0" cy="234.8" r="5.90" fill="#ffa8a8"/>
<circle cx="1028.3" cy="234.8" r="5.90" fill="#ffa6a6"/>
<circle cx="1041.5" cy="234.8" r="5.90" fill="#ffa3a3"/>
<circle cx="1054.8" cy="234.8" r="5.90" fill="#ffa1a1"/>
<circle cx="1068.0" cy="234.8" r="5.90" fill="#ff9e9e"/>
<circle cx="1081.3" cy="234.8" r="5.90" fill="#ff9e9e"/>
<circle cx="1094.6" cy="234.8" r="5.90" fill="#ffa1a1"/>
<circle cx="1107.8" cy="234.8" r="5.90" fill="#ffa1a1"/>
<circle cx="1121.1" cy="234.8" r="5.90" fill="#ffa6a6"/>
<circle cx="1134.3" cy="234.8" r="5.90" fill="#ffabab"/>
<circle cx="1147.6" cy="234.8" r="5.90" fill="#ffb2b2"/>
<circle cx="1160.9" cy="234.8" r="5.90" fill="#ffc2c2"/>
<circle cx="1174.1" cy="234.8" r="5.90" fill="#ffcccc"/>
<circle cx="1187.4" cy="234.8" r="5.90" fill="#ffebeb"/>
<circle cx="908.9" cy="245.2" r="5.90" fill="#ababff"/>
<circle cx="922.2" cy="245.2" r="5.90" fill="#c2c2ff"/>
<circle cx="935.4" cy="245.2" r="5.90" fill="#d1d1ff"/>
<circle cx="948.7" cy="245.2" r="5.90" fill="#ffebeb"/>
<circle cx="962.0" cy="245.2" r="5.90" fill="#ffcccc"/>
<circle cx="975.2" cy="245.2" r="5.90" fill="#ffa1a1"/>
<circle cx="988.5" cy="245.2" r="5.90" fill="#ff9696"/>
<circle cx="1001.7" cy="245.2" r="5.90" fill="#ff8282"/>
<circle cx="1015.0" cy="245.2" r="5.90" fill="#ff8a8a"/>
<circle cx="1028.3" cy="245.2" r="5.90" fill="#ff8787"/>
<circle cx="1041.5" cy="245.2" r="5.90" fill="#ff8585"/>
<circle cx="1054.8" cy="245.2" r="5.90" fill="#ff8282"/>
<circle cx="1068.0" cy="245.2" r="5.90" fill="#ff8080"/>
<circle cx="1081.3" cy="245.2" r="5.90" fill="#ff8080"/>
<circle cx="1094.6" cy="245.2" r="5.90" fill="#ff8282"/>
<circle cx="1107.8" cy="245.2" r="5.90" fill="#ff8282"/>
<circle cx="1121.1" cy="245.2" r="5.90" fill="#ff8787"/>
<circle cx="1134.3" cy="245.2" r="5.90" fill="#ff8c8c"/>
<circle cx="1147.6" cy="245.2" r="5.90" fill="#ff9191"/>
<circle cx="1160.9" cy="245.2" r="5.90" fill="#ffabab"/>
<circle cx="1174.1" cy="245.2" r="5.90" fill="#ffb0b0"/>
<circle cx="1187.4" cy="245.2" r="5.90" fill="#ffc7c7"/>
<circle cx="1200.6" cy="245.2" r="5.90" fill="#ffd1d1"/>
<circle cx="908.9" cy="255.7" r="5.90" fill="#b5b5ff"/>
<circle cx="922.2" cy="255.7" r="5.90" fill="#ccccff"/>
<circle cx="935.4" cy="255.7" r="5.90" fill="#e0e0ff"/>
<circle cx="948.7" cy="255.7" r="5.90" fill="#ffe6e6"/>
<circle cx="962.0" cy="255.7" r="5.90" fill="#ffc2c2"/>
<circle cx="975.2" cy="255.7" r="5.90" fill="#ff9696"/>
<circle cx="988.5" cy="255.7" r="5.90" fill="#ff8c8c"/>
<circle cx="1001.7" cy="255.7" r="5.90" fill="#ff7878"/>
<circle cx="1015.0" cy="255.7" r="5.90" fill="#ff8080"/>
<circle cx="1028.3" cy="255.7" r="5.90" fill="#ff7d7d"/>
<circle cx="1041.5" cy="255.7" r="5.90" fill="#ff7a7a"/>
<circle cx="1054.8" cy="255.7" r="5.90" fill="#ff7878"/>
<circle cx="1068.0" cy="255.7" r="5.90" fill="#ff7575"/>
<circle cx="1081.3" cy="255.7" r="5.90" fill="#ff7575"/>
<circle cx="1094.6" cy="255.7" r="5.90" fill="#ff7878"/>
<circle cx="1107.8" cy="255.7" r="5.90" fill="#ff7d7d"/>
<circle cx="1121.1" cy="255.7" r="5.90" fill="#ff8282"/>
<circle cx="1134.3" cy="255.7" r="5.90" fill="#ff8787"/>
<circle cx="1147.6" cy="255.7" r="5.90" fill="#ff8c8c"/>
<circle cx="1160.9" cy="255.7" r="5.90" fill="#ffa6a6"/>
<circle cx="1174.1" cy="255.7" r="5.90" fill="#ffabab"/>
<circle cx="1187.4" cy="255.7" r="5.90" fill="#ffc2c2"/>
<circle cx="1200.6" cy="255.7" r="5.90" fill="#ffcccc"/>
<circle cx="1213.9" cy="255.7" r="5.90" fill="#ffebeb"/>
<circle cx="908.9" cy="266.2" r="5.90" fill="#d1d1ff"/>
<circle cx="922.2" cy="266.2" r="5.90" fill="#ebebff"/>
<circle cx="935.4" cy="266.2" r="5.90" fill="#fff7f7"/>
<circle cx="948.7" cy="266.2" r="5.90" fill="#ffc7c7"/>
<circle cx="962.0" cy="266.2" r="5.90" fill="#ffb0b0"/>
<circle cx="975.2" cy="266.2" r="5.90" fill="#ff7878"/>
<circle cx="988.5" cy="266.2" r="5.90" fill="#ff6e6e"/>
<circle cx="1001.7" cy="266.2" r="5.90" fill="#ff5e5e"/>
<circle cx="1015.0" cy="266.2" r="5.90" fill="#ff6161"/>
<circle cx="1028.3" cy="266.2" r="5.90" fill="#ff5e5e"/>
<circle cx="1041.5" cy="266.2" r="5.90" fill="#ff5c5c"/>
<circle cx="1054.8" cy="266.2" r="5.90" fill="#ff5959"/>
<circle cx="1068.0" cy="266.2" r="5.90" fill="#ff5757"/>
<circle cx="1081.3" cy="266.2" r="5.90" fill="#ff5757"/>
<circle cx="1094.6" cy="266.2" r="5.90" fill="#ff5959"/>
<circle cx="1107.8" cy="266.2" r="5.90" fill="#ff5959"/>
<circle cx="1121.1" cy="266.2" r="5.90" fill="#ff5e5e"/>
<circle cx="1134.3" cy="266.2" r="5.90" fill="#ff6666"/>
<circle cx="1147.6" cy="266.2" r="5.90" fill="#ff6b6b"/>
<circle cx="1160.9" cy="266.2" r="5.90" fill="#ff8787"/>
<circle cx="1174.1" cy="266.2" r="5.90" fill="#ff8c8c"/>
<circle cx="1187.4" cy="266.2" r="5.90" fill="#ffa6a6"/>
<circle cx="1200.6" cy="266.2" r="5.90" fill="#ffb0b0"/>
<circle cx="1213.9" cy="266.2" r="5.90" fill="#ffcccc"/>
<circle cx="1227.2" cy="266.2" r="5.90" fill="#ffd1d1"/>
<circle cx="908.9" cy="276.7" r="5.90" fill="#e6e6ff"/>
<circle cx="922.2" cy="276.7" r="5.90" fill="#fff7f7"/>
<circle cx="935.4" cy="276.7" r="5.90" fill="#ffe6e6"/>
<circle cx="948.7" cy="276.7" r="5.90" fill="#ffb5b5"/>
<circle cx="962.0" cy="276.7" r="5.90" fill="#ffa6a6"/>
<circle cx="975.2" cy="276.7" r="5.90" fill="#ff6e6e"/>
<circle cx="988.5" cy="276.7" r="5.90" fill="#ff6363"/>
<circle cx="1001.7" cy="276.7" r="5.90" fill="#ff5454"/>
<circle cx="1015.0" cy="276.7" r="5.90" fill="#ff5757"/>
<circle cx="1028.3" cy="276.7" r="5.90" fill="#ff5454"/>
<circle cx="1041.5" cy="276.7" r="5.90" fill="#ff5252"/>
<circle cx="1054.8" cy="276.7" r="5.90" fill="#ff4f4f"/>
<circle cx="1068.0" cy="276.7" r="5.90" fill="#ff4d4d"/>
<circle cx="1081.3" cy="276.7" r="5.90" fill="#ff4d4d"/>
<circle cx="1094.6" cy="276.7" r="5.90" fill="#ff4f4f"/>
<circle cx="1107.8" cy="276.7" r="5.90" fill="#ff5454"/>
<circle cx="1121.1" cy="276.7" r="5.90" fill="#ff5959"/>
<circle cx="1134.3" cy="276.7" r="5.90" fill="#ff5e5e"/>
<circle cx="1147.6" cy="276.7" r="5.90" fill="#ff6666"/>
<circle cx="1160.9" cy="276.7" r="5.90" fill="#ff8080"/>
<circle cx="1174.1" cy="276.7" r="5.90" fill="#ff8585"/>
<circle cx="1187.4" cy="276.7" r="5.90" fill="#ffa1a1"/>
<circle cx="1200.6" cy="276.7" r="5.90" fill="#ffabab"/>
<circle cx="1213.9" cy="276.7" r="5.90" fill="#ffc7c7"/>
<circle cx="1227.2" cy="276.7" r="5.90" fill="#ffcccc"/>
<circle cx="1240.4" cy="276.7" r="5.90" fill="#ffebeb"/>
<circle cx="908.9" cy="287.2" r="5.90" fill="#f2f2ff"/>
<circle cx="922.2" cy="287.2" r="5.90" fill="#ffe0e0"/>
<circle cx="935.4" cy="287.2" r="5.90" fill="#ffd6d6"/>
<circle cx="948.7" cy="287.2" r="5.90" fill="#ffabab"/>
<circle cx="962.0" cy="287.2" r="5.90" fill="#ffa1a1"/>
<circle cx="975.2" cy="287.2" r="5.90" fill="#ff6969"/>
<circle cx="988.5" cy="287.2" r="5.90" fill="#ff5e5e"/>
<circle cx="1001.7" cy="287.2" r="5.90" fill="#ff4d4d"/>
<circle cx="1015.0" cy="287.2" r="5.90" fill="#ff4545"/>
<circle cx="1028.3" cy="287.2" r="5.90" fill="#ff4242"/>
<circle cx="1041.5" cy="287.2" r="5.90" fill="#ff4040"/>
<circle cx="1054.8" cy="287.2" r="5.90" fill="#ff3d3d"/>
<circle cx="1068.0" cy="287.2" r="5.90" fill="#ff3b3b"/>
<circle cx="1081.3" cy="287.2" r="5.90" fill="#ff3b3b"/>
<circle cx="1094.6" cy="287.2" r="5.90" fill="#ff3d3d"/>
<circle cx="1107.8" cy="287.2" r="5.90" fill="#ff3d3d"/>
<circle cx="1121.1" cy="287.2" r="5.90" fill="#ff4242"/>
<circle cx="1134.3" cy="287.2" r="5.90" fill="#ff4d4d"/>
<circle cx="1147.6" cy="287.2" r="5.90" fill="#ff5252"/>
<circle cx="1160.9" cy="287.2" r="5.90" fill="#ff7373"/>
<circle cx="1174.1" cy="287.2" r="5.90" fill="#ff7878"/>
<circle cx="1187.4" cy="287.2" r="5.90" fill="#ff9696"/>
<circle cx="1200.6" cy="287.2" r="5.90" fill="#ffa1a1"/>
<circle cx="1213.9" cy="287.2" r="5.90" fill="#ffbfbf"/>
<circle cx="1227.2" cy="287.2" r="5.90" fill="#ffc7c7"/>
<circle cx="1240.4" cy="287.2" r="5.90" fill="#ffe0e0"/>
<circle cx="1253.7" cy="287.2" r="5.90" fill="#ffebeb"/>
<circle cx="908.9" cy="297.7" r="5.90" fill="#f2f2ff"/>
<circle cx="922.2" cy="297.7" r="5.90" fill="#ffdbdb"/>
<circle cx="935.4" cy="297.7" r="5.90" fill="#ffd1d1"/>
<circle cx="948.7" cy="297.7" r="5.90" fill="#ffabab"/>
<circle cx="962.0" cy="297.7" r="5.90" fill="#ffa1a1"/>
<circle cx="975.2" cy="297.7" r="5.90" fill="#ff6969"/>
<circle cx="988.5" cy="297.7" r="5.90" fill="#ff5e5e"/>
<circle cx="1001.7" cy="297.7" r="5.90" fill="#ff4d4d"/>
<circle cx="1015.0" cy="297.7" r="5.90" fill="#ff4040"/>
<circle cx="1028.3" cy="297.7" r="5.90" fill="#ff3d3d"/>
<circle cx="1041.5" cy="297.7" r="5.90" fill="#ff3b3b"/>
<circle cx="1054.8" cy="297.7" r="5.90" fill="#ff3838"/>
<circle cx="1068.0" cy="297.7" r="5.90" fill="#ff3636"/>
<circle cx="1081.3" cy="297.7" r="5.90" fill="#ff3636"/>
<circle cx="1094.6" cy="297.7" r="5.90" fill="#ff3838"/>
<circle cx="1107.8" cy="297.7" r="5.90" fill="#ff3838"/>
<circle cx="1121.1" cy="297.7" r="5.90" fill="#ff3d3d"/>
<circle cx="1134.3" cy="297.7" r="5.90" fill="#ff4747"/>
<circle cx="1147.6" cy="297.7" r="5.90" fill="#ff4d4d"/>
<circle cx="1160.9" cy="297.7" r="5.90" fill="#ff6e6e"/>
<circle cx="1174.1" cy="297.7" r="5.90" fill="#ff7373"/>
<circle cx="1187.4" cy="297.7" r="5.90" fill="#ff9191"/>
<circle cx="1200.6" cy="297.7" r="5.90" fill="#ff9c9c"/>
<circle cx="1213.9" cy="297.7" r="5.90" fill="#ffbfbf"/>
<circle cx="1227.2" cy="297.7" r="5.90" fill="#ffcccc"/>
<circle cx="1240.4" cy="297.7" r="5.90" fill="#ffe6e6"/>
<circle cx="1253.7" cy="297.7" r="5.90" fill="#fff2f2"/>
<circle cx="1266.9" cy="297.7" r="5.90" fill="#fffafa"/>
<circle cx="908.9" cy="308.2" r="5.90" fill="#ededff"/>
<circle cx="922.2" cy="308.2" r="5.90" fill="#ffeded"/>
<circle cx="935.4" cy="308.2" r="5.90" fill="#ffdbdb"/>
<circle cx="948.7" cy="308.2" r="5.90" fill="#ffb0b0"/>
<circle cx="962.0" cy="308.2" r="5.90" fill="#ffa6a6"/>
<circle cx="975.2" cy="308.2" r="5.90" fill="#ff6363"/>
<circle cx="988.5" cy="308.2" r="5.90" fill="#ff5e5e"/>
<circle cx="1001.7" cy="308.2" r="5.90" fill="#ff4747"/>
<circle cx="1015.0" cy="308.2" r="5.90" fill="#ff4545"/>
<circle cx="1028.3" cy="308.2" r="5.90" fill="#ff4040"/>
<circle cx="1041.5" cy="308.2" r="5.90" fill="#ff4040"/>
<circle cx="1054.8" cy="308.2" r="5.90" fill="#ff4040"/>
<circle cx="1068.0" cy="308.2" r="5.90" fill="#ff3333"/>
<circle cx="1081.3" cy="308.2" r="5.90" fill="#ff3333"/>
<circle cx="1094.6" cy="308.2" r="5.90" fill="#ff3838"/>
<circle cx="1107.8" cy="308.2" r="5.90" fill="#ff3838"/>
<circle cx="1121.1" cy="308.2" r="5.90" fill="#ff3d3d"/>
<circle cx="1134.3" cy="308.2" r="5.90" fill="#ff4d4d"/>
<circle cx="1147.6" cy="308.2" r="5.90" fill="#ff4d4d"/>
<circle cx="1160.9" cy="308.2" r="5.90" fill="#ff6e6e"/>
<circle cx="1174.1" cy="308.2" r="5.90" fill="#ff7373"/>
<circle cx="1187.4" cy="308.2" r="5.90" fill="#ff9696"/>
<circle cx="1200.6" cy="308.2" r="5.90" fill="#ffa1a1"/>
<circle cx="1213.9" cy="308.2" r="5.90" fill="#ffc7c7"/>
<circle cx="1227.2" cy="308.2" r="5.90" fill="#ffd1d1"/>
<circle cx="1240.4" cy="308.2" r="5.90" fill="#fff2f2"/>
<circle cx="1253.7" cy="308.2" r="5.90" fill="#fffafa"/>
<circle cx="1266.9" cy="308.2" r="5.90" fill="#f2f2ff"/>
<circle cx="1280.2" cy="308.2" r="5.90" fill="#ebebff"/>
<circle cx="908.9" cy="318.7" r="5.90" fill="#e0e0ff"/>
<circle cx="935.4" cy="318.7" r="5.90" fill="#ffe6e6"/>
<circle cx="948.7" cy="318.7" r="5.90" fill="#ffb5b5"/>
<circle cx="962.0" cy="318.7" r="5.90" fill="#ffa1a1"/>
<circle cx="975.2" cy="318.7" r="5.90" fill="#ff6e6e"/>
<circle cx="988.5" cy="318.7" r="5.90" fill="#ff6969"/>
<circle cx="1001.7" cy="318.7" r="5.90" fill="#ff5454"/>
<circle cx="1015.0" cy="318.7" r="5.90" fill="#ff4f4f"/>
<circle cx="1028.3" cy="318.7" r="5.90" fill="#ff4f4f"/>
<circle cx="1041.5" cy="318.7" r="5.90" fill="#ff4f4f"/>
<circle cx="1054.8" cy="318.7" r="5.90" fill="#ff4a4a"/>
<circle cx="1068.0" cy="318.7" r="5.90" fill="#ff4545"/>
<circle cx="1081.3" cy="318.7" r="5.90" fill="#ff4646"/>
<circle cx="1094.6" cy="318.7" r="5.90" fill="#ff4747"/>
<circle cx="1107.8" cy="318.7" r="5.90" fill="#ff4040"/>
<circle cx="1121.1" cy="318.7" r="5.90" fill="#ff4545"/>
<circle cx="1134.3" cy="318.7" r="5.90" fill="#ff5252"/>
<circle cx="1147.6" cy="318.7" r="5.90" fill="#ff5252"/>
<circle cx="1160.9" cy="318.7" r="5.90" fill="#ff7373"/>
<circle cx="1174.1" cy="318.7" r="5.90" fill="#ff7878"/>
<circle cx="1187.4" cy="318.7" r="5.90" fill="#ff9e9e"/>
<circle cx="1200.6" cy="318.7" r="5.90" fill="#ffabab"/>
<circle cx="1213.9" cy="318.7" r="5.90" fill="#ffd1d1"/>
<circle cx="1227.2" cy="318.7" r="5.90" fill="#ffd9d9"/>
<circle cx="1240.4" cy="318.7" r="5.90" fill="#fffafa"/>
<circle cx="1253.7" cy="318.7" r="5.90" fill="#fafaff"/>
<circle cx="1266.9" cy="318.7" r="5.90" fill="#ebebff"/>
<circle cx="1280.2" cy="318.7" r="5.90" fill="#e6e6ff"/>
<circle cx="1293.5" cy="318.7" r="5.90" fill="#f2f2ff"/>
<circle cx="908.9" cy="329.2" r="5.90" fill="#d9d9ff"/>
<circle cx="922.2" cy="329.2" r="5.90" fill="#f0f0ff"/>
<circle cx="935.4" cy="329.2" r="5.90" fill="#fff7f7"/>
<circle cx="948.7" cy="329.2" r="5.90" fill="#ffc2c2"/>
<circle cx="962.0" cy="329.2" r="5.90" fill="#ffabab"/>
<circle cx="975.2" cy="329.2" r="5.90" fill="#ff7878"/>
<circle cx="988.5" cy="329.2" r="5.90" fill="#ff7373"/>
<circle cx="1001.7" cy="329.2" r="5.90" fill="#ff5e5e"/>
<circle cx="1015.0" cy="329.2" r="5.90" fill="#ff5e5e"/>
<circle cx="1028.3" cy="329.2" r="5.90" fill="#ff5c5c"/>
<circle cx="1041.5" cy="329.2" r="5.90" fill="#ff5959"/>
<circle cx="1054.8" cy="329.2" r="5.90" fill="#ff5757"/>
<circle cx="1068.0" cy="329.2" r="5.90" fill="#ff5454"/>
<circle cx="1081.3" cy="329.2" r="5.90" fill="#ff5353"/>
<circle cx="1094.6" cy="329.2" r="5.90" fill="#ff5252"/>
<circle cx="1107.8" cy="329.2" r="5.90" fill="#ff4f4f"/>
<circle cx="1121.1" cy="329.2" r="5.90" fill="#ff5454"/>
<circle cx="1134.3" cy="329.2" r="5.90" fill="#ff5e5e"/>
<circle cx="1147.6" cy="329.2" r="5.90" fill="#ff5e5e"/>
<circle cx="1160.9" cy="329.2" r="5.90" fill="#ff8080"/>
<circle cx="1174.1" cy="329.2" r="5.90" fill="#ff8585"/>
<circle cx="1187.4" cy="329.2" r="5.90" fill="#ffabab"/>
<circle cx="1200.6" cy="329.2" r="5.90" fill="#ffb5b5"/>
<circle cx="1213.9" cy="329.2" r="5.90" fill="#ffe0e0"/>
<circle cx="1227.2" cy="329.2" r="5.90" fill="#ffe6e6"/>
<circle cx="1240.4" cy="329.2" r="5.90" fill="#f7f7ff"/>
<circle cx="1253.7" cy="329.2" r="5.90" fill="#ebebff"/>
<circle cx="1266.9" cy="329.2" r="5.90" fill="#d9d9ff"/>
<circle cx="1280.2" cy="329.2" r="5.90" fill="#d9d9ff"/>
<circle cx="1293.5" cy="329.2" r="5.90" fill="#e0e0ff"/>
<circle cx="1306.7" cy="329.2" r="5.90" fill="#ebebff"/>
<circle cx="908.9" cy="339.7" r="5.90" fill="#ccccff"/>
<circle cx="922.2" cy="339.7" r="5.90" fill="#e0e0ff"/>
<circle cx="935.4" cy="339.7" r="5.90" fill="#f7f7ff"/>
<circle cx="948.7" cy="339.7" r="5.90" fill="#ffcccc"/>
<circle cx="962.0" cy="339.7" r="5.90" fill="#ffb5b5"/>
<circle cx="975.2" cy="339.7" r="5.90" fill="#ff8282"/>
<circle cx="988.5" cy="339.7" r="5.90" fill="#ff7d7d"/>
<circle cx="1001.7" cy="339.7" r="5.90" fill="#ff6e6e"/>
<circle cx="1015.0" cy="339.7" r="5.90" fill="#ff6666"/>
<circle cx="1028.3" cy="339.7" r="5.90" fill="#ff6666"/>
<circle cx="1041.5" cy="339.7" r="5.90" fill="#ff6666"/>
<circle cx="1054.8" cy="339.7" r="5.90" fill="#ff6565"/>
<circle cx="1068.0" cy="339.7" r="5.90" fill="#ff6363"/>
<circle cx="1081.3" cy="339.7" r="5.90" fill="#ff6262"/>
<circle cx="1094.6" cy="339.7" r="5.90" fill="#ff6161"/>
<circle cx="1107.8" cy="339.7" r="5.90" fill="#ff5e5e"/>
<circle cx="1121.1" cy="339.7" r="5.90" fill="#ff6666"/>
<circle cx="1134.3" cy="339.7" r="5.90" fill="#ff6e6e"/>
<circle cx="1147.6" cy="339.7" r="5.90" fill="#ff7373"/>
<circle cx="1160.9" cy="339.7" r="5.90" fill="#ff8c8c"/>
<circle cx="1174.1" cy="339.7" r="5.90" fill="#ff9191"/>
<circle cx="1187.4" cy="339.7" r="5.90" fill="#ffb5b5"/>
<circle cx="1200.6" cy="339.7" r="5.90" fill="#ffbfbf"/>
<circle cx="1213.9" cy="339.7" r="5.90" fill="#ffebeb"/>
<circle cx="1227.2" cy="339.7" r="5.90" fill="#fff2f2"/>
<circle cx="1240.4" cy="339.7" r="5.90" fill="#f2f2ff"/>
<circle cx="1253.7" cy="339.7" r="5.90" fill="#e0e0ff"/>
<circle cx="1266.9" cy="339.7" r="5.90" fill="#ccccff"/>
<circle cx="1280.2" cy="339.7" r="5.90" fill="#ccccff"/>
<circle cx="1293.5" cy="339.7" r="5.90" fill="#d1d1ff"/>
<circle cx="1306.7" cy="339.7" r="5.90" fill="#e0e0ff"/>
<circle cx="1320.0" cy="339.7" r="5.90" fill="#f2f2ff"/>
<circle cx="908.9" cy="350.1" r="5.90" fill="#bfbfff"/>
<circle cx="922.2" cy="350.1" r="5.90" fill="#d6d6ff"/>
<circle cx="935.4" cy="350.1" r="5.90" fill="#e0e0ff"/>
<circle cx="948.7" cy="350.1" r="5.90" fill="#ffe0e0"/>
<circle cx="962.0" cy="350.1" r="5.90" fill="#ffc2c2"/>
<circle cx="975.2" cy="350.1" r="5.90" fill="#ff9191"/>
<circle cx="988.5" cy="350.1" r="5.90" fill="#ff8c8c"/>
<circle cx="1001.7" cy="350.1" r="5.90" fill="#ff7d7d"/>
<circle cx="1015.0" cy="350.1" r="5.90" fill="#ff7878"/>
<circle cx="1028.3" cy="350.1" r="5.90" fill="#ff7878"/>
<circle cx="1041.5" cy="350.1" r="5.90" fill="#ff7878"/>
<circle cx="1054.8" cy="350.1" r="5.90" fill="#ff7777"/>
<circle cx="1068.0" cy="350.1" r="5.90" fill="#ff7777"/>
<circle cx="1081.3" cy="350.1" r="5.90" fill="#ff7676"/>
<circle cx="1094.6" cy="350.1" r="5.90" fill="#ff7575"/>
<circle cx="1107.8" cy="350.1" r="5.90" fill="#ff7373"/>
<circle cx="1121.1" cy="350.1" r="5.90" fill="#ff7878"/>
<circle cx="1134.3" cy="350.1" r="5.90" fill="#ff8080"/>
<circle cx="1147.6" cy="350.1" r="5.90" fill="#ff8585"/>
<circle cx="1160.9" cy="350.1" r="5.90" fill="#ff9999"/>
<circle cx="1174.1" cy="350.1" r="5.90" fill="#ff9e9e"/>
<circle cx="1187.4" cy="350.1" r="5.90" fill="#ffc7c7"/>
<circle cx="1200.6" cy="350.1" r="5.90" fill="#ffd1d1"/>
<circle cx="1213.9" cy="350.1" r="5.90" fill="#fffafa"/>
<circle cx="1240.4" cy="350.1" r="5.90" fill="#d9d9ff"/>
<circle cx="1253.7" cy="350.1" r="5.90" fill="#ccccff"/>
<circle cx="1266.9" cy="350.1" r="5.90" fill="#b8b8ff"/>
<circle cx="1280.2" cy="350.1" r="5.90" fill="#b8b8ff"/>
<circle cx="1293.5" cy="350.1" r="5.90" fill="#bfbfff"/>
<circle cx="1306.7" cy="350.1" r="5.90" fill="#ccccff"/>
<circle cx="1320.0" cy="350.1" r="5.90" fill="#d9d9ff"/>
<circle cx="1333.2" cy="350.1" r="5.90" fill="#e0e0ff"/>
<circle cx="908.9" cy="360.6" r="5.90" fill="#ababff"/>
<circle cx="922.2" cy="360.6" r="5.90" fill="#babaff"/>
<circle cx="935.4" cy="360.6" r="5.90" fill="#c7c7ff"/>
<circle cx="948.7" cy="360.6" r="5.90" fill="#f7f7ff"/>
<circle cx="962.0" cy="360.6" r="5.90" fill="#ffe0e0"/>
<circle cx="975.2" cy="360.6" r="5.90" fill="#ffa6a6"/>
<circle cx="988.5" cy="360.6" r="5.90" fill="#ffa1a1"/>
<circle cx="1001.7" cy="360.6" r="5.90" fill="#ff9696"/>
<circle cx="1015.0" cy="360.6" r="5.90" fill="#ff8787"/>
<circle cx="1028.3" cy="360.6" r="5.90" fill="#ff8787"/>
<circle cx="1041.5" cy="360.6" r="5.90" fill="#ff8787"/>
<circle cx="1054.8" cy="360.6" r="5.90" fill="#ff8787"/>
<circle cx="1068.0" cy="360.6" r="5.90" fill="#ff8686"/>
<circle cx="1081.3" cy="360.6" r="5.90" fill="#ff8585"/>
<circle cx="1094.6" cy="360.6" r="5.90" fill="#ff8585"/>
<circle cx="1107.8" cy="360.6" r="5.90" fill="#ff8282"/>
<circle cx="1121.1" cy="360.6" r="5.90" fill="#ff8787"/>
<circle cx="1134.3" cy="360.6" r="5.90" fill="#ff9191"/>
<circle cx="1147.6" cy="360.6" r="5.90" fill="#ff9696"/>
<circle cx="1160.9" cy="360.6" r="5.90" fill="#ffabab"/>
<circle cx="1174.1" cy="360.6" r="5.90" fill="#ffb2b2"/>
<circle cx="1187.4" cy="360.6" r="5.90" fill="#ffe0e0"/>
<circle cx="1200.6" cy="360.6" r="5.90" fill="#ffebeb"/>
<circle cx="1213.9" cy="360.6" r="5.90" fill="#f2f2ff"/>
<circle cx="1227.2" cy="360.6" r="5.90" fill="#e6e6ff"/>
<circle cx="1240.4" cy="360.6" r="5.90" fill="#c7c7ff"/>
<circle cx="1253.7" cy="360.6" r="5.90" fill="#b8b8ff"/>
<circle cx="1266.9" cy="360.6" r="5.90" fill="#a6a6ff"/>
<circle cx="1280.2" cy="360.6" r="5.90" fill="#a6a6ff"/>
<circle cx="1293.5" cy="360.6" r="5.90" fill="#adadff"/>
<circle cx="1306.7" cy="360.6" r="5.90" fill="#b8b8ff"/>
<circle cx="1320.0" cy="360.6" r="5.90" fill="#ccccff"/>
<circle cx="1333.2" cy="360.6" r="5.90" fill="#d1d1ff"/>
<circle cx="1346.5" cy="360.6" r="5.90" fill="#e0e0ff"/>
<circle cx="908.9" cy="371.1" r="5.90" fill="#9696ff"/>
<circle cx="922.2" cy="371.1" r="5.90" fill="#a6a6ff"/>
<circle cx="935.4" cy="371.1" r="5.90" fill="#b5b5ff"/>
<circle cx="948.7" cy="371.1" r="5.90" fill="#e0e0ff"/>
<circle cx="962.0" cy="371.1" r="5.90" fill="#fffafa"/>
<circle cx="975.2" cy="371.1" r="5.90" fill="#ffbaba"/>
<circle cx="988.5" cy="371.1" r="5.90" fill="#ffb5b5"/>
<circle cx="1001.7" cy="371.1" r="5.90" fill="#ffa6a6"/>
<circle cx="1015.0" cy="371.1" r="5.90" fill="#ff9191"/>
<circle cx="1028.3" cy="371.1" r="5.90" fill="#ff9191"/>
<circle cx="1041.5" cy="371.1" r="5.90" fill="#ff9191"/>
<circle cx="1054.8" cy="371.1" r="5.90" fill="#ff9191"/>
<circle cx="1068.0" cy="371.1" r="5.90" fill="#ff9090"/>
<circle cx="1081.3" cy="371.1" r="5.90" fill="#ff8f8f"/>
<circle cx="1094.6" cy="371.1" r="5.90" fill="#ff8f8f"/>
<circle cx="1107.8" cy="371.1" r="5.90" fill="#ff8c8c"/>
<circle cx="1121.1" cy="371.1" r="5.90" fill="#ff9191"/>
<circle cx="1134.3" cy="371.1" r="5.90" fill="#ff9999"/>
<circle cx="1147.6" cy="371.1" r="5.90" fill="#ff9e9e"/>
<circle cx="1160.9" cy="371.1" r="5.90" fill="#ffb2b2"/>
<circle cx="1174.1" cy="371.1" r="5.90" fill="#ffbaba"/>
<circle cx="1187.4" cy="371.1" r="5.90" fill="#fff0f0"/>
<circle cx="1200.6" cy="371.1" r="5.90" fill="#fffafa"/>
<circle cx="1213.9" cy="371.1" r="5.90" fill="#e0e0ff"/>
<circle cx="1227.2" cy="371.1" r="5.90" fill="#d9d9ff"/>
<circle cx="1240.4" cy="371.1" r="5.90" fill="#b2b2ff"/>
<circle cx="1253.7" cy="371.1" r="5.90" fill="#a6a6ff"/>
<circle cx="1266.9" cy="371.1" r="5.90" fill="#9494ff"/>
<circle cx="1280.2" cy="371.1" r="5.90" fill="#9494ff"/>
<circle cx="1293.5" cy="371.1" r="5.90" fill="#9e9eff"/>
<circle cx="1306.7" cy="371.1" r="5.90" fill="#adadff"/>
<circle cx="1320.0" cy="371.1" r="5.90" fill="#bfbfff"/>
<circle cx="1333.2" cy="371.1" r="5.90" fill="#c7c7ff"/>
<circle cx="1346.5" cy="371.1" r="5.90" fill="#d9d9ff"/>
<circle cx="1359.8" cy="371.1" r="5.90" fill="#e6e6ff"/>
<circle cx="908.9" cy="381.6" r="5.90" fill="#7878ff"/>
<circle cx="922.2" cy="381.6" r="5.90" fill="#8787ff"/>
<circle cx="935.4" cy="381.6" r="5.90" fill="#9696ff"/>
<circle cx="948.7" cy="381.6" r="5.90" fill="#bfbfff"/>
<circle cx="962.0" cy="381.6" r="5.90" fill="#d6d6ff"/>
<circle cx="975.2" cy="381.6" r="5.90" fill="#ffe6e6"/>
<circle cx="988.5" cy="381.6" r="5.90" fill="#ffdbdb"/>
<circle cx="1001.7" cy="381.6" r="5.90" fill="#ffcccc"/>
<circle cx="1015.0" cy="381.6" r="5.90" fill="#ffbaba"/>
<circle cx="1028.3" cy="381.6" r="5.90" fill="#ffb9b9"/>
<circle cx="1041.5" cy="381.6" r="5.90" fill="#ffb8b8"/>
<circle cx="1054.8" cy="381.6" r="5.90" fill="#ffb6b6"/>
<circle cx="1068.0" cy="381.6" r="5.90" fill="#ffb5b5"/>
<circle cx="1081.3" cy="381.6" r="5.90" fill="#ffb4b4"/>
<circle cx="1094.6" cy="381.6" r="5.90" fill="#ffb2b2"/>
<circle cx="1107.8" cy="381.6" r="5.90" fill="#ffb0b0"/>
<circle cx="1121.1" cy="381.6" r="5.90" fill="#ffb2b2"/>
<circle cx="1134.3" cy="381.6" r="5.90" fill="#ffb8b8"/>
<circle cx="1147.6" cy="381.6" r="5.90" fill="#ffbfbf"/>
<circle cx="1160.9" cy="381.6" r="5.90" fill="#ffe0e0"/>
<circle cx="1174.1" cy="381.6" r="5.90" fill="#ffe6e6"/>
<circle cx="1187.4" cy="381.6" r="5.90" fill="#ebebff"/>
<circle cx="1200.6" cy="381.6" r="5.90" fill="#e0e0ff"/>
<circle cx="1213.9" cy="381.6" r="5.90" fill="#bfbfff"/>
<circle cx="1227.2" cy="381.6" r="5.90" fill="#adadff"/>
<circle cx="1240.4" cy="381.6" r="5.90" fill="#8c8cff"/>
<circle cx="1253.7" cy="381.6" r="5.90" fill="#8080ff"/>
<circle cx="1266.9" cy="381.6" r="5.90" fill="#7373ff"/>
<circle cx="1280.2" cy="381.6" r="5.90" fill="#7373ff"/>
<circle cx="1293.5" cy="381.6" r="5.90" fill="#8080ff"/>
<circle cx="1306.7" cy="381.6" r="5.90" fill="#9494ff"/>
<circle cx="1320.0" cy="381.6" r="5.90" fill="#a6a6ff"/>
<circle cx="1333.2" cy="381.6" r="5.90" fill="#b2b2ff"/>
<circle cx="1346.5" cy="381.6" r="5.90" fill="#c7c7ff"/>
<circle cx="1359.8" cy="381.6" r="5.90" fill="#d1d1ff"/>
<circle cx="1373.0" cy="381.6" r="5.90" fill="#e6e6ff"/>
<circle cx="908.9" cy="392.1" r="5.90" fill="#5959ff"/>
<circle cx="922.2" cy="392.1" r="5.90" fill="#6969ff"/>
<circle cx="935.4" cy="392.1" r="5.90" fill="#7373ff"/>
<circle cx="948.7" cy="392.1" r="5.90" fill="#9c9cff"/>
<circle cx="962.0" cy="392.1" r="5.90" fill="#b5b5ff"/>
<circle cx="975.2" cy="392.1" r="5.90" fill="#e0e0ff"/>
<circle cx="988.5" cy="392.1" r="5.90" fill="#fcfcff"/>
<circle cx="1001.7" cy="392.1" r="5.90" fill="#ffebeb"/>
<circle cx="1015.0" cy="392.1" r="5.90" fill="#ffdede"/>
<circle cx="1028.3" cy="392.1" r="5.90" fill="#ffdddd"/>
<circle cx="1041.5" cy="392.1" r="5.90" fill="#ffdbdb"/>
<circle cx="1054.8" cy="392.1" r="5.90" fill="#ffdbdb"/>
<circle cx="1068.0" cy="392.1" r="5.90" fill="#ffdada"/>
<circle cx="1081.3" cy="392.1" r="5.90" fill="#ffd9d9"/>
<circle cx="1094.6" cy="392.1" r="5.90" fill="#ffd9d9"/>
<circle cx="1107.8" cy="392.1" r="5.90" fill="#ffd6d6"/>
<circle cx="1121.1" cy="392.1" r="5.90" fill="#ffd9d9"/>
<circle cx="1134.3" cy="392.1" r="5.90" fill="#ffe0e0"/>
<circle cx="1147.6" cy="392.1" r="5.90" fill="#ffe6e6"/>
<circle cx="1160.9" cy="392.1" r="5.90" fill="#f7f7ff"/>
<circle cx="1174.1" cy="392.1" r="5.90" fill="#ebebff"/>
<circle cx="1187.4" cy="392.1" r="5.90" fill="#c7c7ff"/>
<circle cx="1200.6" cy="392.1" r="5.90" fill="#b2b2ff"/>
<circle cx="1213.9" cy="392.1" r="5.90" fill="#9999ff"/>
<circle cx="1227.2" cy="392.1" r="5.90" fill="#8080ff"/>
<circle cx="1240.4" cy="392.1" r="5.90" fill="#6666ff"/>
<circle cx="1253.7" cy="392.1" r="5.90" fill="#5959ff"/>
<circle cx="1266.9" cy="392.1" r="5.90" fill="#4d4dff"/>
<circle cx="1280.2" cy="392.1" r="5.90" fill="#4d4dff"/>
<circle cx="1293.5" cy="392.1" r="5.90" fill="#5959ff"/>
<circle cx="1306.7" cy="392.1" r="5.90" fill="#6b6bff"/>
<circle cx="1320.0" cy="392.1" r="5.90" fill="#8080ff"/>
<circle cx="1333.2" cy="392.1" r="5.90" fill="#9494ff"/>
<circle cx="1346.5" cy="392.1" r="5.90" fill="#a6a6ff"/>
<circle cx="1359.8" cy="392.1" r="5.90" fill="#b8b8ff"/>
<circle cx="1373.0" cy="392.1" r="5.90" fill="#ccccff"/>
<circle cx="1386.3" cy="392.1" r="5.90" fill="#e0e0ff"/>
<circle cx="908.9" cy="402.6" r="5.90" fill="#4545ff"/>
<circle cx="922.2" cy="402.6" r="5.90" fill="#5959ff"/>
<circle cx="935.4" cy="402.6" r="5.90" fill="#6363ff"/>
<circle cx="948.7" cy="402.6" r="5.90" fill="#8c8cff"/>
<circle cx="962.0" cy="402.6" r="5.90" fill="#a6a6ff"/>
<circle cx="975.2" cy="402.6" r="5.90" fill="#d1d1ff"/>
<circle cx="988.5" cy="402.6" r="5.90" fill="#e6e6ff"/>
<circle cx="1001.7" cy="402.6" r="5.90" fill="#fff2f2"/>
<circle cx="1015.0" cy="402.6" r="5.90" fill="#ffe6e6"/>
<circle cx="1028.3" cy="402.6" r="5.90" fill="#ffe3e3"/>
<circle cx="1041.5" cy="402.6" r="5.90" fill="#ffe0e0"/>
<circle cx="1054.8" cy="402.6" r="5.90" fill="#ffe1e1"/>
<circle cx="1068.0" cy="402.6" r="5.90" fill="#ffe2e2"/>
<circle cx="1081.3" cy="402.6" r="5.90" fill="#ffe2e2"/>
<circle cx="1094.6" cy="402.6" r="5.90" fill="#ffe3e3"/>
<circle cx="1107.8" cy="402.6" r="5.90" fill="#ffe6e6"/>
<circle cx="1121.1" cy="402.6" r="5.90" fill="#ffebeb"/>
<circle cx="1134.3" cy="402.6" r="5.90" fill="#fff2f2"/>
<circle cx="1147.6" cy="402.6" r="5.90" fill="#fff2f2"/>
<circle cx="1160.9" cy="402.6" r="5.90" fill="#e1e1ff"/>
<circle cx="1174.1" cy="402.6" r="5.90" fill="#d1d1ff"/>
<circle cx="1187.4" cy="402.6" r="5.90" fill="#b3b3ff"/>
<circle cx="1200.6" cy="402.6" r="5.90" fill="#aaaaff"/>
<circle cx="1213.9" cy="402.6" r="5.90" fill="#8a8aff"/>
<circle cx="1227.2" cy="402.6" r="5.90" fill="#8181ff"/>
<circle cx="1240.4" cy="402.6" r="5.90" fill="#6a6aff"/>
<circle cx="1253.7" cy="402.6" r="5.90" fill="#6565ff"/>
<circle cx="1266.9" cy="402.6" r="5.90" fill="#5151ff"/>
<circle cx="1280.2" cy="402.6" r="5.90" fill="#4747ff"/>
<circle cx="1293.5" cy="402.6" r="5.90" fill="#5353ff"/>
<circle cx="1306.7" cy="402.6" r="5.90" fill="#5c5cff"/>
<circle cx="1320.0" cy="402.6" r="5.90" fill="#6a6aff"/>
<circle cx="1333.2" cy="402.6" r="5.90" fill="#7373ff"/>
<circle cx="1346.5" cy="402.6" r="5.90" fill="#8a8aff"/>
<circle cx="1359.8" cy="402.6" r="5.90" fill="#9898ff"/>
<circle cx="1373.0" cy="402.6" r="5.90" fill="#aaaaff"/>
<circle cx="1386.3" cy="402.6" r="5.90" fill="#b6b6ff"/>
<circle cx="1399.5" cy="402.6" r="5.90" fill="#ebebff"/>
<circle cx="908.9" cy="413.1" r="5.90" fill="#3333ff"/>
<circle cx="922.2" cy="413.1" r="5.90" fill="#5252ff"/>
<circle cx="935.4" cy="413.1" r="5.90" fill="#6666ff"/>
<circle cx="948.7" cy="413.1" r="5.90" fill="#9494ff"/>
<circle cx="962.0" cy="413.1" r="5.90" fill="#b8b8ff"/>
<circle cx="975.2" cy="413.1" r="5.90" fill="#d9d9ff"/>
<circle cx="988.5" cy="413.1" r="5.90" fill="#ebebff"/>
<circle cx="1015.0" cy="413.1" r="5.90" fill="#fff2f2"/>
<circle cx="1028.3" cy="413.1" r="5.90" fill="#ffebeb"/>
<circle cx="1041.5" cy="413.1" r="5.90" fill="#ffe6e6"/>
<circle cx="1054.8" cy="413.1" r="5.90" fill="#ffe0e0"/>
<circle cx="1068.0" cy="413.1" r="5.90" fill="#ffe0e0"/>
<circle cx="1081.3" cy="413.1" r="5.90" fill="#ffe6e6"/>
<circle cx="1094.6" cy="413.1" r="5.90" fill="#ffe6e6"/>
<circle cx="1107.8" cy="413.1" r="5.90" fill="#ffebeb"/>
<circle cx="1121.1" cy="413.1" r="5.90" fill="#fff2f2"/>
<circle cx="1134.3" cy="413.1" r="5.90" fill="#fffafa"/>
<circle cx="1147.6" cy="413.1" r="5.90" fill="#f5f5ff"/>
<circle cx="1160.9" cy="413.1" r="5.90" fill="#e0e0ff"/>
<circle cx="1174.1" cy="413.1" r="5.90" fill="#d0d0ff"/>
<circle cx="1187.4" cy="413.1" r="5.90" fill="#b1b1ff"/>
<circle cx="1200.6" cy="413.1" r="5.90" fill="#a7a7ff"/>
<circle cx="1213.9" cy="413.1" r="5.90" fill="#8686ff"/>
<circle cx="1227.2" cy="413.1" r="5.90" fill="#7c7cff"/>
<circle cx="1240.4" cy="413.1" r="5.90" fill="#6565ff"/>
<circle cx="1253.7" cy="413.1" r="5.90" fill="#6060ff"/>
<circle cx="1266.9" cy="413.1" r="5.90" fill="#4b4bff"/>
<circle cx="1280.2" cy="413.1" r="5.90" fill="#4141ff"/>
<circle cx="1293.5" cy="413.1" r="5.90" fill="#4d4dff"/>
<circle cx="1306.7" cy="413.1" r="5.90" fill="#5757ff"/>
<circle cx="1320.0" cy="413.1" r="5.90" fill="#6565ff"/>
<circle cx="1333.2" cy="413.1" r="5.90" fill="#6e6eff"/>
<circle cx="1346.5" cy="413.1" r="5.90" fill="#8686ff"/>
<circle cx="1359.8" cy="413.1" r="5.90" fill="#9494ff"/>
<circle cx="1373.0" cy="413.1" r="5.90" fill="#a7a7ff"/>
<circle cx="1386.3" cy="413.1" r="5.90" fill="#b3b3ff"/>
<circle cx="1399.5" cy="413.1" r="5.90" fill="#e6e6ff"/>
<circle cx="1412.8" cy="413.1" r="5.90" fill="#fafaff"/>
<circle cx="908.9" cy="423.6" r="5.90" fill="#3333ff"/>
<circle cx="922.2" cy="423.6" r="5.90" fill="#5252ff"/>
<circle cx="935.4" cy="423.6" r="5.90" fill="#6666ff"/>
<circle cx="948.7" cy="423.6" r="5.90" fill="#9494ff"/>
<circle cx="962.0" cy="423.6" r="5.90" fill="#b8b8ff"/>
<circle cx="975.2" cy="423.6" r="5.90" fill="#d9d9ff"/>
<circle cx="988.5" cy="423.6" r="5.90" fill="#ebebff"/>
<circle cx="1001.7" cy="423.6" r="5.90" fill="#fafaff"/>
<circle cx="1015.0" cy="423.6" r="5.90" fill="#fffafa"/>
<circle cx="1028.3" cy="423.6" r="5.90" fill="#fff2f2"/>
<circle cx="1041.5" cy="423.6" r="5.90" fill="#ffebeb"/>
<circle cx="1054.8" cy="423.6" r="5.90" fill="#ffebeb"/>
<circle cx="1068.0" cy="423.6" r="5.90" fill="#ffebeb"/>
<circle cx="1081.3" cy="423.6" r="5.90" fill="#ffebeb"/>
<circle cx="1094.6" cy="423.6" r="5.90" fill="#ffebeb"/>
<circle cx="1107.8" cy="423.6" r="5.90" fill="#fff2f2"/>
<circle cx="1121.1" cy="423.6" r="5.90" fill="#fffafa"/>
<circle cx="1147.6" cy="423.6" r="5.90" fill="#f2f2ff"/>
<circle cx="1160.9" cy="423.6" r="5.90" fill="#e0e0ff"/>
<circle cx="1174.1" cy="423.6" r="5.90" fill="#cfcfff"/>
<circle cx="1187.4" cy="423.6" r="5.90" fill="#b0b0ff"/>
<circle cx="1200.6" cy="423.6" r="5.90" fill="#a6a6ff"/>
<circle cx="1213.9" cy="423.6" r="5.90" fill="#8585ff"/>
<circle cx="1227.2" cy="423.6" r="5.90" fill="#7b7bff"/>
<circle cx="1240.4" cy="423.6" r="5.90" fill="#6363ff"/>
<circle cx="1253.7" cy="423.6" r="5.90" fill="#5e5eff"/>
<circle cx="1266.9" cy="423.6" r="5.90" fill="#4949ff"/>
<circle cx="1280.2" cy="423.6" r="5.90" fill="#3f3fff"/>
<circle cx="1293.5" cy="423.6" r="5.90" fill="#4b4bff"/>
<circle cx="1306.7" cy="423.6" r="5.90" fill="#5555ff"/>
<circle cx="1320.0" cy="423.6" r="5.90" fill="#6363ff"/>
<circle cx="1333.2" cy="423.6" r="5.90" fill="#6d6dff"/>
<circle cx="1346.5" cy="423.6" r="5.90" fill="#8585ff"/>
<circle cx="1359.8" cy="423.6" r="5.90" fill="#9393ff"/>
<circle cx="1373.0" cy="423.6" r="5.90" fill="#a6a6ff"/>
<circle cx="1386.3" cy="423.6" r="5.90" fill="#b2b2ff"/>
<circle cx="1399.5" cy="423.6" r="5.90" fill="#e0e0ff"/>
<circle cx="1412.8" cy="423.6" r="5.90" fill="#f2f2ff"/>
<circle cx="908.9" cy="434.1" r="5.90" fill="#2e2eff"/>
<circle cx="922.2" cy="434.1" r="5.90" fill="#4d4dff"/>
<circle cx="935.4" cy="434.1" r="5.90" fill="#6666ff"/>
<circle cx="948.7" cy="434.1" r="5.90" fill="#9494ff"/>
<circle cx="962.0" cy="434.1" r="5.90" fill="#b8b8ff"/>
<circle cx="975.2" cy="434.1" r="5.90" fill="#d1d1ff"/>
<circle cx="988.5" cy="434.1" r="5.90" fill="#e6e6ff"/>
<circle cx="1001.7" cy="434.1" r="5.90" fill="#f2f2ff"/>
<circle cx="1015.0" cy="434.1" r="5.90" fill="#f2f2ff"/>
<circle cx="1028.3" cy="434.1" r="5.90" fill="#fffafa"/>
<circle cx="1041.5" cy="434.1" r="5.90" fill="#fff2f2"/>
<circle cx="1054.8" cy="434.1" r="5.90" fill="#fff0f0"/>
<circle cx="1068.0" cy="434.1" r="5.90" fill="#fff0f0"/>
<circle cx="1081.3" cy="434.1" r="5.90" fill="#fff0f0"/>
<circle cx="1094.6" cy="434.1" r="5.90" fill="#fff0f0"/>
<circle cx="1107.8" cy="434.1" r="5.90" fill="#fff7f7"/>
<circle cx="1134.3" cy="434.1" r="5.90" fill="#f7f7ff"/>
<circle cx="1147.6" cy="434.1" r="5.90" fill="#f0f0ff"/>
<circle cx="1160.9" cy="434.1" r="5.90" fill="#e0e0ff"/>
<circle cx="1174.1" cy="434.1" r="5.90" fill="#cfcfff"/>
<circle cx="1187.4" cy="434.1" r="5.90" fill="#afafff"/>
<circle cx="1200.6" cy="434.1" r="5.90" fill="#a5a5ff"/>
<circle cx="1213.9" cy="434.1" r="5.90" fill="#8484ff"/>
<circle cx="1227.2" cy="434.1" r="5.90" fill="#7a7aff"/>
<circle cx="1240.4" cy="434.1" r="5.90" fill="#6262ff"/>
<circle cx="1253.7" cy="434.1" r="5.90" fill="#5d5dff"/>
<circle cx="1266.9" cy="434.1" r="5.90" fill="#4747ff"/>
<circle cx="1280.2" cy="434.1" r="5.90" fill="#3d3dff"/>
<circle cx="1293.5" cy="434.1" r="5.90" fill="#4949ff"/>
<circle cx="1306.7" cy="434.1" r="5.90" fill="#5353ff"/>
<circle cx="1320.0" cy="434.1" r="5.90" fill="#6262ff"/>
<circle cx="1333.2" cy="434.1" r="5.90" fill="#6b6bff"/>
<circle cx="1346.5" cy="434.1" r="5.90" fill="#8484ff"/>
<circle cx="1359.8" cy="434.1" r="5.90" fill="#9292ff"/>
<circle cx="1373.0" cy="434.1" r="5.90" fill="#a5a5ff"/>
<circle cx="1386.3" cy="434.1" r="5.90" fill="#b1b1ff"/>
<circle cx="1399.5" cy="434.1" r="5.90" fill="#e0e0ff"/>
<circle cx="1412.8" cy="434.1" r="5.90" fill="#f2f2ff"/>
<circle cx="1426.1" cy="434.1" r="5.90" fill="#f2f2ff"/>
<circle cx="1439.3" cy="434.1" r="5.90" fill="#f2f2ff"/>
<circle cx="908.9" cy="444.6" r="5.90" fill="#2e2eff"/>
<circle cx="922.2" cy="444.6" r="5.90" fill="#4d4dff"/>
<circle cx="935.4" cy="444.6" r="5.90" fill="#6161ff"/>
<circle cx="948.7" cy="444.6" r="5.90" fill="#8c8cff"/>
<circle cx="962.0" cy="444.6" r="5.90" fill="#b2b2ff"/>
<circle cx="975.2" cy="444.6" r="5.90" fill="#ccccff"/>
<circle cx="988.5" cy="444.6" r="5.90" fill="#e0e0ff"/>
<circle cx="1001.7" cy="444.6" r="5.90" fill="#f2f2ff"/>
<circle cx="1015.0" cy="444.6" r="5.90" fill="#f2f2ff"/>
<circle cx="1028.3" cy="444.6" r="5.90" fill="#fffafa"/>
<circle cx="1041.5" cy="444.6" r="5.90" fill="#fff2f2"/>
<circle cx="1054.8" cy="444.6" r="5.90" fill="#fff0f0"/>
<circle cx="1068.0" cy="444.6" r="5.90" fill="#fff0f0"/>
<circle cx="1081.3" cy="444.6" r="5.90" fill="#fff0f0"/>
<circle cx="1094.6" cy="444.6" r="5.90" fill="#fff0f0"/>
<circle cx="1107.8" cy="444.6" r="5.90" fill="#fff7f7"/>
<circle cx="1134.3" cy="444.6" r="5.90" fill="#f2f2ff"/>
<circle cx="1147.6" cy="444.6" r="5.90" fill="#ebebff"/>
<circle cx="1160.9" cy="444.6" r="5.90" fill="#e0e0ff"/>
<circle cx="1174.1" cy="444.6" r="5.90" fill="#cfcfff"/>
<circle cx="1187.4" cy="444.6" r="5.90" fill="#afafff"/>
<circle cx="1200.6" cy="444.6" r="5.90" fill="#a5a5ff"/>
<circle cx="1213.9" cy="444.6" r="5.90" fill="#8484ff"/>
<circle cx="1227.2" cy="444.6" r="5.90" fill="#7a7aff"/>
<circle cx="1240.4" cy="444.6" r="5.90" fill="#6262ff"/>
<circle cx="1253.7" cy="444.6" r="5.90" fill="#5d5dff"/>
<circle cx="1266.9" cy="444.6" r="5.90" fill="#4747ff"/>
<circle cx="1280.2" cy="444.6" r="5.90" fill="#3d3dff"/>
<circle cx="1293.5" cy="444.6" r="5.90" fill="#4949ff"/>
<circle cx="1306.7" cy="444.6" r="5.90" fill="#5353ff"/>
<circle cx="1320.0" cy="444.6" r="5.90" fill="#6262ff"/>
<circle cx="1333.2" cy="444.6" r="5.90" fill="#6b6bff"/>
<circle cx="1346.5" cy="444.6" r="5.90" fill="#8484ff"/>
<circle cx="1359.8" cy="444.6" r="5.90" fill="#9292ff"/>
<circle cx="1373.0" cy="444.6" r="5.90" fill="#a5a5ff"/>
<circle cx="1386.3" cy="444.6" r="5.90" fill="#b1b1ff"/>
<circle cx="1399.5" cy="444.6" r="5.90" fill="#e0e0ff"/>
<circle cx="1412.8" cy="444.6" r="5.90" fill="#f2f2ff"/>
<circle cx="1426.1" cy="444.6" r="5.90" fill="#f2f2ff"/>
<circle cx="1439.3" cy="444.6" r="5.90" fill="#f2f2ff"/>
<circle cx="1452.6" cy="444.6" r="5.90" fill="#fafaff"/>
<circle cx="908.9" cy="455.1" r="5.90" fill="#2e2eff"/>
<circle cx="922.2" cy="455.1" r="5.90" fill="#4747ff"/>
<circle cx="935.4" cy="455.1" r="5.90" fill="#6161ff"/>
<circle cx="948.7" cy="455.1" r="5.90" fill="#8c8cff"/>
<circle cx="962.0" cy="455.1" r="5.90" fill="#b2b2ff"/>
<circle cx="975.2" cy="455.1" r="5.90" fill="#ccccff"/>
<circle cx="988.5" cy="455.1" r="5.90" fill="#e0e0ff"/>
<circle cx="1001.7" cy="455.1" r="5.90" fill="#f2f2ff"/>
<circle cx="1015.0" cy="455.1" r="5.90" fill="#ededff"/>
<circle cx="1041.5" cy="455.1" r="5.90" fill="#fffafa"/>
<circle cx="1054.8" cy="455.1" r="5.90" fill="#fff7f7"/>
<circle cx="1068.0" cy="455.1" r="5.90" fill="#fff7f7"/>
<circle cx="1081.3" cy="455.1" r="5.90" fill="#fff7f7"/>
<circle cx="1094.6" cy="455.1" r="5.90" fill="#fff7f7"/>
<circle cx="1107.8" cy="455.1" r="5.90" fill="#fff7f7"/>
<circle cx="1134.3" cy="455.1" r="5.90" fill="#f2f2ff"/>
<circle cx="1147.6" cy="455.1" r="5.90" fill="#ebebff"/>
<circle cx="1160.9" cy="455.1" r="5.90" fill="#e0e0ff"/>
<circle cx="1174.1" cy="455.1" r="5.90" fill="#cfcfff"/>
<circle cx="1187.4" cy="455.1" r="5.90" fill="#afafff"/>
<circle cx="1200.6" cy="455.1" r="5.90" fill="#a5a5ff"/>
<circle cx="1213.9" cy="455.1" r="5.90" fill="#8484ff"/>
<circle cx="1227.2" cy="455.1" r="5.90" fill="#7a7aff"/>
<circle cx="1240.4" cy="455.1" r="5.90" fill="#6262ff"/>
<circle cx="1253.7" cy="455.1" r="5.90" fill="#5d5dff"/>
<circle cx="1266.9" cy="455.1" r="5.90" fill="#4747ff"/>
<circle cx="1280.2" cy="455.1" r="5.90" fill="#3d3dff"/>
<circle cx="1293.5" cy="455.1" r="5.90" fill="#4949ff"/>
<circle cx="1306.7" cy="455.1" r="5.90" fill="#5353ff"/>
<circle cx="1320.0" cy="455.1" r="5.90" fill="#6262ff"/>
<circle cx="1333.2" cy="455.1" r="5.90" fill="#6b6bff"/>
<circle cx="1346.5" cy="455.1" r="5.90" fill="#8484ff"/>
<circle cx="1359.8" cy="455.1" r="5.90" fill="#9292ff"/>
<circle cx="1373.0" cy="455.1" r="5.90" fill="#a5a5ff"/>
<circle cx="1386.3" cy="455.1" r="5.90" fill="#b1b1ff"/>
<circle cx="1399.5" cy="455.1" r="5.90" fill="#e0e0ff"/>
<circle cx="1412.8" cy="455.1" r="5.90" fill="#ebebff"/>
<circle cx="1426.1" cy="455.1" r="5.90" fill="#f2f2ff"/>
<circle cx="1439.3" cy="455.1" r="5.90" fill="#f2f2ff"/>
<circle cx="1452.6" cy="455.1" r="5.90" fill="#f7f7ff"/>
<circle cx="1465.8" cy="455.1" r="5.90" fill="#f7f7ff"/>
<circle cx="908.9" cy="465.5" r="5.90" fill="#2e2eff"/>
<circle cx="922.2" cy="465.5" r="5.90" fill="#4d4dff"/>
<circle cx="935.4" cy="465.5" r="5.90" fill="#6161ff"/>
<circle cx="948.7" cy="465.5" r="5.90" fill="#8c8cff"/>
<circle cx="962.0" cy="465.5" r="5.90" fill="#b2b2ff"/>
<circle cx="975.2" cy="465.5" r="5.90" fill="#ccccff"/>
<circle cx="988.5" cy="465.5" r="5.90" fill="#e0e0ff"/>
<circle cx="1001.7" cy="465.5" r="5.90" fill="#f2f2ff"/>
<circle cx="1015.0" cy="465.5" r="5.90" fill="#ededff"/>
<circle cx="1041.5" cy="465.5" r="5.90" fill="#fffafa"/>
<circle cx="1054.8" cy="465.5" r="5.90" fill="#fff7f7"/>
<circle cx="1068.0" cy="465.5" r="5.90" fill="#fff7f7"/>
<circle cx="1081.3" cy="465.5" r="5.90" fill="#fff7f7"/>
<circle cx="1094.6" cy="465.5" r="5.90" fill="#fff7f7"/>
<circle cx="1107.8" cy="465.5" r="5.90" fill="#fff7f7"/>
<circle cx="1134.3" cy="465.5" r="5.90" fill="#f7f7ff"/>
<circle cx="1147.6" cy="465.5" r="5.90" fill="#f2f2ff"/>
<circle cx="1160.9" cy="465.5" r="5.90" fill="#dfdfff"/>
<circle cx="1174.1" cy="465.5" r="5.90" fill="#ceceff"/>
<circle cx="1187.4" cy="465.5" r="5.90" fill="#aeaeff"/>
<circle cx="1200.6" cy="465.5" r="5.90" fill="#a4a4ff"/>
<circle cx="1213.9" cy="465.5" r="5.90" fill="#8282ff"/>
<circle cx="1227.2" cy="465.5" r="5.90" fill="#7878ff"/>
<circle cx="1240.4" cy="465.5" r="5.90" fill="#6060ff"/>
<circle cx="1253.7" cy="465.5" r="5.90" fill="#5b5bff"/>
<circle cx="1266.9" cy="465.5" r="5.90" fill="#4545ff"/>
<circle cx="1280.2" cy="465.5" r="5.90" fill="#3b3bff"/>
<circle cx="1293.5" cy="465.5" r="5.90" fill="#4747ff"/>
<circle cx="1306.7" cy="465.5" r="5.90" fill="#5151ff"/>
<circle cx="1320.0" cy="465.5" r="5.90" fill="#6060ff"/>
<circle cx="1333.2" cy="465.5" r="5.90" fill="#6a6aff"/>
<circle cx="1346.5" cy="465.5" r="5.90" fill="#8282ff"/>
<circle cx="1359.8" cy="465.5" r="5.90" fill="#9191ff"/>
<circle cx="1373.0" cy="465.5" r="5.90" fill="#a4a4ff"/>
<circle cx="1386.3" cy="465.5" r="5.90" fill="#b1b1ff"/>
<circle cx="1399.5" cy="465.5" r="5.90" fill="#e0e0ff"/>
<circle cx="1412.8" cy="465.5" r="5.90" fill="#f2f2ff"/>
<circle cx="1426.1" cy="465.5" r="5.90" fill="#f2f2ff"/>
<circle cx="1439.3" cy="465.5" r="5.90" fill="#f2f2ff"/>
<circle cx="1452.6" cy="465.5" r="5.90" fill="#fafaff"/>
<circle cx="1465.8" cy="465.5" r="5.90" fill="#fafaff"/>
<circle cx="1479.1" cy="465.5" r="5.90" fill="#fffafa"/>
<circle cx="908.9" cy="476.0" r="5.90" fill="#3333ff"/>
<circle cx="922.2" cy="476.0" r="5.90" fill="#4d4dff"/>
<circle cx="935.4" cy="476.0" r="5.90" fill="#6666ff"/>
<circle cx="948.7" cy="476.0" r="5.90" fill="#9494ff"/>
<circle cx="962.0" cy="476.0" r="5.90" fill="#b8b8ff"/>
<circle cx="975.2" cy="476.0" r="5.90" fill="#d1d1ff"/>
<circle cx="988.5" cy="476.0" r="5.90" fill="#e0e0ff"/>
<circle cx="1001.7" cy="476.0" r="5.90" fill="#f2f2ff"/>
<circle cx="1015.0" cy="476.0" r="5.90" fill="#f7f7ff"/>
<circle cx="1028.3" cy="476.0" r="5.90" fill="#fff2f2"/>
<circle cx="1041.5" cy="476.0" r="5.90" fill="#ffe6e6"/>
<circle cx="1054.8" cy="476.0" r="5.90" fill="#ffe6e6"/>
<circle cx="1068.0" cy="476.0" r="5.90" fill="#ffe6e6"/>
<circle cx="1081.3" cy="476.0" r="5.90" fill="#ffe6e6"/>
<circle cx="1094.6" cy="476.0" r="5.90" fill="#ffe6e6"/>
<circle cx="1107.8" cy="476.0" r="5.90" fill="#fffafa"/>
<circle cx="1134.3" cy="476.0" r="5.90" fill="#f2f2ff"/>
<circle cx="1147.6" cy="476.0" r="5.90" fill="#ebebff"/>
<circle cx="1160.9" cy="476.0" r="5.90" fill="#dfdfff"/>
<circle cx="1174.1" cy="476.0" r="5.90" fill="#cdcdff"/>
<circle cx="1187.4" cy="476.0" r="5.90" fill="#adadff"/>
<circle cx="1200.6" cy="476.0" r="5.90" fill="#a2a2ff"/>
<circle cx="1213.9" cy="476.0" r="5.90" fill="#8080ff"/>
<circle cx="1227.2" cy="476.0" r="5.90" fill="#7676ff"/>
<circle cx="1240.4" cy="476.0" r="5.90" fill="#5d5dff"/>
<circle cx="1253.7" cy="476.0" r="5.90" fill="#5757ff"/>
<circle cx="1266.9" cy="476.0" r="5.90" fill="#4141ff"/>
<circle cx="1280.2" cy="476.0" r="5.90" fill="#3737ff"/>
<circle cx="1293.5" cy="476.0" r="5.90" fill="#4444ff"/>
<circle cx="1306.7" cy="476.0" r="5.90" fill="#4e4eff"/>
<circle cx="1320.0" cy="476.0" r="5.90" fill="#5d5dff"/>
<circle cx="1333.2" cy="476.0" r="5.90" fill="#6767ff"/>
<circle cx="1346.5" cy="476.0" r="5.90" fill="#8080ff"/>
<circle cx="1359.8" cy="476.0" r="5.90" fill="#8f8fff"/>
<circle cx="1373.0" cy="476.0" r="5.90" fill="#a2a2ff"/>
<circle cx="1386.3" cy="476.0" r="5.90" fill="#afafff"/>
<circle cx="1399.5" cy="476.0" r="5.90" fill="#e0e0ff"/>
<circle cx="1412.8" cy="476.0" r="5.90" fill="#f2f2ff"/>
<circle cx="1426.1" cy="476.0" r="5.90" fill="#f2f2ff"/>
<circle cx="1439.3" cy="476.0" r="5.90" fill="#f2f2ff"/>
<circle cx="1479.1" cy="476.0" r="5.90" fill="#fff7f7"/>
<circle cx="1492.4" cy="476.0" r="5.90" fill="#fff7f7"/>
<circle cx="908.9" cy="486.5" r="5.90" fill="#3333ff"/>
<circle cx="922.2" cy="486.5" r="5.90" fill="#4d4dff"/>
<circle cx="935.4" cy="486.5" r="5.90" fill="#6666ff"/>
<circle cx="948.7" cy="486.5" r="5.90" fill="#9494ff"/>
<circle cx="962.0" cy="486.5" r="5.90" fill="#b8b8ff"/>
<circle cx="975.2" cy="486.5" r="5.90" fill="#ccccff"/>
<circle cx="988.5" cy="486.5" r="5.90" fill="#e0e0ff"/>
<circle cx="1001.7" cy="486.5" r="5.90" fill="#ebebff"/>
<circle cx="1015.0" cy="486.5" r="5.90" fill="#e6e6ff"/>
<circle cx="1028.3" cy="486.5" r="5.90" fill="#f2f2ff"/>
<circle cx="1054.8" cy="486.5" r="5.90" fill="#fff7f7"/>
<circle cx="1068.0" cy="486.5" r="5.90" fill="#fff7f7"/>
<circle cx="1081.3" cy="486.5" r="5.90" fill="#fff7f7"/>
<circle cx="1094.6" cy="486.5" r="5.90" fill="#fff7f7"/>
<circle cx="1107.8" cy="486.5" r="5.90" fill="#fafaff"/>
<circle cx="1121.1" cy="486.5" r="5.90" fill="#f7f7ff"/>
<circle cx="1134.3" cy="486.5" r="5.90" fill="#ebebff"/>
<circle cx="1147.6" cy="486.5" r="5.90" fill="#e6e6ff"/>
<circle cx="1160.9" cy="486.5" r="5.90" fill="#dedeff"/>
<circle cx="1174.1" cy="486.5" r="5.90" fill="#ccccff"/>
<circle cx="1187.4" cy="486.5" r="5.90" fill="#ababff"/>
<circle cx="1200.6" cy="486.5" r="5.90" fill="#a1a1ff"/>
<circle cx="1213.9" cy="486.5" r="5.90" fill="#7d7dff"/>
<circle cx="1227.2" cy="486.5" r="5.90" fill="#7373ff"/>
<circle cx="1240.4" cy="486.5" r="5.90" fill="#5959ff"/>
<circle cx="1253.7" cy="486.5" r="5.90" fill="#5454ff"/>
<circle cx="1266.9" cy="486.5" r="5.90" fill="#3d3dff"/>
<circle cx="1280.2" cy="486.5" r="5.90" fill="#3333ff"/>
<circle cx="1293.5" cy="486.5" r="5.90" fill="#4040ff"/>
<circle cx="1306.7" cy="486.5" r="5.90" fill="#4a4aff"/>
<circle cx="1320.0" cy="486.5" r="5.90" fill="#5959ff"/>
<circle cx="1333.2" cy="486.5" r="5.90" fill="#6363ff"/>
<circle cx="1346.5" cy="486.5" r="5.90" fill="#7d7dff"/>
<circle cx="1359.8" cy="486.5" r="5.90" fill="#8c8cff"/>
<circle cx="1373.0" cy="486.5" r="5.90" fill="#a1a1ff"/>
<circle cx="1386.3" cy="486.5" r="5.90" fill="#adadff"/>
<circle cx="1399.5" cy="486.5" r="5.90" fill="#e0e0ff"/>
<circle cx="1412.8" cy="486.5" r="5.90" fill="#ebebff"/>
<circle cx="1426.1" cy="486.5" r="5.90" fill="#f2f2ff"/>
<circle cx="1439.3" cy="486.5" r="5.90" fill="#ebebff"/>
<circle cx="1452.6" cy="486.5" r="5.90" fill="#f2f2ff"/>
<circle cx="1465.8" cy="486.5" r="5.90" fill="#f2f2ff"/>
<circle cx="1479.1" cy="486.5" r="5.90" fill="#fafaff"/>
<circle cx="1492.4" cy="486.5" r="5.90" fill="#fafaff"/>
<circle cx="1505.6" cy="486.5" r="5.90" fill="#fafaff"/>
<circle cx="908.9" cy="497.0" r="5.90" fill="#2e2eff"/>
<circle cx="922.2" cy="497.0" r="5.90" fill="#4747ff"/>
<circle cx="935.4" cy="497.0" r="5.90" fill="#6666ff"/>
<circle cx="948.7" cy="497.0" r="5.90" fill="#9494ff"/>
<circle cx="962.0" cy="497.0" r="5.90" fill="#b2b2ff"/>
<circle cx="975.2" cy="497.0" r="5.90" fill="#c7c7ff"/>
<circle cx="988.5" cy="497.0" r="5.90" fill="#d9d9ff"/>
<circle cx="1001.7" cy="497.0" r="5.90" fill="#e6e6ff"/>
<circle cx="1015.0" cy="497.0" r="5.90" fill="#e8e8ff"/>
<circle cx="1028.3" cy="497.0" r="5.90" fill="#f2f2ff"/>
<circle cx="1054.8" cy="497.0" r="5.90" fill="#fffafa"/>
<circle cx="1068.0" cy="497.0" r="5.90" fill="#fffafa"/>
<circle cx="1081.3" cy="497.0" r="5.90" fill="#fffafa"/>
<circle cx="1094.6" cy="497.0" r="5.90" fill="#fffafa"/>
<circle cx="1107.8" cy="497.0" r="5.90" fill="#f2f2ff"/>
<circle cx="1121.1" cy="497.0" r="5.90" fill="#f2f2ff"/>
<circle cx="1134.3" cy="497.0" r="5.90" fill="#e6e6ff"/>
<circle cx="1147.6" cy="497.0" r="5.90" fill="#e0e0ff"/>
<circle cx="1160.9" cy="497.0" r="5.90" fill="#dedeff"/>
<circle cx="1174.1" cy="497.0" r="5.90" fill="#ccccff"/>
<circle cx="1187.4" cy="497.0" r="5.90" fill="#ababff"/>
<circle cx="1200.6" cy="497.0" r="5.90" fill="#a1a1ff"/>
<circle cx="1213.9" cy="497.0" r="5.90" fill="#7d7dff"/>
<circle cx="1227.2" cy="497.0" r="5.90" fill="#7373ff"/>
<circle cx="1240.4" cy="497.0" r="5.90" fill="#5959ff"/>
<circle cx="1253.7" cy="497.0" r="5.90" fill="#5454ff"/>
<circle cx="1266.9" cy="497.0" r="5.90" fill="#3d3dff"/>
<circle cx="1280.2" cy="497.0" r="5.90" fill="#3333ff"/>
<circle cx="1293.5" cy="497.0" r="5.90" fill="#4040ff"/>
<circle cx="1306.7" cy="497.0" r="5.90" fill="#4a4aff"/>
<circle cx="1320.0" cy="497.0" r="5.90" fill="#5959ff"/>
<circle cx="1333.2" cy="497.0" r="5.90" fill="#6363ff"/>
<circle cx="1346.5" cy="497.0" r="5.90" fill="#7d7dff"/>
<circle cx="1359.8" cy="497.0" r="5.90" fill="#8c8cff"/>
<circle cx="1373.0" cy="497.0" r="5.90" fill="#a1a1ff"/>
<circle cx="1386.3" cy="497.0" r="5.90" fill="#adadff"/>
<circle cx="1399.5" cy="497.0" r="5.90" fill="#d9d9ff"/>
<circle cx="1412.8" cy="497.0" r="5.90" fill="#ebebff"/>
<circle cx="1426.1" cy="497.0" r="5.90" fill="#ebebff"/>
<circle cx="1439.3" cy="497.0" r="5.90" fill="#ebebff"/>
<circle cx="1452.6" cy="497.0" r="5.90" fill="#f2f2ff"/>
<circle cx="1465.8" cy="497.0" r="5.90" fill="#f2f2ff"/>
<circle cx="1479.1" cy="497.0" r="5.90" fill="#f7f7ff"/>
<circle cx="1492.4" cy="497.0" r="5.90" fill="#f7f7ff"/>
<circle cx="1505.6" cy="497.0" r="5.90" fill="#f7f7ff"/>
<circle cx="908.9" cy="507.5" r="5.90" fill="#2626ff"/>
<circle cx="922.2" cy="507.5" r="5.90" fill="#4040ff"/>
<circle cx="935.4" cy="507.5" r="5.90" fill="#5959ff"/>
<circle cx="948.7" cy="507.5" r="5.90" fill="#8c8cff"/>
<circle cx="962.0" cy="507.5" r="5.90" fill="#a6a6ff"/>
<circle cx="975.2" cy="507.5" r="5.90" fill="#bfbfff"/>
<circle cx="988.5" cy="507.5" r="5.90" fill="#ccccff"/>
<circle cx="1001.7" cy="507.5" r="5.90" fill="#d9d9ff"/>
<circle cx="1015.0" cy="507.5" r="5.90" fill="#d6d6ff"/>
<circle cx="1028.3" cy="507.5" r="5.90" fill="#dedeff"/>
<circle cx="1041.5" cy="507.5" r="5.90" fill="#e6e6ff"/>
<circle cx="1054.8" cy="507.5" r="5.90" fill="#ededff"/>
<circle cx="1068.0" cy="507.5" r="5.90" fill="#eeeeff"/>
<circle cx="1081.3" cy="507.5" r="5.90" fill="#efefff"/>
<circle cx="1094.6" cy="507.5" r="5.90" fill="#f0f0ff"/>
<circle cx="1107.8" cy="507.5" r="5.90" fill="#e6e6ff"/>
<circle cx="1121.1" cy="507.5" r="5.90" fill="#e6e6ff"/>
<circle cx="1134.3" cy="507.5" r="5.90" fill="#d9d9ff"/>
<circle cx="1147.6" cy="507.5" r="5.90" fill="#d9d9ff"/>
<circle cx="1160.9" cy="507.5" r="5.90" fill="#dcdcff"/>
<circle cx="1174.1" cy="507.5" r="5.90" fill="#c9c9ff"/>
<circle cx="1187.4" cy="507.5" r="5.90" fill="#a6a6ff"/>
<circle cx="1200.6" cy="507.5" r="5.90" fill="#9b9bff"/>
<circle cx="1213.9" cy="507.5" r="5.90" fill="#7575ff"/>
<circle cx="1227.2" cy="507.5" r="5.90" fill="#6a6aff"/>
<circle cx="1240.4" cy="507.5" r="5.90" fill="#4f4fff"/>
<circle cx="1253.7" cy="507.5" r="5.90" fill="#4a4aff"/>
<circle cx="1266.9" cy="507.5" r="5.90" fill="#3131ff"/>
<circle cx="1280.2" cy="507.5" r="5.90" fill="#2727ff"/>
<circle cx="1293.5" cy="507.5" r="5.90" fill="#3434ff"/>
<circle cx="1306.7" cy="507.5" r="5.90" fill="#3f3fff"/>
<circle cx="1320.0" cy="507.5" r="5.90" fill="#4f4fff"/>
<circle cx="1333.2" cy="507.5" r="5.90" fill="#5a5aff"/>
<circle cx="1346.5" cy="507.5" r="5.90" fill="#7575ff"/>
<circle cx="1359.8" cy="507.5" r="5.90" fill="#8585ff"/>
<circle cx="1373.0" cy="507.5" r="5.90" fill="#9b9bff"/>
<circle cx="1386.3" cy="507.5" r="5.90" fill="#a9a9ff"/>
<circle cx="1399.5" cy="507.5" r="5.90" fill="#ccccff"/>
<circle cx="1412.8" cy="507.5" r="5.90" fill="#d9d9ff"/>
<circle cx="1426.1" cy="507.5" r="5.90" fill="#d9d9ff"/>
<circle cx="1439.3" cy="507.5" r="5.90" fill="#d9d9ff"/>
<circle cx="1452.6" cy="507.5" r="5.90" fill="#e0e0ff"/>
<circle cx="1465.8" cy="507.5" r="5.90" fill="#e0e0ff"/>
<circle cx="1479.1" cy="507.5" r="5.90" fill="#e6e6ff"/>
<circle cx="1492.4" cy="507.5" r="5.90" fill="#e6e6ff"/>
<circle cx="1505.6" cy="507.5" r="5.90" fill="#e6e6ff"/>
<circle cx="1518.9" cy="507.5" r="5.90" fill="#ebebff"/>
<circle cx="1532.1" cy="507.5" r="5.90" fill="#ebebff"/>
<circle cx="908.9" cy="518.0" r="5.90" fill="#3838ff"/>
<circle cx="922.2" cy="518.0" r="5.90" fill="#5252ff"/>
<circle cx="935.4" cy="518.0" r="5.90" fill="#6b6bff"/>
<circle cx="948.7" cy="518.0" r="5.90" fill="#9999ff"/>
<circle cx="962.0" cy="518.0" r="5.90" fill="#bfbfff"/>
<circle cx="975.2" cy="518.0" r="5.90" fill="#e0e0ff"/>
<circle cx="988.5" cy="518.0" r="5.90" fill="#f2f2ff"/>
<circle cx="1015.0" cy="518.0" r="5.90" fill="#e6e6ff"/>
<circle cx="1028.3" cy="518.0" r="5.90" fill="#f2f2ff"/>
<circle cx="1041.5" cy="518.0" r="5.90" fill="#fafaff"/>
<circle cx="1107.8" cy="518.0" r="5.90" fill="#fffafa"/>
<circle cx="1134.3" cy="518.0" r="5.90" fill="#f2f2ff"/>
<circle cx="1147.6" cy="518.0" r="5.90" fill="#ebebff"/>
<circle cx="1160.9" cy="518.0" r="5.90" fill="#dfdfff"/>
<circle cx="1174.1" cy="518.0" r="5.90" fill="#ceceff"/>
<circle cx="1187.4" cy="518.0" r="5.90" fill="#adadff"/>
<circle cx="1200.6" cy="518.0" r="5.90" fill="#a3a3ff"/>
<circle cx="1213.9" cy="518.0" r="5.90" fill="#8181ff"/>
<circle cx="1227.2" cy="518.0" r="5.90" fill="#7777ff"/>
<circle cx="1240.4" cy="518.0" r="5.90" fill="#5e5eff"/>
<circle cx="1253.7" cy="518.0" r="5.90" fill="#5959ff"/>
<circle cx="1266.9" cy="518.0" r="5.90" fill="#4343ff"/>
<circle cx="1280.2" cy="518.0" r="5.90" fill="#3939ff"/>
<circle cx="1293.5" cy="518.0" r="5.90" fill="#4545ff"/>
<circle cx="1306.7" cy="518.0" r="5.90" fill="#4f4fff"/>
<circle cx="1320.0" cy="518.0" r="5.90" fill="#5e5eff"/>
<circle cx="1333.2" cy="518.0" r="5.90" fill="#6868ff"/>
<circle cx="1346.5" cy="518.0" r="5.90" fill="#8181ff"/>
<circle cx="1359.8" cy="518.0" r="5.90" fill="#9090ff"/>
<circle cx="1373.0" cy="518.0" r="5.90" fill="#a3a3ff"/>
<circle cx="1386.3" cy="518.0" r="5.90" fill="#b0b0ff"/>
<circle cx="1399.5" cy="518.0" r="5.90" fill="#d9d9ff"/>
<circle cx="1412.8" cy="518.0" r="5.90" fill="#ebebff"/>
<circle cx="1426.1" cy="518.0" r="5.90" fill="#f2f2ff"/>
<circle cx="1439.3" cy="518.0" r="5.90" fill="#f2f2ff"/>
<circle cx="1452.6" cy="518.0" r="5.90" fill="#fafaff"/>
<circle cx="1545.4" cy="518.0" r="5.90" fill="#fff2f2"/>
<circle cx="908.9" cy="528.5" r="5.90" fill="#4040ff"/>
<circle cx="922.2" cy="528.5" r="5.90" fill="#5959ff"/>
<circle cx="935.4" cy="528.5" r="5.90" fill="#7373ff"/>
<circle cx="948.7" cy="528.5" r="5.90" fill="#9e9eff"/>
<circle cx="962.0" cy="528.5" r="5.90" fill="#c7c7ff"/>
<circle cx="975.2" cy="528.5" r="5.90" fill="#e6e6ff"/>
<circle cx="988.5" cy="528.5" r="5.90" fill="#fafaff"/>
<circle cx="1001.7" cy="528.5" r="5.90" fill="#fff7f7"/>
<circle cx="1015.0" cy="528.5" r="5.90" fill="#fffafa"/>
<circle cx="1028.3" cy="528.5" r="5.90" fill="#fff0f0"/>
<circle cx="1041.5" cy="528.5" r="5.90" fill="#ffe6e6"/>
<circle cx="1054.8" cy="528.5" r="5.90" fill="#ffe6e6"/>
<circle cx="1068.0" cy="528.5" r="5.90" fill="#ffe6e6"/>
<circle cx="1081.3" cy="528.5" r="5.90" fill="#ffe6e6"/>
<circle cx="1094.6" cy="528.5" r="5.90" fill="#ffe6e6"/>
<circle cx="1107.8" cy="528.5" r="5.90" fill="#ffe6e6"/>
<circle cx="1121.1" cy="528.5" r="5.90" fill="#ffebeb"/>
<circle cx="1134.3" cy="528.5" r="5.90" fill="#fffafa"/>
<circle cx="1147.6" cy="528.5" r="5.90" fill="#fafaff"/>
<circle cx="1160.9" cy="528.5" r="5.90" fill="#e0e0ff"/>
<circle cx="1174.1" cy="528.5" r="5.90" fill="#d0d0ff"/>
<circle cx="1187.4" cy="528.5" r="5.90" fill="#b1b1ff"/>
<circle cx="1200.6" cy="528.5" r="5.90" fill="#a7a7ff"/>
<circle cx="1213.9" cy="528.5" r="5.90" fill="#8686ff"/>
<circle cx="1227.2" cy="528.5" r="5.90" fill="#7c7cff"/>
<circle cx="1240.4" cy="528.5" r="5.90" fill="#6565ff"/>
<circle cx="1253.7" cy="528.5" r="5.90" fill="#6060ff"/>
<circle cx="1266.9" cy="528.5" r="5.90" fill="#4b4bff"/>
<circle cx="1280.2" cy="528.5" r="5.90" fill="#4141ff"/>
<circle cx="1293.5" cy="528.5" r="5.90" fill="#4d4dff"/>
<circle cx="1306.7" cy="528.5" r="5.90" fill="#5757ff"/>
<circle cx="1320.0" cy="528.5" r="5.90" fill="#6565ff"/>
<circle cx="1333.2" cy="528.5" r="5.90" fill="#6e6eff"/>
<circle cx="1346.5" cy="528.5" r="5.90" fill="#8686ff"/>
<circle cx="1359.8" cy="528.5" r="5.90" fill="#9494ff"/>
<circle cx="1373.0" cy="528.5" r="5.90" fill="#a7a7ff"/>
<circle cx="1386.3" cy="528.5" r="5.90" fill="#b3b3ff"/>
<circle cx="1399.5" cy="528.5" r="5.90" fill="#ebebff"/>
<circle cx="1412.8" cy="528.5" r="5.90" fill="#f7f7ff"/>
<circle cx="1426.1" cy="528.5" r="5.90" fill="#fafaff"/>
<circle cx="1452.6" cy="528.5" r="5.90" fill="#fff7f7"/>
<circle cx="1465.8" cy="528.5" r="5.90" fill="#fff2f2"/>
<circle cx="1479.1" cy="528.5" r="5.90" fill="#ffebeb"/>
<circle cx="1492.4" cy="528.5" r="5.90" fill="#ffebeb"/>
<circle cx="1505.6" cy="528.5" r="5.90" fill="#ffebeb"/>
<circle cx="1518.9" cy="528.5" r="5.90" fill="#ffebeb"/>
<circle cx="1532.1" cy="528.5" r="5.90" fill="#ffe6e6"/>
<circle cx="1545.4" cy="528.5" r="5.90" fill="#ffd9d9"/>
<circle cx="1558.7" cy="528.5" r="5.90" fill="#ffd9d9"/>
<circle cx="908.9" cy="539.0" r="5.90" fill="#3838ff"/>
<circle cx="922.2" cy="539.0" r="5.90" fill="#5252ff"/>
<circle cx="935.4" cy="539.0" r="5.90" fill="#6b6bff"/>
<circle cx="948.7" cy="539.0" r="5.90" fill="#9e9eff"/>
<circle cx="962.0" cy="539.0" r="5.90" fill="#bfbfff"/>
<circle cx="975.2" cy="539.0" r="5.90" fill="#e0e0ff"/>
<circle cx="988.5" cy="539.0" r="5.90" fill="#f2f2ff"/>
<circle cx="1015.0" cy="539.0" r="5.90" fill="#ededff"/>
<circle cx="1028.3" cy="539.0" r="5.90" fill="#f7f7ff"/>
<circle cx="1054.8" cy="539.0" r="5.90" fill="#fff7f7"/>
<circle cx="1068.0" cy="539.0" r="5.90" fill="#fff7f7"/>
<circle cx="1081.3" cy="539.0" r="5.90" fill="#fff7f7"/>
<circle cx="1094.6" cy="539.0" r="5.90" fill="#fff7f7"/>
<circle cx="1107.8" cy="539.0" r="5.90" fill="#fff7f7"/>
<circle cx="1121.1" cy="539.0" r="5.90" fill="#fffafa"/>
<circle cx="1134.3" cy="539.0" r="5.90" fill="#f7f7ff"/>
<circle cx="1147.6" cy="539.0" r="5.90" fill="#f2f2ff"/>
<circle cx="1160.9" cy="539.0" r="5.90" fill="#e0e0ff"/>
<circle cx="1174.1" cy="539.0" r="5.90" fill="#cfcfff"/>
<circle cx="1187.4" cy="539.0" r="5.90" fill="#afafff"/>
<circle cx="1200.6" cy="539.0" r="5.90" fill="#a5a5ff"/>
<circle cx="1213.9" cy="539.0" r="5.90" fill="#8484ff"/>
<circle cx="1227.2" cy="539.0" r="5.90" fill="#7a7aff"/>
<circle cx="1240.4" cy="539.0" r="5.90" fill="#6262ff"/>
<circle cx="1253.7" cy="539.0" r="5.90" fill="#5d5dff"/>
<circle cx="1266.9" cy="539.0" r="5.90" fill="#4747ff"/>
<circle cx="1280.2" cy="539.0" r="5.90" fill="#3d3dff"/>
<circle cx="1293.5" cy="539.0" r="5.90" fill="#4949ff"/>
<circle cx="1306.7" cy="539.0" r="5.90" fill="#5353ff"/>
<circle cx="1320.0" cy="539.0" r="5.90" fill="#6262ff"/>
<circle cx="1333.2" cy="539.0" r="5.90" fill="#6b6bff"/>
<circle cx="1346.5" cy="539.0" r="5.90" fill="#8484ff"/>
<circle cx="1359.8" cy="539.0" r="5.90" fill="#9292ff"/>
<circle cx="1373.0" cy="539.0" r="5.90" fill="#a5a5ff"/>
<circle cx="1386.3" cy="539.0" r="5.90" fill="#b1b1ff"/>
<circle cx="1399.5" cy="539.0" r="5.90" fill="#e0e0ff"/>
<circle cx="1412.8" cy="539.0" r="5.90" fill="#ebebff"/>
<circle cx="1426.1" cy="539.0" r="5.90" fill="#ebebff"/>
<circle cx="1439.3" cy="539.0" r="5.90" fill="#f2f2ff"/>
<circle cx="1452.6" cy="539.0" r="5.90" fill="#f7f7ff"/>
<circle cx="1465.8" cy="539.0" r="5.90" fill="#fafaff"/>
<circle cx="1492.4" cy="539.0" r="5.90" fill="#fffafa"/>
<circle cx="1505.6" cy="539.0" r="5.90" fill="#fffafa"/>
<circle cx="1532.1" cy="539.0" r="5.90" fill="#fffafa"/>
<circle cx="1545.4" cy="539.0" r="5.90" fill="#fff2f2"/>
<circle cx="1558.7" cy="539.0" r="5.90" fill="#fff7f7"/>
<circle cx="1571.9" cy="539.0" r="5.90" fill="#e6e6ff"/>
<circle cx="908.9" cy="549.5" r="5.90" fill="#2e2eff"/>
<circle cx="922.2" cy="549.5" r="5.90" fill="#4747ff"/>
<circle cx="935.4" cy="549.5" r="5.90" fill="#6161ff"/>
<circle cx="948.7" cy="549.5" r="5.90" fill="#9494ff"/>
<circle cx="962.0" cy="549.5" r="5.90" fill="#b8b8ff"/>
<circle cx="975.2" cy="549.5" r="5.90" fill="#ccccff"/>
<circle cx="988.5" cy="549.5" r="5.90" fill="#d9d9ff"/>
<circle cx="1001.7" cy="549.5" r="5.90" fill="#e6e6ff"/>
<circle cx="1015.0" cy="549.5" r="5.90" fill="#d6d6ff"/>
<circle cx="1028.3" cy="549.5" r="5.90" fill="#dbdbff"/>
<circle cx="1041.5" cy="549.5" r="5.90" fill="#e6e6ff"/>
<circle cx="1054.8" cy="549.5" r="5.90" fill="#ededff"/>
<circle cx="1068.0" cy="549.5" r="5.90" fill="#eeeeff"/>
<circle cx="1081.3" cy="549.5" r="5.90" fill="#efefff"/>
<circle cx="1094.6" cy="549.5" r="5.90" fill="#f0f0ff"/>
<circle cx="1107.8" cy="549.5" r="5.90" fill="#f0f0ff"/>
<circle cx="1121.1" cy="549.5" r="5.90" fill="#ebebff"/>
<circle cx="1134.3" cy="549.5" r="5.90" fill="#e0e0ff"/>
<circle cx="1147.6" cy="549.5" r="5.90" fill="#d9d9ff"/>
<circle cx="1160.9" cy="549.5" r="5.90" fill="#dcdcff"/>
<circle cx="1174.1" cy="549.5" r="5.90" fill="#c9c9ff"/>
<circle cx="1187.4" cy="549.5" r="5.90" fill="#a7a7ff"/>
<circle cx="1200.6" cy="549.5" r="5.90" fill="#9c9cff"/>
<circle cx="1213.9" cy="549.5" r="5.90" fill="#7676ff"/>
<circle cx="1227.2" cy="549.5" r="5.90" fill="#6c6cff"/>
<circle cx="1240.4" cy="549.5" r="5.90" fill="#5151ff"/>
<circle cx="1253.7" cy="549.5" r="5.90" fill="#4b4bff"/>
<circle cx="1266.9" cy="549.5" r="5.90" fill="#3434ff"/>
<circle cx="1280.2" cy="549.5" r="5.90" fill="#2929ff"/>
<circle cx="1293.5" cy="549.5" r="5.90" fill="#3636ff"/>
<circle cx="1306.7" cy="549.5" r="5.90" fill="#4141ff"/>
<circle cx="1320.0" cy="549.5" r="5.90" fill="#5151ff"/>
<circle cx="1333.2" cy="549.5" r="5.90" fill="#5c5cff"/>
<circle cx="1346.5" cy="549.5" r="5.90" fill="#7676ff"/>
<circle cx="1359.8" cy="549.5" r="5.90" fill="#8686ff"/>
<circle cx="1373.0" cy="549.5" r="5.90" fill="#9c9cff"/>
<circle cx="1386.3" cy="549.5" r="5.90" fill="#a9a9ff"/>
<circle cx="1399.5" cy="549.5" r="5.90" fill="#ccccff"/>
<circle cx="1412.8" cy="549.5" r="5.90" fill="#d9d9ff"/>
<circle cx="1426.1" cy="549.5" r="5.90" fill="#d9d9ff"/>
<circle cx="1439.3" cy="549.5" r="5.90" fill="#d9d9ff"/>
<circle cx="1452.6" cy="549.5" r="5.90" fill="#e0e0ff"/>
<circle cx="1465.8" cy="549.5" r="5.90" fill="#e0e0ff"/>
<circle cx="1479.1" cy="549.5" r="5.90" fill="#ebebff"/>
<circle cx="1492.4" cy="549.5" r="5.90" fill="#ebebff"/>
<circle cx="1505.6" cy="549.5" r="5.90" fill="#ebebff"/>
<circle cx="1518.9" cy="549.5" r="5.90" fill="#ebebff"/>
<circle cx="1532.1" cy="549.5" r="5.90" fill="#f2f2ff"/>
<circle cx="1545.4" cy="549.5" r="5.90" fill="#f2f2ff"/>
<circle cx="1558.7" cy="549.5" r="5.90" fill="#ebebff"/>
<circle cx="1571.9" cy="549.5" r="5.90" fill="#e0e0ff"/>
<circle cx="1585.2" cy="549.5" r="5.90" fill="#ebebff"/>
<circle cx="908.9" cy="560.0" r="5.90" fill="#4747ff"/>
<circle cx="922.2" cy="560.0" r="5.90" fill="#6161ff"/>
<circle cx="935.4" cy="560.0" r="5.90" fill="#7a7aff"/>
<circle cx="948.7" cy="560.0" r="5.90" fill="#a6a6ff"/>
<circle cx="962.0" cy="560.0" r="5.90" fill="#d1d1ff"/>
<circle cx="975.2" cy="560.0" r="5.90" fill="#ebebff"/>
<circle cx="1001.7" cy="560.0" r="5.90" fill="#fff2f2"/>
<circle cx="1015.0" cy="560.0" r="5.90" fill="#fff7f7"/>
<circle cx="1028.3" cy="560.0" r="5.90" fill="#ffeded"/>
<circle cx="1041.5" cy="560.0" r="5.90" fill="#ffe6e6"/>
<circle cx="1054.8" cy="560.0" r="5.90" fill="#ffe6e6"/>
<circle cx="1068.0" cy="560.0" r="5.90" fill="#ffe6e6"/>
<circle cx="1081.3" cy="560.0" r="5.90" fill="#ffe6e6"/>
<circle cx="1094.6" cy="560.0" r="5.90" fill="#ffe6e6"/>
<circle cx="1107.8" cy="560.0" r="5.90" fill="#ffe6e6"/>
<circle cx="1121.1" cy="560.0" r="5.90" fill="#ffebeb"/>
<circle cx="1134.3" cy="560.0" r="5.90" fill="#fff2f2"/>
<circle cx="1147.6" cy="560.0" r="5.90" fill="#fffafa"/>
<circle cx="1160.9" cy="560.0" r="5.90" fill="#f2f2ff"/>
<circle cx="1174.1" cy="560.0" r="5.90" fill="#e0e0ff"/>
<circle cx="1187.4" cy="560.0" r="5.90" fill="#b1b1ff"/>
<circle cx="1200.6" cy="560.0" r="5.90" fill="#a7a7ff"/>
<circle cx="1213.9" cy="560.0" r="5.90" fill="#8686ff"/>
<circle cx="1227.2" cy="560.0" r="5.90" fill="#7c7cff"/>
<circle cx="1240.4" cy="560.0" r="5.90" fill="#6565ff"/>
<circle cx="1253.7" cy="560.0" r="5.90" fill="#6060ff"/>
<circle cx="1266.9" cy="560.0" r="5.90" fill="#4b4bff"/>
<circle cx="1280.2" cy="560.0" r="5.90" fill="#4141ff"/>
<circle cx="1293.5" cy="560.0" r="5.90" fill="#4d4dff"/>
<circle cx="1306.7" cy="560.0" r="5.90" fill="#5757ff"/>
<circle cx="1320.0" cy="560.0" r="5.90" fill="#6565ff"/>
<circle cx="1333.2" cy="560.0" r="5.90" fill="#6e6eff"/>
<circle cx="1346.5" cy="560.0" r="5.90" fill="#8686ff"/>
<circle cx="1359.8" cy="560.0" r="5.90" fill="#9494ff"/>
<circle cx="1373.0" cy="560.0" r="5.90" fill="#a7a7ff"/>
<circle cx="1386.3" cy="560.0" r="5.90" fill="#b3b3ff"/>
<circle cx="1399.5" cy="560.0" r="5.90" fill="#f2f2ff"/>
<circle cx="1412.8" cy="560.0" r="5.90" fill="#fffafa"/>
<circle cx="1426.1" cy="560.0" r="5.90" fill="#fff2f2"/>
<circle cx="1439.3" cy="560.0" r="5.90" fill="#fff2f2"/>
<circle cx="1452.6" cy="560.0" r="5.90" fill="#fff2f2"/>
<circle cx="1465.8" cy="560.0" r="5.90" fill="#ffebeb"/>
<circle cx="1479.1" cy="560.0" r="5.90" fill="#ffebeb"/>
<circle cx="1492.4" cy="560.0" r="5.90" fill="#ffebeb"/>
<circle cx="1505.6" cy="560.0" r="5.90" fill="#ffebeb"/>
<circle cx="1518.9" cy="560.0" r="5.90" fill="#ffe6e6"/>
<circle cx="1532.1" cy="560.0" r="5.90" fill="#ffe6e6"/>
<circle cx="1545.4" cy="560.0" r="5.90" fill="#ffe0e0"/>
<circle cx="1558.7" cy="560.0" r="5.90" fill="#ffe0e0"/>
<circle cx="1571.9" cy="560.0" r="5.90" fill="#fff2f2"/>
<circle cx="1585.2" cy="560.0" r="5.90" fill="#ffe6e6"/>
<circle cx="1598.4" cy="560.0" r="5.90" fill="#ffd9d9"/>
<circle cx="908.9" cy="570.4" r="5.90" fill="#5959ff"/>
<circle cx="922.2" cy="570.4" r="5.90" fill="#7373ff"/>
<circle cx="935.4" cy="570.4" r="5.90" fill="#8c8cff"/>
<circle cx="948.7" cy="570.4" r="5.90" fill="#b8b8ff"/>
<circle cx="962.0" cy="570.4" r="5.90" fill="#e0e0ff"/>
<circle cx="988.5" cy="570.4" r="5.90" fill="#ffebeb"/>
<circle cx="1001.7" cy="570.4" r="5.90" fill="#ffe0e0"/>
<circle cx="1015.0" cy="570.4" r="5.90" fill="#ffe0e0"/>
<circle cx="1028.3" cy="570.4" r="5.90" fill="#ffd6d6"/>
<circle cx="1041.5" cy="570.4" r="5.90" fill="#ffd1d1"/>
<circle cx="1054.8" cy="570.4" r="5.90" fill="#ffcccc"/>
<circle cx="1068.0" cy="570.4" r="5.90" fill="#ffcccc"/>
<circle cx="1081.3" cy="570.4" r="5.90" fill="#ffcccc"/>
<circle cx="1094.6" cy="570.4" r="5.90" fill="#ffcccc"/>
<circle cx="1107.8" cy="570.4" r="5.90" fill="#ffd1d1"/>
<circle cx="1121.1" cy="570.4" r="5.90" fill="#ffd9d9"/>
<circle cx="1134.3" cy="570.4" r="5.90" fill="#ffe0e0"/>
<circle cx="1147.6" cy="570.4" r="5.90" fill="#ffebeb"/>
<circle cx="1174.1" cy="570.4" r="5.90" fill="#ebebff"/>
<circle cx="1187.4" cy="570.4" r="5.90" fill="#b7b7ff"/>
<circle cx="1200.6" cy="570.4" r="5.90" fill="#afafff"/>
<circle cx="1213.9" cy="570.4" r="5.90" fill="#9191ff"/>
<circle cx="1227.2" cy="570.4" r="5.90" fill="#8888ff"/>
<circle cx="1240.4" cy="570.4" r="5.90" fill="#7272ff"/>
<circle cx="1253.7" cy="570.4" r="5.90" fill="#6e6eff"/>
<circle cx="1266.9" cy="570.4" r="5.90" fill="#5a5aff"/>
<circle cx="1280.2" cy="570.4" r="5.90" fill="#5252ff"/>
<circle cx="1293.5" cy="570.4" r="5.90" fill="#5d5dff"/>
<circle cx="1306.7" cy="570.4" r="5.90" fill="#6565ff"/>
<circle cx="1320.0" cy="570.4" r="5.90" fill="#7272ff"/>
<circle cx="1333.2" cy="570.4" r="5.90" fill="#7b7bff"/>
<circle cx="1346.5" cy="570.4" r="5.90" fill="#9191ff"/>
<circle cx="1359.8" cy="570.4" r="5.90" fill="#9d9dff"/>
<circle cx="1373.0" cy="570.4" r="5.90" fill="#afafff"/>
<circle cx="1386.3" cy="570.4" r="5.90" fill="#babaff"/>
<circle cx="1399.5" cy="570.4" r="5.90" fill="#fff2f2"/>
<circle cx="1412.8" cy="570.4" r="5.90" fill="#ffe6e6"/>
<circle cx="1426.1" cy="570.4" r="5.90" fill="#ffe0e0"/>
<circle cx="1439.3" cy="570.4" r="5.90" fill="#ffe0e0"/>
<circle cx="1452.6" cy="570.4" r="5.90" fill="#ffd9d9"/>
<circle cx="1465.8" cy="570.4" r="5.90" fill="#ffd9d9"/>
<circle cx="1479.1" cy="570.4" r="5.90" fill="#ffd1d1"/>
<circle cx="1492.4" cy="570.4" r="5.90" fill="#ffd1d1"/>
<circle cx="1505.6" cy="570.4" r="5.90" fill="#ffd1d1"/>
<circle cx="1518.9" cy="570.4" r="5.90" fill="#ffd9d9"/>
<circle cx="1532.1" cy="570.4" r="5.90" fill="#ffd9d9"/>
<circle cx="1545.4" cy="570.4" r="5.90" fill="#ffcccc"/>
<circle cx="1558.7" cy="570.4" r="5.90" fill="#ffcccc"/>
<circle cx="1571.9" cy="570.4" r="5.90" fill="#ffe6e6"/>
<circle cx="1585.2" cy="570.4" r="5.90" fill="#ffd9d9"/>
<circle cx="1598.4" cy="570.4" r="5.90" fill="#ffcccc"/>
<circle cx="1611.7" cy="570.4" r="5.90" fill="#ffd9d9"/>
<circle cx="908.9" cy="580.9" r="5.90" fill="#4d4dff"/>
<circle cx="922.2" cy="580.9" r="5.90" fill="#6666ff"/>
<circle cx="935.4" cy="580.9" r="5.90" fill="#8080ff"/>
<circle cx="948.7" cy="580.9" r="5.90" fill="#adadff"/>
<circle cx="962.0" cy="580.9" r="5.90" fill="#d9d9ff"/>
<circle cx="975.2" cy="580.9" r="5.90" fill="#f2f2ff"/>
<circle cx="1001.7" cy="580.9" r="5.90" fill="#fffcfc"/>
<circle cx="1015.0" cy="580.9" r="5.90" fill="#fffafa"/>
<circle cx="1028.3" cy="580.9" r="5.90" fill="#fffafa"/>
<circle cx="1041.5" cy="580.9" r="5.90" fill="#fffbfb"/>
<circle cx="1054.8" cy="580.9" r="5.90" fill="#fffbfb"/>
<circle cx="1068.0" cy="580.9" r="5.90" fill="#fffcfc"/>
<circle cx="1081.3" cy="580.9" r="5.90" fill="#fffcfc"/>
<circle cx="1094.6" cy="580.9" r="5.90" fill="#fffdfd"/>
<circle cx="1107.8" cy="580.9" r="5.90" fill="#fffdfd"/>
<circle cx="1121.1" cy="580.9" r="5.90" fill="#fffefe"/>
<circle cx="1134.3" cy="580.9" r="5.90" fill="#fffefe"/>
<circle cx="1160.9" cy="580.9" r="5.90" fill="#f2f2ff"/>
<circle cx="1174.1" cy="580.9" r="5.90" fill="#e6e6ff"/>
<circle cx="1187.4" cy="580.9" r="5.90" fill="#b3b3ff"/>
<circle cx="1200.6" cy="580.9" r="5.90" fill="#aaaaff"/>
<circle cx="1213.9" cy="580.9" r="5.90" fill="#8a8aff"/>
<circle cx="1227.2" cy="580.9" r="5.90" fill="#8181ff"/>
<circle cx="1240.4" cy="580.9" r="5.90" fill="#6a6aff"/>
<circle cx="1253.7" cy="580.9" r="5.90" fill="#6565ff"/>
<circle cx="1266.9" cy="580.9" r="5.90" fill="#5151ff"/>
<circle cx="1280.2" cy="580.9" r="5.90" fill="#4747ff"/>
<circle cx="1293.5" cy="580.9" r="5.90" fill="#5353ff"/>
<circle cx="1306.7" cy="580.9" r="5.90" fill="#5c5cff"/>
<circle cx="1320.0" cy="580.9" r="5.90" fill="#6a6aff"/>
<circle cx="1333.2" cy="580.9" r="5.90" fill="#7373ff"/>
<circle cx="1346.5" cy="580.9" r="5.90" fill="#8a8aff"/>
<circle cx="1359.8" cy="580.9" r="5.90" fill="#9898ff"/>
<circle cx="1373.0" cy="580.9" r="5.90" fill="#aaaaff"/>
<circle cx="1386.3" cy="580.9" r="5.90" fill="#b6b6ff"/>
<circle cx="1399.5" cy="580.9" r="5.90" fill="#e6e6ff"/>
<circle cx="1412.8" cy="580.9" r="5.90" fill="#e6e6ff"/>
<circle cx="1426.1" cy="580.9" r="5.90" fill="#e6e6ff"/>
<circle cx="1439.3" cy="580.9" r="5.90" fill="#e6e6ff"/>
<circle cx="1452.6" cy="580.9" r="5.90" fill="#e6e6ff"/>
<circle cx="1465.8" cy="580.9" r="5.90" fill="#e6e6ff"/>
<circle cx="1479.1" cy="580.9" r="5.90" fill="#e6e6ff"/>
<circle cx="1492.4" cy="580.9" r="5.90" fill="#e6e6ff"/>
<circle cx="1505.6" cy="580.9" r="5.90" fill="#e6e6ff"/>
<circle cx="1518.9" cy="580.9" r="5.90" fill="#e6e6ff"/>
<circle cx="1532.1" cy="580.9" r="5.90" fill="#e6e6ff"/>
<circle cx="1545.4" cy="580.9" r="5.90" fill="#e6e6ff"/>
<circle cx="1558.7" cy="580.9" r="5.90" fill="#e3e3ff"/>
<circle cx="1571.9" cy="580.9" r="5.90" fill="#e1e1ff"/>
<circle cx="1585.2" cy="580.9" r="5.90" fill="#dfdfff"/>
<circle cx="1598.4" cy="580.9" r="5.90" fill="#ddddff"/>
<circle cx="1611.7" cy="580.9" r="5.90" fill="#dbdbff"/>
<circle cx="1625.0" cy="580.9" r="5.90" fill="#d9d9ff"/></g>
<g clip-path="url(#c1)" fill="none" stroke-linejoin="round">
<polyline points="753.8,2.9 780.0,12.6 790.6,22.2 802.7,31.8 805.7,41.5 804.2,51.1 799.7,60.7 807.3,70.3 805.1,80.0 808.2,89.6 804.2,99.2 806.0,108.8 807.3,118.5 806.0,128.1 805.1,137.7 805.5,147.3 805.5,156.9 805.7,166.6 799.7,176.2 799.7,185.8 802.7,195.4 802.0,205.1 801.2,214.7 790.6,224.3 737.8,233.9 754.4,243.6 739.3,253.2 739.3,262.8 753.8,272.4 737.8,282.1 718.1,291.7 736.9,301.3 719.6,310.9 721.8,320.6 748.3,330.2 768.0,339.8 772.5,349.4 792.1,359.1 802.7,368.7 799.7,378.3 801.2,387.9 804.2,397.6 803.3,407.2 805.0,416.8 808.2,426.4 799.7,436.1 792.0,445.7 787.6,455.3 800.0,464.9 806.0,474.6 808.2,484.2 805.7,493.8 804.2,503.4 802.5,513.1 801.2,522.7 799.5,532.3 799.2,542.0 792.0,551.6 785.0,561.2 774.9,570.8 784.0,580.5" stroke="#000" stroke-width="5.3" stroke-linejoin="miter" stroke-miterlimit="1.8"/>
<polyline points="804.0,2.9 810.3,12.6 796.7,22.2 781.6,31.8 803.3,41.5 803.3,51.1 790.6,60.7 808.2,70.3 791.2,80.0 795.2,89.6 813.3,99.2 778.0,108.8 810.3,118.5 814.2,128.1 791.2,137.7 770.1,147.3 746.8,156.9 753.8,166.6 797.3,176.2 779.2,185.8 762.0,195.4 772.5,205.1 761.9,214.7 763.4,224.3 792.1,233.9 813.3,243.6 785.2,253.2 809.4,262.8 788.2,272.4 809.4,282.1 789.1,291.7 798.2,301.3 807.3,310.9 795.2,320.6 770.1,330.2 774.0,339.8 718.7,349.4 765.0,359.1 729.3,368.7 798.2,378.3 755.9,387.9 802.7,397.6 777.9,407.2 798.2,416.8 799.1,426.4 797.3,436.1 806.3,445.7 799.7,455.3 772.5,464.9 790.6,474.6 814.8,484.2 745.9,493.8 805.7,503.4 739.3,513.1 813.3,522.7 729.6,532.3 733.8,542.0 765.2,551.6 777.0,561.2 810.3,570.8 811.5,580.5" stroke="#008000" stroke-width="3.8"/>
<g fill="#000" stroke="none"><circle cx="810.3" cy="12.6" r="1.6"/>
<circle cx="796.7" cy="22.2" r="1.6"/>
<circle cx="781.6" cy="31.8" r="1.6"/>
<circle cx="803.3" cy="41.5" r="1.6"/>
<circle cx="803.3" cy="51.1" r="1.6"/>
<circle cx="790.6" cy="60.7" r="1.6"/>
<circle cx="808.2" cy="70.3" r="1.6"/>
<circle cx="791.2" cy="80.0" r="1.6"/>
<circle cx="795.2" cy="89.6" r="1.6"/>
<circle cx="813.3" cy="99.2" r="1.6"/>
<circle cx="778.0" cy="108.8" r="1.6"/>
<circle cx="810.3" cy="118.5" r="1.6"/>
<circle cx="814.2" cy="128.1" r="1.6"/>
<circle cx="791.2" cy="137.7" r="1.6"/>
<circle cx="770.1" cy="147.3" r="1.6"/>
<circle cx="746.8" cy="156.9" r="1.6"/>
<circle cx="753.8" cy="166.6" r="1.6"/>
<circle cx="797.3" cy="176.2" r="1.6"/>
<circle cx="779.2" cy="185.8" r="1.6"/>
<circle cx="762.0" cy="195.4" r="1.6"/>
<circle cx="772.5" cy="205.1" r="1.6"/>
<circle cx="761.9" cy="214.7" r="1.6"/>
<circle cx="763.4" cy="224.3" r="1.6"/>
<circle cx="792.1" cy="233.9" r="1.6"/>
<circle cx="813.3" cy="243.6" r="1.6"/>
<circle cx="785.2" cy="253.2" r="1.6"/>
<circle cx="809.4" cy="262.8" r="1.6"/>
<circle cx="788.2" cy="272.4" r="1.6"/>
<circle cx="809.4" cy="282.1" r="1.6"/>
<circle cx="789.1" cy="291.7" r="1.6"/>
<circle cx="798.2" cy="301.3" r="1.6"/>
<circle cx="807.3" cy="310.9" r="1.6"/>
<circle cx="795.2" cy="320.6" r="1.6"/>
<circle cx="770.1" cy="330.2" r="1.6"/>
<circle cx="774.0" cy="339.8" r="1.6"/>
<circle cx="718.7" cy="349.4" r="1.6"/>
<circle cx="765.0" cy="359.1" r="1.6"/>
<circle cx="729.3" cy="368.7" r="1.6"/>
<circle cx="798.2" cy="378.3" r="1.6"/>
<circle cx="755.9" cy="387.9" r="1.6"/>
<circle cx="802.7" cy="397.6" r="1.6"/>
<circle cx="777.9" cy="407.2" r="1.6"/>
<circle cx="798.2" cy="416.8" r="1.6"/>
<circle cx="799.1" cy="426.4" r="1.6"/>
<circle cx="797.3" cy="436.1" r="1.6"/>
<circle cx="806.3" cy="445.7" r="1.6"/>
<circle cx="799.7" cy="455.3" r="1.6"/>
<circle cx="772.5" cy="464.9" r="1.6"/>
<circle cx="790.6" cy="474.6" r="1.6"/>
<circle cx="814.8" cy="484.2" r="1.6"/>
<circle cx="745.9" cy="493.8" r="1.6"/>
<circle cx="805.7" cy="503.4" r="1.6"/>
<circle cx="739.3" cy="513.1" r="1.6"/>
<circle cx="813.3" cy="522.7" r="1.6"/>
<circle cx="729.6" cy="532.3" r="1.6"/>
<circle cx="733.8" cy="542.0" r="1.6"/>
<circle cx="765.2" cy="551.6" r="1.6"/>
<circle cx="777.0" cy="561.2" r="1.6"/>
<circle cx="810.3" cy="570.8" r="1.6"/></g></g>
<g clip-path="url(#c2)" fill="none" stroke-linejoin="round">
<polyline points="1544.7,4.5 1567.4,13.6 1585.5,27.2 1594.0,36.3 1597.0,48.3 1602.1,57.4 1602.1,78.5 1599.1,99.7 1590.0,117.8 1581.9,130.5 1580.0,151.1 1590.0,170.7 1600.6,190.3 1606.0,208.1 1603.6,226.3 1600.6,244.4 1598.2,256.5 1588.5,265.5 1581.0,276.1 1568.9,286.1 1565.0,297.3 1566.8,309.3 1573.4,318.4 1585.5,332.0 1597.6,345.6 1604.2,359.2 1605.1,377.3 1603.6,389.0 1593.0,404.2 1577.9,423.8 1565.8,434.4 1560.7,445.0 1558.3,454.9 1568.9,464.6 1590.0,476.1 1597.6,485.7 1599.1,503.9 1602.1,522.0 1606.0,537.1 1603.6,554.7 1603.6,573.4 1605.1,582.0" stroke="#000" stroke-width="5.3" stroke-linejoin="miter" stroke-miterlimit="1.8"/>
<polyline points="1585.5,4.0 1603.6,14.5 1559.8,25.0 1587.0,35.5 1544.7,45.9 1599.1,56.4 1609.7,66.9 1618.1,77.4 1626.3,87.9 1628.4,98.4 1628.4,108.9 1636.2,119.4 1636.2,129.9 1637.5,140.4 1630.8,150.8 1629.3,161.3 1614.2,171.8 1627.2,182.3 1590.0,192.8 1616.3,203.3 1569.8,213.8 1609.0,224.3 1566.8,234.8 1614.2,245.2 1585.5,255.7 1611.2,266.2 1609.0,276.7 1631.4,287.2 1621.7,297.7 1613.3,308.2 1612.7,318.7 1618.7,329.2 1602.1,339.7 1590.0,350.1 1609.0,360.6 1564.9,371.1 1563.7,381.6 1612.1,392.1 1630.2,402.6 1635.3,413.1 1618.1,423.6 1634.4,434.1 1629.3,444.6 1637.5,455.1 1628.4,465.5 1624.8,476.0 1637.5,486.5 1609.7,497.0 1621.7,507.5 1600.0,518.0 1612.7,528.5 1603.6,539.0 1576.4,549.5 1598.2,560.0 1571.9,570.4 1618.0,580.9" stroke="#008000" stroke-width="3.8"/>
<g fill="#000" stroke="none"><circle cx="1603.6" cy="14.5" r="1.6"/>
<circle cx="1559.8" cy="25.0" r="1.6"/>
<circle cx="1587.0" cy="35.5" r="1.6"/>
<circle cx="1544.7" cy="45.9" r="1.6"/>
<circle cx="1599.1" cy="56.4" r="1.6"/>
<circle cx="1609.7" cy="66.9" r="1.6"/>
<circle cx="1618.1" cy="77.4" r="1.6"/>
<circle cx="1626.3" cy="87.9" r="1.6"/>
<circle cx="1628.4" cy="98.4" r="1.6"/>
<circle cx="1628.4" cy="108.9" r="1.6"/>
<circle cx="1636.2" cy="119.4" r="1.6"/>
<circle cx="1636.2" cy="129.9" r="1.6"/>
<circle cx="1637.5" cy="140.4" r="1.6"/>
<circle cx="1630.8" cy="150.8" r="1.6"/>
<circle cx="1629.3" cy="161.3" r="1.6"/>
<circle cx="1614.2" cy="171.8" r="1.6"/>
<circle cx="1627.2" cy="182.3" r="1.6"/>
<circle cx="1590.0" cy="192.8" r="1.6"/>
<circle cx="1616.3" cy="203.3" r="1.6"/>
<circle cx="1569.8" cy="213.8" r="1.6"/>
<circle cx="1609.0" cy="224.3" r="1.6"/>
<circle cx="1566.8" cy="234.8" r="1.6"/>
<circle cx="1614.2" cy="245.2" r="1.6"/>
<circle cx="1585.5" cy="255.7" r="1.6"/>
<circle cx="1611.2" cy="266.2" r="1.6"/>
<circle cx="1609.0" cy="276.7" r="1.6"/>
<circle cx="1631.4" cy="287.2" r="1.6"/>
<circle cx="1621.7" cy="297.7" r="1.6"/>
<circle cx="1613.3" cy="308.2" r="1.6"/>
<circle cx="1612.7" cy="318.7" r="1.6"/>
<circle cx="1618.7" cy="329.2" r="1.6"/>
<circle cx="1602.1" cy="339.7" r="1.6"/>
<circle cx="1590.0" cy="350.1" r="1.6"/>
<circle cx="1609.0" cy="360.6" r="1.6"/>
<circle cx="1564.9" cy="371.1" r="1.6"/>
<circle cx="1563.7" cy="381.6" r="1.6"/>
<circle cx="1612.1" cy="392.1" r="1.6"/>
<circle cx="1630.2" cy="402.6" r="1.6"/>
<circle cx="1635.3" cy="413.1" r="1.6"/>
<circle cx="1618.1" cy="423.6" r="1.6"/>
<circle cx="1634.4" cy="434.1" r="1.6"/>
<circle cx="1629.3" cy="444.6" r="1.6"/>
<circle cx="1637.5" cy="455.1" r="1.6"/>
<circle cx="1628.4" cy="465.5" r="1.6"/>
<circle cx="1624.8" cy="476.0" r="1.6"/>
<circle cx="1637.5" cy="486.5" r="1.6"/>
<circle cx="1609.7" cy="497.0" r="1.6"/>
<circle cx="1621.7" cy="507.5" r="1.6"/>
<circle cx="1600.0" cy="518.0" r="1.6"/>
<circle cx="1612.7" cy="528.5" r="1.6"/>
<circle cx="1603.6" cy="539.0" r="1.6"/>
<circle cx="1576.4" cy="549.5" r="1.6"/>
<circle cx="1598.2" cy="560.0" r="1.6"/>
<circle cx="1571.9" cy="570.4" r="1.6"/></g></g>
<path d="M86.5,3.3 V579.6 H831.5 V3.3" fill="none" stroke="#000" stroke-width="2.2" stroke-linejoin="miter"/>
<path d="M111.0,579.6 v-7 M232.8,579.6 v-7 M354.6,579.6 v-7 M476.4,579.6 v-7 M598.2,579.6 v-7 M720.0,579.6 v-7 M86.5,22.2 h7 M831.5,22.2 h-7 M86.5,118.5 h7 M831.5,118.5 h-7 M86.5,214.7 h7 M831.5,214.7 h-7 M86.5,310.9 h7 M831.5,310.9 h-7 M86.5,407.2 h7 M831.5,407.2 h-7 M86.5,503.4 h7 M831.5,503.4 h-7" stroke="#000" stroke-width="2.2" fill="none"/>
<text x="115.0" y="610.8" text-anchor="middle" class="tk" textLength="30.5" lengthAdjust="spacingAndGlyphs">30</text>
<text x="234.5" y="610.8" text-anchor="middle" class="tk" textLength="30.5" lengthAdjust="spacingAndGlyphs">40</text>
<text x="354.7" y="610.8" text-anchor="middle" class="tk" textLength="30.5" lengthAdjust="spacingAndGlyphs">50</text>
<text x="481.3" y="610.8" text-anchor="middle" class="tk" textLength="30.5" lengthAdjust="spacingAndGlyphs">60</text>
<text x="601.3" y="610.8" text-anchor="middle" class="tk" textLength="30.5" lengthAdjust="spacingAndGlyphs">70</text>
<text x="721.3" y="610.8" text-anchor="middle" class="tk" textLength="30.5" lengthAdjust="spacingAndGlyphs">80</text>
<text x="77.3" y="31.8" text-anchor="end" class="tk" textLength="30.5" lengthAdjust="spacingAndGlyphs">30</text>
<text x="77.5" y="129.0" text-anchor="end" class="tk" textLength="30.5" lengthAdjust="spacingAndGlyphs">40</text>
<text x="79.2" y="226.9" text-anchor="end" class="tk" textLength="30.5" lengthAdjust="spacingAndGlyphs">50</text>
<text x="78.4" y="319.9" text-anchor="end" class="tk" textLength="30.5" lengthAdjust="spacingAndGlyphs">60</text>
<text x="79.2" y="415.0" text-anchor="end" class="tk" textLength="30.5" lengthAdjust="spacingAndGlyphs">70</text>
<text x="78.2" y="513.9" text-anchor="end" class="tk" textLength="30.5" lengthAdjust="spacingAndGlyphs">80</text>
<path d="M908.4,4.1 V580.5 H1653.2 V4.1" fill="none" stroke="#000" stroke-width="2.2" stroke-linejoin="miter"/>
<path d="M1015.0,580.5 v-7 M1147.6,580.5 v-7 M1280.2,580.5 v-7 M1412.8,580.5 v-7 M1545.4,580.5 v-7 M908.4,87.9 h7 M1653.2,87.9 h-7 M908.4,192.8 h7 M1653.2,192.8 h-7 M908.4,297.7 h7 M1653.2,297.7 h-7 M908.4,402.6 h7 M1653.2,402.6 h-7 M908.4,507.5 h7 M1653.2,507.5 h-7" stroke="#000" stroke-width="2.2" fill="none"/>
<text x="1019.4" y="610.8" text-anchor="middle" class="tk" textLength="30.5" lengthAdjust="spacingAndGlyphs">10</text>
<text x="1151.4" y="610.8" text-anchor="middle" class="tk" textLength="30.5" lengthAdjust="spacingAndGlyphs">20</text>
<text x="1284.6" y="610.8" text-anchor="middle" class="tk" textLength="30.5" lengthAdjust="spacingAndGlyphs">30</text>
<text x="1416.6" y="610.8" text-anchor="middle" class="tk" textLength="30.5" lengthAdjust="spacingAndGlyphs">40</text>
<text x="1548.7" y="610.8" text-anchor="middle" class="tk" textLength="30.5" lengthAdjust="spacingAndGlyphs">50</text>
<text x="895.0" y="101.0" text-anchor="end" class="tk" textLength="30.5" lengthAdjust="spacingAndGlyphs">10</text>
<text x="896.2" y="204.9" text-anchor="end" class="tk" textLength="30.5" lengthAdjust="spacingAndGlyphs">20</text>
<text x="896.2" y="307.0" text-anchor="end" class="tk" textLength="30.5" lengthAdjust="spacingAndGlyphs">30</text>
<text x="897.2" y="416.8" text-anchor="end" class="tk" textLength="30.5" lengthAdjust="spacingAndGlyphs">40</text>
<text x="895.6" y="517.0" text-anchor="end" class="tk" textLength="30.5" lengthAdjust="spacingAndGlyphs">50</text>
<text x="207.1" y="652.9" class="al" textLength="512" lengthAdjust="spacingAndGlyphs">Residue ID (begining of a segment)</text>
<text x="1059.7" y="652.6" class="al" textLength="511.7" lengthAdjust="spacingAndGlyphs">Residue ID (begining of a segment)</text>
<text transform="translate(29,470) rotate(-90)" class="al" textLength="435.7" lengthAdjust="spacingAndGlyphs">Residue ID (end of a segment)</text>
<text x="517.8" y="214.8" class="an" fill="#0a7832" stroke="#0a7832" textLength="158.4" lengthAdjust="spacingAndGlyphs">low |GLN|</text>
<text x="470.7" y="262" class="an" fill="#000" stroke="#000" textLength="206" lengthAdjust="spacingAndGlyphs">high B-factor</text>
<text x="1301.8" y="134" class="an" fill="#0e8a3c" stroke="#0e8a3c" textLength="158.8" lengthAdjust="spacingAndGlyphs">low |GLN|</text>
<text x="1256" y="181.7" class="an" fill="#000" stroke="#000" textLength="207" lengthAdjust="spacingAndGlyphs">high B-factor</text>
<path d="M177.2,293.9 H131.0" stroke="#000" stroke-width="3.3" fill="none"/><path d="M109.2,293.9 L132.0,280.6 L132.0,307.2 Z" fill="#000"/>
<path d="M627.1,293.1 H676.5" stroke="#000" stroke-width="3.3" fill="none"/><path d="M695.8,293.1 L675.5,281.4 L675.5,304.8 Z" fill="#000"/>
<path d="M1003.5,136.4 H956.9" stroke="#000" stroke-width="3.3" fill="none"/><path d="M935.1,136.4 L957.9,123.1 L957.9,149.7 Z" fill="#000"/>
<path d="M1010.9,298.1 H964.4" stroke="#000" stroke-width="3.3" fill="none"/><path d="M942.6,298.1 L965.4,284.8 L965.4,311.4 Z" fill="#000"/>
<path d="M1005.8,463.6 H958.9" stroke="#000" stroke-width="3.3" fill="none"/><path d="M937.1,463.6 L959.9,450.3 L959.9,476.9 Z" fill="#000"/>
<path d="M1483.0,139.6 H1532.5" stroke="#000" stroke-width="3.3" fill="none"/><path d="M1551.8,139.6 L1531.5,127.9 L1531.5,151.3 Z" fill="#000"/>
<path d="M1480.1,303.1 H1529.2" stroke="#000" stroke-width="3.3" fill="none"/><path d="M1548.5,303.1 L1528.2,291.4 L1528.2,314.8 Z" fill="#000"/>
<path d="M1478.2,456.9 H1527.2" stroke="#000" stroke-width="3.3" fill="none"/><path d="M1546.5,456.9 L1526.2,445.2 L1526.2,468.6 Z" fill="#000"/>
</svg>
</body></html>
